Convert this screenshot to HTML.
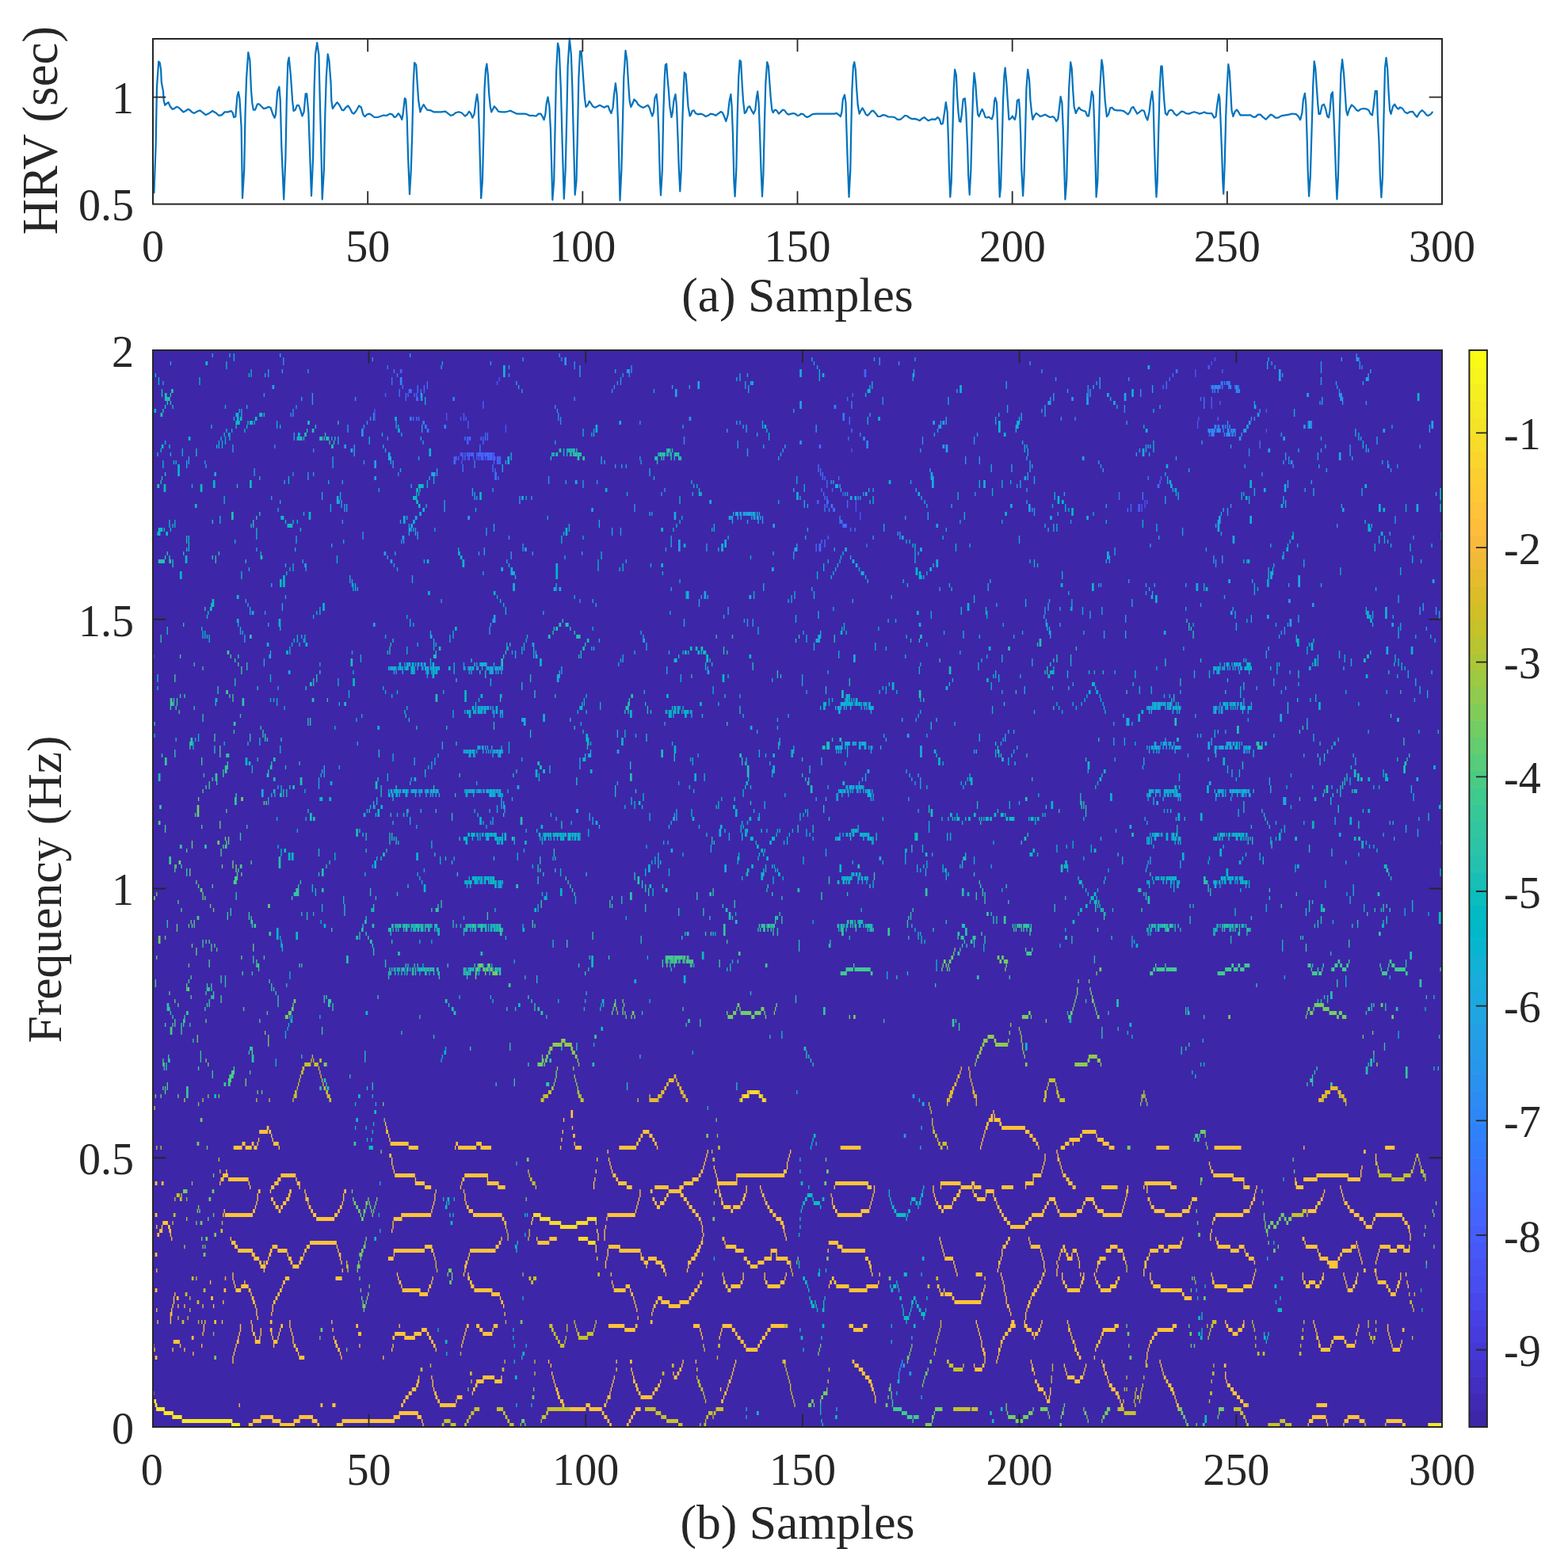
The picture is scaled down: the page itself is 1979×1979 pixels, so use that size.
<!DOCTYPE html>
<html><head><meta charset="utf-8"><title>HRV spectrogram</title>
<style>html,body{margin:0;padding:0;background:#fff;width:1979px;height:1979px;overflow:hidden}</style>
</head><body>
<svg width="1979" height="1979" viewBox="0 0 1979 1979" style="position:absolute;left:0;top:0"><rect width="1979" height="1979" fill="#ffffff"/><rect x="193" y="442" width="1627" height="1359" fill="#3e26a8"/><path fill="#4758f8" d="M472.3 521h1.36v5h-1.36zM563.1 521h1.36v5h-1.36zM472.3 516h1.36v5h-1.36zM588.9 551h2.71v5h-2.71zM637.7 541h1.36v5h-1.36zM1597.6 541h1.36v5h-1.36zM1510.9 531h1.36v5h-1.36zM637.7 536h1.36v5h-1.36zM1510.9 536h1.36v5h-1.36zM588.9 556h2.71v5h-2.71zM472.3 526h1.36v5h-1.36zM563.1 526h1.36v5h-1.36zM580.8 526h1.36v5h-1.36zM1512.2 526h1.36v5h-1.36zM580.8 571h2.71v5h-2.71zM591.6 571h2.71v5h-2.71zM597.0 571h1.36v5h-1.36zM610.6 571h1.36v5h-1.36zM621.4 571h1.36v5h-1.36zM1074.3 566h1.36v5h-1.36zM1085.1 651h1.36v5h-1.36zM1030.9 631h2.71v5h-2.71zM1079.7 631h1.36v5h-1.36zM1444.4 631h1.36v5h-1.36zM1447.1 631h1.36v5h-1.36zM1079.7 636h1.36v5h-1.36zM1436.3 636h2.71v5h-2.71zM1440.4 636h1.36v5h-1.36zM1444.4 636h1.36v5h-1.36zM1085.1 646h1.36v5h-1.36zM1079.7 641h1.36v5h-1.36zM1436.3 641h2.71v5h-2.71zM1440.4 641h1.36v5h-1.36zM574.0 576h1.36v5h-1.36zM591.6 576h1.36v5h-1.36zM597.0 576h1.36v5h-1.36zM621.4 576h1.36v5h-1.36zM630.9 576h1.36v5h-1.36zM574.0 581h1.36v5h-1.36zM582.1 581h1.36v5h-1.36zM630.9 581h1.36v5h-1.36zM626.9 481h1.36v5h-1.36zM629.6 476h1.36v5h-1.36zM1528.5 456h1.36v5h-1.36zM1524.4 461h2.71v5h-2.71zM1532.6 451h1.36v5h-1.36zM1508.2 471h1.36v5h-1.36zM1508.2 466h1.36v5h-1.36z"/><path fill="#4563fd" d="M584.8 521h1.36v5h-1.36zM1597.6 516h1.36v5h-1.36zM609.2 511h1.36v5h-1.36zM1528.5 511h1.36v5h-1.36zM609.2 506h1.36v5h-1.36zM1528.5 506h1.36v5h-1.36zM1539.3 506h1.36v5h-1.36zM1528.5 501h1.36v5h-1.36zM485.9 496h1.36v5h-1.36zM591.6 551h2.71v5h-2.71zM590.3 531h1.36v5h-1.36zM590.3 536h1.36v5h-1.36zM584.8 526h1.36v5h-1.36zM587.5 526h1.36v5h-1.36zM583.5 571h1.36v5h-1.36zM588.9 571h2.71v5h-2.71zM594.3 571h2.71v5h-2.71zM601.1 571h1.36v5h-1.36zM603.8 571h4.07v5h-4.07zM609.2 571h1.36v5h-1.36zM612.0 571h4.07v5h-4.07zM617.4 571h4.07v5h-4.07zM622.8 571h1.36v5h-1.36zM1464.8 601h1.36v5h-1.36zM1049.9 616h1.36v5h-1.36zM572.6 576h1.36v5h-1.36zM578.1 576h1.36v5h-1.36zM583.5 576h1.36v5h-1.36zM590.3 576h1.36v5h-1.36zM601.1 576h1.36v5h-1.36zM603.8 576h1.36v5h-1.36zM606.5 576h1.36v5h-1.36zM609.2 576h1.36v5h-1.36zM612.0 576h1.36v5h-1.36zM614.7 576h1.36v5h-1.36zM617.4 576h4.07v5h-4.07zM622.8 576h2.71v5h-2.71zM626.9 576h2.71v5h-2.71zM622.8 581h1.36v5h-1.36zM626.9 581h2.71v5h-2.71zM1090.6 471h2.71v5h-2.71zM504.8 466h2.71v5h-2.71zM1090.6 466h2.71v5h-2.71zM1542.1 466h1.36v5h-1.36z"/><path fill="#3e6fff" d="M511.6 501h1.36v5h-1.36zM525.2 501h2.71v5h-2.71zM530.6 501h1.36v5h-1.36zM1068.9 501h1.36v5h-1.36zM1514.9 501h1.36v5h-1.36zM511.6 496h1.36v5h-1.36zM514.3 496h1.36v5h-1.36zM522.5 496h1.36v5h-1.36zM525.2 496h1.36v5h-1.36zM1075.6 496h1.36v5h-1.36zM515.7 491h4.07v5h-4.07zM530.6 491h1.36v5h-1.36zM534.7 491h1.36v5h-1.36zM606.5 551h1.36v5h-1.36zM609.2 551h1.36v5h-1.36zM612.0 551h1.36v5h-1.36zM614.7 551h1.36v5h-1.36zM612.0 546h1.36v5h-1.36zM614.7 546h1.36v5h-1.36zM1071.6 531h1.36v5h-1.36zM609.2 556h1.36v5h-1.36zM1033.6 561h2.71v5h-2.71zM1071.6 526h1.36v5h-1.36zM1536.6 526h1.36v5h-1.36zM507.6 486h1.36v5h-1.36zM534.7 486h1.36v5h-1.36zM538.7 486h1.36v5h-1.36zM1467.5 486h1.36v5h-1.36zM1471.6 486h1.36v5h-1.36zM586.2 571h1.36v5h-1.36zM602.5 571h1.36v5h-1.36zM607.9 571h1.36v5h-1.36zM616.0 571h1.36v5h-1.36zM1043.1 611h1.36v5h-1.36zM1460.7 611h2.71v5h-2.71zM1043.1 606h1.36v5h-1.36zM1463.4 606h1.36v5h-1.36zM624.2 601h2.71v5h-2.71zM628.2 601h1.36v5h-1.36zM1037.7 601h1.36v5h-1.36zM1040.4 601h1.36v5h-1.36zM1058.0 601h1.36v5h-1.36zM624.2 596h2.71v5h-2.71zM1035.0 596h1.36v5h-1.36zM1037.7 596h1.36v5h-1.36zM1072.9 666h1.36v5h-1.36zM1063.4 661h5.42v5h-5.42zM1060.7 656h2.71v5h-2.71zM1036.3 616h1.36v5h-1.36zM1040.4 626h1.36v5h-1.36zM1043.1 626h1.36v5h-1.36zM1039.0 621h1.36v5h-1.36zM1063.4 621h1.36v5h-1.36zM1043.1 631h2.71v5h-2.71zM1068.9 631h1.36v5h-1.36zM1043.1 636h1.36v5h-1.36zM1048.5 636h2.71v5h-2.71zM1068.9 636h1.36v5h-1.36zM1426.8 636h1.36v5h-1.36zM1051.2 641h2.71v5h-2.71zM1422.7 641h1.36v5h-1.36zM1426.8 641h1.36v5h-1.36zM1029.5 691h1.36v5h-1.36zM1033.6 691h2.71v5h-2.71zM575.3 576h1.36v5h-1.36zM586.2 576h1.36v5h-1.36zM607.9 576h1.36v5h-1.36zM616.0 576h1.36v5h-1.36zM629.6 576h1.36v5h-1.36zM629.6 581h1.36v5h-1.36zM538.7 481h1.36v5h-1.36zM1471.6 481h1.36v5h-1.36zM1475.6 476h1.36v5h-1.36zM1479.7 471h1.36v5h-1.36zM1483.8 466h2.71v5h-2.71zM621.4 586h1.36v5h-1.36zM1032.3 586h1.36v5h-1.36zM621.4 591h1.36v5h-1.36zM624.2 591h1.36v5h-1.36zM1032.3 591h1.36v5h-1.36zM1035.0 591h1.36v5h-1.36zM1044.5 676h1.36v5h-1.36zM1036.3 681h1.36v5h-1.36zM1040.4 681h1.36v5h-1.36zM1029.5 686h1.36v5h-1.36zM1033.6 686h2.71v5h-2.71zM1040.4 686h1.36v5h-1.36z"/><path fill="#327cfc" d="M1063.4 521h2.71v5h-2.71zM1519.0 511h1.36v5h-1.36zM1519.0 506h1.36v5h-1.36zM571.3 501h2.71v5h-2.71zM1519.0 501h1.36v5h-1.36zM503.5 496h1.36v5h-1.36zM503.5 491h1.36v5h-1.36zM526.5 491h1.36v5h-1.36zM586.2 551h1.36v5h-1.36zM1070.2 551h1.36v5h-1.36zM1525.8 546h1.36v5h-1.36zM538.7 541h2.71v5h-2.71zM1552.9 541h2.71v5h-2.71zM533.3 531h2.71v5h-2.71zM536.0 536h2.71v5h-2.71zM1538.0 536h1.36v5h-1.36zM1542.1 536h1.36v5h-1.36zM1589.5 556h1.36v5h-1.36zM605.2 561h1.36v5h-1.36zM1589.5 561h1.36v5h-1.36zM517.0 526h2.71v5h-2.71zM521.1 526h1.36v5h-1.36zM525.2 526h1.36v5h-1.36zM527.9 526h1.36v5h-1.36zM1063.4 526h2.71v5h-2.71zM526.5 486h1.36v5h-1.36zM605.2 566h1.36v5h-1.36zM1078.4 666h1.36v5h-1.36zM1411.9 626h1.36v5h-1.36zM1441.7 626h1.36v5h-1.36zM1411.9 621h1.36v5h-1.36zM1441.7 621h1.36v5h-1.36zM1040.4 636h1.36v5h-1.36zM1040.4 641h1.36v5h-1.36zM598.4 581h1.36v5h-1.36zM494.0 481h1.36v5h-1.36zM1548.8 481h1.36v5h-1.36zM494.0 476h1.36v5h-1.36zM583.5 586h1.36v5h-1.36zM598.4 586h1.36v5h-1.36zM583.5 591h1.36v5h-1.36zM1093.3 686h1.36v5h-1.36z"/><path fill="#2e87f7" d="M1052.6 511h2.71v5h-2.71zM1074.3 511h1.36v5h-1.36zM1074.3 506h1.36v5h-1.36zM1529.9 491h1.36v5h-1.36zM1532.6 491h1.36v5h-1.36zM1559.7 491h1.36v5h-1.36zM1562.4 491h2.71v5h-2.71zM1089.2 551h2.71v5h-2.71zM1085.1 546h1.36v5h-1.36zM1529.9 546h2.71v5h-2.71zM1555.6 546h1.36v5h-1.36zM1074.3 541h1.36v5h-1.36zM1527.1 541h1.36v5h-1.36zM1531.2 541h2.71v5h-2.71zM1543.4 541h1.36v5h-1.36zM1555.6 541h2.71v5h-2.71zM560.4 536h2.71v5h-2.71zM1532.6 536h2.71v5h-2.71zM1536.6 536h1.36v5h-1.36zM1543.4 536h1.36v5h-1.36zM1093.3 556h2.71v5h-2.71zM1093.3 561h2.71v5h-2.71zM1529.9 486h1.36v5h-1.36zM1532.6 486h4.07v5h-4.07zM1538.0 486h2.71v5h-2.71zM1542.1 486h1.36v5h-1.36zM1551.5 486h2.71v5h-2.71zM1559.7 486h1.36v5h-1.36zM1562.4 486h1.36v5h-1.36zM1575.9 571h1.36v5h-1.36zM1575.9 566h1.36v5h-1.36zM1448.5 601h1.36v5h-1.36zM1059.4 651h1.36v5h-1.36zM1059.4 656h1.36v5h-1.36zM1045.8 641h1.36v5h-1.36zM572.6 581h1.36v5h-1.36zM504.8 481h2.71v5h-2.71zM1540.7 481h2.71v5h-2.71zM1544.8 481h1.36v5h-1.36zM1547.5 481h1.36v5h-1.36zM1551.5 481h1.36v5h-1.36zM504.8 476h2.71v5h-2.71zM488.6 461h1.36v5h-1.36zM500.8 471h1.36v5h-1.36zM496.7 466h1.36v5h-1.36z"/><path fill="#2b91ef" d="M1536.6 491h1.36v5h-1.36zM1561.0 491h1.36v5h-1.36zM1528.5 546h1.36v5h-1.36zM1544.8 546h1.36v5h-1.36zM1547.5 546h5.42v5h-5.42zM1554.3 546h1.36v5h-1.36zM1558.3 546h1.36v5h-1.36zM1524.4 541h2.71v5h-2.71zM1528.5 541h2.71v5h-2.71zM1535.3 541h5.42v5h-5.42zM1548.8 541h2.71v5h-2.71zM1558.3 541h1.36v5h-1.36zM1546.1 536h1.36v5h-1.36zM1548.8 536h1.36v5h-1.36zM1551.5 536h1.36v5h-1.36zM1528.5 486h1.36v5h-1.36zM1531.2 486h1.36v5h-1.36zM1536.6 486h1.36v5h-1.36zM1550.2 486h1.36v5h-1.36zM1558.3 486h1.36v5h-1.36zM1561.0 486h1.36v5h-1.36zM1550.2 481h1.36v5h-1.36z"/><path fill="#2797eb" d="M366.5 521h1.36v5h-1.36zM369.3 521h1.36v5h-1.36zM470.9 521h1.36v5h-1.36zM704.1 521h1.36v5h-1.36zM369.3 516h1.36v5h-1.36zM702.8 516h1.36v5h-1.36zM1418.7 516h1.36v5h-1.36zM373.3 511h1.36v5h-1.36zM700.1 511h1.36v5h-1.36zM1418.7 511h1.36v5h-1.36zM1113.6 506h1.36v5h-1.36zM1693.9 506h1.36v5h-1.36zM1113.6 501h1.36v5h-1.36zM1352.2 501h2.71v5h-2.71zM1691.2 501h4.07v5h-4.07zM1372.6 496h1.36v5h-1.36zM1439.0 496h1.36v5h-1.36zM1689.8 496h4.07v5h-4.07zM771.9 491h1.36v5h-1.36zM1372.6 491h1.36v5h-1.36zM1439.0 491h1.36v5h-1.36zM1689.8 491h1.36v5h-1.36zM488.6 551h1.36v5h-1.36zM1163.8 551h1.36v5h-1.36zM456.0 546h2.71v5h-2.71zM456.0 541h2.71v5h-2.71zM462.8 531h1.36v5h-1.36zM706.9 531h1.36v5h-1.36zM807.2 531h1.36v5h-1.36zM1650.5 531h1.36v5h-1.36zM1654.6 531h1.36v5h-1.36zM458.7 536h1.36v5h-1.36zM1184.1 536h2.71v5h-2.71zM1645.1 536h2.71v5h-2.71zM1650.5 536h1.36v5h-1.36zM1654.6 536h1.36v5h-1.36zM1009.2 556h2.71v5h-2.71zM1163.8 556h1.36v5h-1.36zM346.2 561h1.36v5h-1.36zM434.3 561h2.71v5h-2.71zM466.9 526h1.36v5h-1.36zM470.9 526h1.36v5h-1.36zM704.1 526h1.36v5h-1.36zM706.9 526h1.36v5h-1.36zM869.6 526h2.71v5h-2.71zM1338.7 526h1.36v5h-1.36zM1356.3 526h1.36v5h-1.36zM774.7 486h1.36v5h-1.36zM1372.6 486h1.36v5h-1.36zM1687.1 486h1.36v5h-1.36zM1622.0 571h1.36v5h-1.36zM395.0 566h1.36v5h-1.36zM369.3 596h1.36v5h-1.36zM502.1 596h1.36v5h-1.36zM1622.0 576h1.36v5h-1.36zM1626.1 576h1.36v5h-1.36zM1626.1 581h1.36v5h-1.36zM1628.8 581h2.71v5h-2.71zM778.7 481h1.36v5h-1.36zM782.8 481h1.36v5h-1.36zM1685.8 481h1.36v5h-1.36zM782.8 476h1.36v5h-1.36zM357.1 456h1.36v5h-1.36zM712.3 456h2.71v5h-2.71zM724.5 456h1.36v5h-1.36zM1715.6 456h1.36v5h-1.36zM724.5 461h1.36v5h-1.36zM796.3 461h1.36v5h-1.36zM1715.6 461h1.36v5h-1.36zM1718.3 461h1.36v5h-1.36zM705.5 446h1.36v5h-1.36zM1711.5 446h1.36v5h-1.36zM357.1 451h1.36v5h-1.36zM469.6 451h1.36v5h-1.36zM708.2 451h1.36v5h-1.36zM712.3 451h2.71v5h-2.71zM1711.5 451h4.07v5h-4.07zM641.8 471h1.36v5h-1.36zM785.5 471h1.36v5h-1.36zM793.6 471h1.36v5h-1.36zM790.9 466h4.07v5h-4.07zM796.3 466h1.36v5h-1.36zM1631.5 586h1.36v5h-1.36zM1752.2 586h1.36v5h-1.36zM1763.1 586h1.36v5h-1.36zM1754.9 591h1.36v5h-1.36z"/><path fill="#259be8" d="M1140.7 1431h2.71v5h-2.71zM1151.6 1381h2.71v5h-2.71zM1138.0 1716h1.36v5h-1.36zM1133.9 1736h1.36v5h-1.36zM1133.9 1731h1.36v5h-1.36zM1147.5 1731h2.71v5h-2.71zM1136.7 1721h1.36v5h-1.36zM1139.4 1721h2.71v5h-2.71zM1135.3 1726h1.36v5h-1.36zM1586.8 521h2.71v5h-2.71zM1589.5 516h1.36v5h-1.36zM1563.7 551h2.71v5h-2.71zM1566.5 546h1.36v5h-1.36zM1569.2 541h4.07v5h-4.07zM1575.9 531h2.71v5h-2.71zM1573.2 536h2.71v5h-2.71zM1578.7 526h1.36v5h-1.36zM1582.7 526h1.36v5h-1.36z"/><path fill="#23a0e5" d="M1270.9 516h1.36v5h-1.36zM1009.2 511h2.71v5h-2.71zM1270.9 511h1.36v5h-1.36zM1009.2 506h2.71v5h-2.71zM1668.1 506h1.36v5h-1.36zM1723.7 506h1.36v5h-1.36zM724.5 501h1.36v5h-1.36zM332.7 496h1.36v5h-1.36zM851.9 496h2.71v5h-2.71zM851.9 491h2.71v5h-2.71zM418.1 551h1.36v5h-1.36zM862.8 551h1.36v5h-1.36zM1228.9 551h1.36v5h-1.36zM1619.3 551h2.71v5h-2.71zM1232.9 546h1.36v5h-1.36zM1745.4 541h2.71v5h-2.71zM1186.8 531h1.36v5h-1.36zM1548.8 531h1.36v5h-1.36zM862.8 556h1.36v5h-1.36zM930.6 556h1.36v5h-1.36zM1228.9 556h1.36v5h-1.36zM930.6 561h1.36v5h-1.36zM1189.5 561h2.71v5h-2.71zM1552.9 561h1.36v5h-1.36zM1672.2 561h1.36v5h-1.36zM1703.4 561h1.36v5h-1.36zM1791.5 561h1.36v5h-1.36zM847.9 486h1.36v5h-1.36zM869.6 486h1.36v5h-1.36zM940.1 486h1.36v5h-1.36zM1662.7 571h1.36v5h-1.36zM1703.4 571h1.36v5h-1.36zM1666.8 566h1.36v5h-1.36zM1703.4 566h1.36v5h-1.36zM735.3 611h1.36v5h-1.36zM431.6 606h1.36v5h-1.36zM691.9 606h1.36v5h-1.36zM735.3 606h1.36v5h-1.36zM753.0 606h1.36v5h-1.36zM472.3 601h2.71v5h-2.71zM691.9 601h1.36v5h-1.36zM1592.2 596h1.36v5h-1.36zM457.4 671h1.36v5h-1.36zM613.3 671h1.36v5h-1.36zM782.8 671h1.36v5h-1.36zM1132.6 671h1.36v5h-1.36zM1135.3 671h1.36v5h-1.36zM613.3 666h1.36v5h-1.36zM782.8 666h1.36v5h-1.36zM1491.9 666h1.36v5h-1.36zM975.3 661h2.71v5h-2.71zM1181.4 661h2.71v5h-2.71zM1687.1 661h1.36v5h-1.36zM381.5 706h1.36v5h-1.36zM492.6 706h2.71v5h-2.71zM1531.2 706h1.36v5h-1.36zM1533.9 706h1.36v5h-1.36zM488.6 701h1.36v5h-1.36zM644.5 701h1.36v5h-1.36zM1531.2 701h1.36v5h-1.36zM484.5 696h2.71v5h-2.71zM603.8 696h1.36v5h-1.36zM644.5 696h1.36v5h-1.36zM671.6 696h1.36v5h-1.36zM384.2 711h2.71v5h-2.71zM496.7 711h1.36v5h-1.36zM1533.9 711h1.36v5h-1.36zM590.3 651h2.71v5h-2.71zM934.6 651h1.36v5h-1.36zM948.2 651h1.36v5h-1.36zM959.0 651h1.36v5h-1.36zM961.8 651h1.36v5h-1.36zM1760.3 651h1.36v5h-1.36zM961.8 656h1.36v5h-1.36zM1350.9 656h1.36v5h-1.36zM1760.3 656h1.36v5h-1.36zM621.4 616h1.36v5h-1.36zM838.4 616h1.36v5h-1.36zM405.9 626h1.36v5h-1.36zM655.3 626h1.36v5h-1.36zM1575.9 626h1.36v5h-1.36zM405.9 621h1.36v5h-1.36zM834.3 621h1.36v5h-1.36zM1230.2 621h1.36v5h-1.36zM655.3 631h1.36v5h-1.36zM1295.3 631h1.36v5h-1.36zM800.4 636h1.36v5h-1.36zM1298.0 636h2.71v5h-2.71zM1552.9 636h1.36v5h-1.36zM933.3 646h2.71v5h-2.71zM938.7 646h1.36v5h-1.36zM941.4 646h2.71v5h-2.71zM948.2 646h1.36v5h-1.36zM957.7 646h1.36v5h-1.36zM1304.8 646h1.36v5h-1.36zM1334.6 646h1.36v5h-1.36zM1548.8 646h1.36v5h-1.36zM746.2 641h2.71v5h-2.71zM800.4 641h1.36v5h-1.36zM1298.0 641h2.71v5h-2.71zM1302.1 641h1.36v5h-1.36zM1304.8 641h1.36v5h-1.36zM1548.8 641h1.36v5h-1.36zM385.5 716h1.36v5h-1.36zM500.8 716h1.36v5h-1.36zM659.4 691h1.36v5h-1.36zM662.1 691h2.71v5h-2.71zM839.7 691h1.36v5h-1.36zM856.0 691h2.71v5h-2.71zM891.3 691h1.36v5h-1.36zM1424.1 731h1.36v5h-1.36zM1613.9 801h1.36v5h-1.36zM617.4 796h1.36v5h-1.36zM1013.3 796h1.36v5h-1.36zM1289.9 796h1.36v5h-1.36zM1616.6 796h1.36v5h-1.36zM1620.7 796h1.36v5h-1.36zM617.4 791h1.36v5h-1.36zM1620.7 791h1.36v5h-1.36zM1799.7 791h1.36v5h-1.36zM470.9 786h2.71v5h-2.71zM618.7 786h1.36v5h-1.36zM942.8 786h1.36v5h-1.36zM949.6 786h1.36v5h-1.36zM1624.8 786h1.36v5h-1.36zM1627.5 786h2.71v5h-2.71zM621.4 781h4.07v5h-4.07zM938.7 781h1.36v5h-1.36zM942.8 781h1.36v5h-1.36zM949.6 781h1.36v5h-1.36zM1420.0 781h1.36v5h-1.36zM1627.5 781h2.71v5h-2.71zM1218.0 576h1.36v5h-1.36zM1235.6 576h1.36v5h-1.36zM1662.7 576h1.36v5h-1.36zM458.7 581h1.36v5h-1.36zM472.3 581h2.71v5h-2.71zM1218.0 581h1.36v5h-1.36zM1235.6 581h1.36v5h-1.36zM1750.9 581h1.36v5h-1.36zM940.1 481h1.36v5h-1.36zM1424.1 476h1.36v5h-1.36zM1613.9 476h2.71v5h-2.71zM1109.5 456h1.36v5h-1.36zM1604.4 456h1.36v5h-1.36zM1666.8 456h1.36v5h-1.36zM641.8 461h1.36v5h-1.36zM1608.5 461h1.36v5h-1.36zM1666.8 461h1.36v5h-1.36zM1102.8 451h1.36v5h-1.36zM1109.5 451h1.36v5h-1.36zM1600.4 451h1.36v5h-1.36zM1613.9 471h2.71v5h-2.71zM1618.0 471h1.36v5h-1.36zM1314.3 466h1.36v5h-1.36zM1613.9 466h2.71v5h-2.71zM1666.8 466h1.36v5h-1.36zM472.3 586h2.71v5h-2.71zM776.0 586h1.36v5h-1.36zM1750.9 586h1.36v5h-1.36zM457.4 676h1.36v5h-1.36zM507.6 676h2.71v5h-2.71zM641.8 676h1.36v5h-1.36zM1135.3 676h1.36v5h-1.36zM1138.0 676h2.71v5h-2.71zM1783.4 676h1.36v5h-1.36zM506.2 681h1.36v5h-1.36zM508.9 681h1.36v5h-1.36zM856.0 681h2.71v5h-2.71zM659.4 686h1.36v5h-1.36zM856.0 686h2.71v5h-2.71zM891.3 686h1.36v5h-1.36zM359.8 751h1.36v5h-1.36zM884.5 751h1.36v5h-1.36zM888.5 751h2.71v5h-2.71zM334.0 771h1.36v5h-1.36zM1318.3 771h1.36v5h-1.36zM1811.9 771h1.36v5h-1.36zM1815.9 771h1.36v5h-1.36zM1318.3 766h1.36v5h-1.36zM1322.4 766h1.36v5h-1.36zM1811.9 766h1.36v5h-1.36zM881.8 761h1.36v5h-1.36zM1322.4 761h1.36v5h-1.36zM1514.9 761h1.36v5h-1.36zM1655.9 761h2.71v5h-2.71zM731.3 756h1.36v5h-1.36zM881.8 756h1.36v5h-1.36zM1626.1 756h2.71v5h-2.71zM622.8 776h2.71v5h-2.71zM1420.0 776h1.36v5h-1.36zM1815.9 776h1.36v5h-1.36zM1386.1 736h1.36v5h-1.36zM1388.8 736h1.36v5h-1.36zM1456.6 736h1.36v5h-1.36zM1496.0 736h1.36v5h-1.36zM1626.1 736h1.36v5h-1.36zM846.5 741h1.36v5h-1.36zM888.5 746h2.71v5h-2.71z"/><path fill="#1ca9df" d="M1260.0 521h1.36v5h-1.36zM1318.3 521h1.36v5h-1.36zM1314.3 516h1.36v5h-1.36zM1318.3 516h1.36v5h-1.36zM1318.3 511h1.36v5h-1.36zM1582.7 511h2.71v5h-2.71zM393.7 506h1.36v5h-1.36zM1322.4 506h4.07v5h-4.07zM1371.2 506h2.71v5h-2.71zM1582.7 506h1.36v5h-1.36zM393.7 501h1.36v5h-1.36zM447.9 501h1.36v5h-1.36zM532.0 501h1.36v5h-1.36zM1325.1 501h1.36v5h-1.36zM1329.2 501h1.36v5h-1.36zM1371.2 501h2.71v5h-2.71zM1418.7 501h2.71v5h-2.71zM393.7 496h1.36v5h-1.36zM530.6 496h2.71v5h-2.71zM1329.2 496h1.36v5h-1.36zM1371.2 496h1.36v5h-1.36zM1375.3 496h1.36v5h-1.36zM1418.7 496h2.71v5h-2.71zM1649.2 496h2.71v5h-2.71zM658.1 491h1.36v5h-1.36zM944.1 491h1.36v5h-1.36zM1346.8 491h1.36v5h-1.36zM1375.3 491h1.36v5h-1.36zM1453.9 491h1.36v5h-1.36zM370.6 551h1.36v5h-1.36zM1737.3 551h1.36v5h-1.36zM370.6 546h1.36v5h-1.36zM481.8 546h1.36v5h-1.36zM955.0 546h1.36v5h-1.36zM1178.7 546h1.36v5h-1.36zM1616.6 546h1.36v5h-1.36zM438.4 541h1.36v5h-1.36zM532.0 541h1.36v5h-1.36zM917.0 541h1.36v5h-1.36zM941.4 541h1.36v5h-1.36zM1029.5 541h1.36v5h-1.36zM1182.8 541h1.36v5h-1.36zM1803.7 541h1.36v5h-1.36zM781.4 531h2.71v5h-2.71zM929.2 531h1.36v5h-1.36zM933.3 531h1.36v5h-1.36zM1177.3 531h2.71v5h-2.71zM1189.5 531h2.71v5h-2.71zM1193.6 531h1.36v5h-1.36zM1651.9 531h2.71v5h-2.71zM1806.4 531h2.71v5h-2.71zM438.4 536h1.36v5h-1.36zM532.0 536h1.36v5h-1.36zM937.4 536h1.36v5h-1.36zM941.4 536h1.36v5h-1.36zM1029.5 536h1.36v5h-1.36zM1186.8 536h1.36v5h-1.36zM1651.9 536h2.71v5h-2.71zM1803.7 536h1.36v5h-1.36zM1806.4 536h2.71v5h-2.71zM1737.3 556h1.36v5h-1.36zM293.3 561h1.36v5h-1.36zM446.5 561h1.36v5h-1.36zM483.1 561h1.36v5h-1.36zM963.1 561h1.36v5h-1.36zM990.2 561h1.36v5h-1.36zM1193.6 561h2.71v5h-2.71zM1445.8 561h1.36v5h-1.36zM1448.5 561h1.36v5h-1.36zM1451.2 561h1.36v5h-1.36zM1193.6 526h1.36v5h-1.36zM343.5 486h2.71v5h-2.71zM654.0 486h1.36v5h-1.36zM880.4 486h2.71v5h-2.71zM944.1 486h1.36v5h-1.36zM1269.5 486h1.36v5h-1.36zM1379.4 486h1.36v5h-1.36zM1387.5 486h1.36v5h-1.36zM1453.9 486h1.36v5h-1.36zM446.5 571h1.36v5h-1.36zM489.9 571h2.71v5h-2.71zM942.8 571h1.36v5h-1.36zM984.8 571h1.36v5h-1.36zM1433.6 571h1.36v5h-1.36zM1441.7 571h2.71v5h-2.71zM1449.9 571h1.36v5h-1.36zM1689.8 571h2.71v5h-2.71zM293.3 566h1.36v5h-1.36zM442.5 566h2.71v5h-2.71zM446.5 566h1.36v5h-1.36zM485.9 566h1.36v5h-1.36zM942.8 566h1.36v5h-1.36zM987.5 566h1.36v5h-1.36zM1193.6 566h2.71v5h-2.71zM1437.7 566h1.36v5h-1.36zM1441.7 566h2.71v5h-2.71zM1445.8 566h1.36v5h-1.36zM1600.4 566h2.71v5h-2.71zM1638.3 566h1.36v5h-1.36zM1726.4 566h1.36v5h-1.36zM1054.0 611h4.07v5h-4.07zM1059.4 611h1.36v5h-1.36zM1176.0 611h2.71v5h-2.71zM1283.1 611h1.36v5h-1.36zM1287.2 611h1.36v5h-1.36zM1620.7 611h2.71v5h-2.71zM1624.8 611h1.36v5h-1.36zM1048.5 606h1.36v5h-1.36zM1051.2 606h1.36v5h-1.36zM1176.0 606h2.71v5h-2.71zM1287.2 606h1.36v5h-1.36zM1624.8 606h1.36v5h-1.36zM1654.6 606h1.36v5h-1.36zM388.2 601h1.36v5h-1.36zM541.4 601h1.36v5h-1.36zM1174.6 601h4.07v5h-4.07zM1292.6 601h2.71v5h-2.71zM1296.6 601h1.36v5h-1.36zM270.3 596h2.71v5h-2.71zM320.4 596h1.36v5h-1.36zM388.2 596h1.36v5h-1.36zM395.0 596h1.36v5h-1.36zM544.2 596h5.42v5h-5.42zM550.9 596h1.36v5h-1.36zM1174.6 596h2.71v5h-2.71zM1296.6 596h1.36v5h-1.36zM523.8 671h1.36v5h-1.36zM526.5 671h1.36v5h-1.36zM1753.6 671h1.36v5h-1.36zM515.7 666h1.36v5h-1.36zM518.4 666h1.36v5h-1.36zM521.1 666h1.36v5h-1.36zM523.8 666h1.36v5h-1.36zM1536.6 666h2.71v5h-2.71zM515.7 661h1.36v5h-1.36zM1533.9 661h1.36v5h-1.36zM1536.6 661h2.71v5h-2.71zM1154.3 706h1.36v5h-1.36zM1395.6 706h1.36v5h-1.36zM1399.7 706h1.36v5h-1.36zM1542.1 706h1.36v5h-1.36zM1792.9 706h1.36v5h-1.36zM712.3 701h1.36v5h-1.36zM1001.1 701h1.36v5h-1.36zM1154.3 701h1.36v5h-1.36zM1399.7 701h1.36v5h-1.36zM1542.1 701h1.36v5h-1.36zM1619.3 701h1.36v5h-1.36zM734.0 696h1.36v5h-1.36zM1001.1 696h1.36v5h-1.36zM1154.3 696h1.36v5h-1.36zM1158.4 696h1.36v5h-1.36zM1619.3 696h1.36v5h-1.36zM850.6 651h2.71v5h-2.71zM921.1 651h1.36v5h-1.36zM923.8 651h1.36v5h-1.36zM930.6 651h1.36v5h-1.36zM952.3 651h1.36v5h-1.36zM1170.6 651h1.36v5h-1.36zM1325.1 651h2.71v5h-2.71zM1538.0 651h2.71v5h-2.71zM431.6 656h1.36v5h-1.36zM923.8 656h1.36v5h-1.36zM1536.6 656h4.07v5h-4.07zM1060.7 616h1.36v5h-1.36zM1096.0 616h1.36v5h-1.36zM1101.4 616h1.36v5h-1.36zM1620.7 616h2.71v5h-2.71zM1718.3 616h1.36v5h-1.36zM342.1 626h1.36v5h-1.36zM424.8 626h2.71v5h-2.71zM670.3 626h1.36v5h-1.36zM1072.9 626h2.71v5h-2.71zM1078.4 626h2.71v5h-2.71zM1082.4 626h1.36v5h-1.36zM1085.1 626h1.36v5h-1.36zM1470.2 626h1.36v5h-1.36zM873.6 621h1.36v5h-1.36zM1066.2 621h1.36v5h-1.36zM1068.9 621h1.36v5h-1.36zM1089.2 621h1.36v5h-1.36zM1091.9 621h2.71v5h-2.71zM1342.7 621h1.36v5h-1.36zM1718.3 621h1.36v5h-1.36zM424.8 631h4.07v5h-4.07zM430.3 631h1.36v5h-1.36zM560.4 631h1.36v5h-1.36zM1470.2 631h1.36v5h-1.36zM430.3 636h1.36v5h-1.36zM434.3 636h1.36v5h-1.36zM437.0 636h1.36v5h-1.36zM560.4 636h1.36v5h-1.36zM1200.4 636h1.36v5h-1.36zM1692.6 636h1.36v5h-1.36zM1787.5 636h2.71v5h-2.71zM1817.3 636h2.71v5h-2.71zM850.6 646h2.71v5h-2.71zM925.1 646h1.36v5h-1.36zM927.9 646h4.07v5h-4.07zM937.4 646h1.36v5h-1.36zM940.1 646h1.36v5h-1.36zM946.8 646h1.36v5h-1.36zM952.3 646h1.36v5h-1.36zM1170.6 646h1.36v5h-1.36zM1540.7 646h1.36v5h-1.36zM434.3 641h1.36v5h-1.36zM437.0 641h1.36v5h-1.36zM560.4 641h1.36v5h-1.36zM1543.4 641h1.36v5h-1.36zM1693.9 641h2.71v5h-2.71zM1787.5 641h2.71v5h-2.71zM1817.3 641h2.71v5h-2.71zM1638.3 726h2.71v5h-2.71zM1002.4 691h4.07v5h-4.07zM1161.1 691h2.71v5h-2.71zM1249.2 731h1.36v5h-1.36zM1638.3 731h2.71v5h-2.71zM1807.8 731h2.71v5h-2.71zM1082.4 886h1.36v5h-1.36zM1093.3 886h1.36v5h-1.36zM1453.9 886h1.36v5h-1.36zM1459.3 886h1.36v5h-1.36zM1464.8 886h1.36v5h-1.36zM1474.3 886h1.36v5h-1.36zM1539.3 886h1.36v5h-1.36zM1554.3 886h1.36v5h-1.36zM1561.0 886h1.36v5h-1.36zM609.2 891h1.36v5h-1.36zM612.0 891h1.36v5h-1.36zM618.7 891h1.36v5h-1.36zM621.4 891h1.36v5h-1.36zM1058.0 891h2.71v5h-2.71zM1093.3 891h1.36v5h-1.36zM1448.5 891h2.71v5h-2.71zM1452.6 891h2.71v5h-2.71zM1459.3 891h1.36v5h-1.36zM1479.7 891h1.36v5h-1.36zM1486.5 891h1.36v5h-1.36zM1532.6 891h2.71v5h-2.71zM1540.7 891h1.36v5h-1.36zM1561.0 891h1.36v5h-1.36zM612.0 896h1.36v5h-1.36zM621.4 896h1.36v5h-1.36zM632.3 896h1.36v5h-1.36zM1058.0 896h2.71v5h-2.71zM1449.9 896h1.36v5h-1.36zM1452.6 896h1.36v5h-1.36zM1479.7 896h1.36v5h-1.36zM1532.6 896h2.71v5h-2.71zM1540.7 896h1.36v5h-1.36zM811.3 801h1.36v5h-1.36zM1325.1 801h1.36v5h-1.36zM1392.9 801h1.36v5h-1.36zM808.5 796h1.36v5h-1.36zM1323.8 796h2.71v5h-2.71zM1392.9 796h1.36v5h-1.36zM1321.1 791h1.36v5h-1.36zM1323.8 791h1.36v5h-1.36zM1159.7 786h2.71v5h-2.71zM1319.7 786h2.71v5h-2.71zM1319.7 781h1.36v5h-1.36zM1638.3 781h1.36v5h-1.36zM815.3 816h1.36v5h-1.36zM510.3 836h1.36v5h-1.36zM517.0 836h1.36v5h-1.36zM526.5 836h1.36v5h-1.36zM532.0 836h1.36v5h-1.36zM534.7 836h2.71v5h-2.71zM601.1 836h1.36v5h-1.36zM612.0 836h2.71v5h-2.71zM1547.5 836h2.71v5h-2.71zM1557.0 836h2.71v5h-2.71zM1562.4 836h1.36v5h-1.36zM491.3 841h1.36v5h-1.36zM494.0 841h2.71v5h-2.71zM499.4 841h1.36v5h-1.36zM506.2 841h1.36v5h-1.36zM510.3 841h1.36v5h-1.36zM526.5 841h1.36v5h-1.36zM532.0 841h1.36v5h-1.36zM536.0 841h2.71v5h-2.71zM548.2 841h1.36v5h-1.36zM590.3 841h1.36v5h-1.36zM601.1 841h1.36v5h-1.36zM613.3 841h1.36v5h-1.36zM616.0 841h1.36v5h-1.36zM620.1 841h2.71v5h-2.71zM626.9 841h1.36v5h-1.36zM630.9 841h1.36v5h-1.36zM633.6 841h1.36v5h-1.36zM1535.3 841h1.36v5h-1.36zM1542.1 841h1.36v5h-1.36zM1548.8 841h1.36v5h-1.36zM1558.3 841h1.36v5h-1.36zM1562.4 841h1.36v5h-1.36zM499.4 846h1.36v5h-1.36zM537.4 846h1.36v5h-1.36zM548.2 846h1.36v5h-1.36zM620.1 846h2.71v5h-2.71zM1535.3 846h1.36v5h-1.36zM492.6 996h1.36v5h-1.36zM496.7 996h1.36v5h-1.36zM503.5 996h1.36v5h-1.36zM507.6 996h4.07v5h-4.07zM518.4 996h1.36v5h-1.36zM521.1 996h2.71v5h-2.71zM525.2 996h1.36v5h-1.36zM529.2 996h1.36v5h-1.36zM536.0 996h1.36v5h-1.36zM545.5 996h1.36v5h-1.36zM549.6 996h1.36v5h-1.36zM586.2 996h1.36v5h-1.36zM593.0 996h1.36v5h-1.36zM598.4 996h1.36v5h-1.36zM603.8 996h1.36v5h-1.36zM606.5 996h1.36v5h-1.36zM610.6 996h1.36v5h-1.36zM621.4 996h2.71v5h-2.71zM626.9 996h1.36v5h-1.36zM1068.9 996h1.36v5h-1.36zM1082.4 996h1.36v5h-1.36zM1458.0 996h2.71v5h-2.71zM1463.4 996h1.36v5h-1.36zM1468.8 996h1.36v5h-1.36zM1485.1 996h1.36v5h-1.36zM1543.4 996h1.36v5h-1.36zM1551.5 996h2.71v5h-2.71zM1563.7 996h1.36v5h-1.36zM1566.5 996h1.36v5h-1.36zM1573.2 996h1.36v5h-1.36zM1575.9 996h1.36v5h-1.36zM503.5 1001h1.36v5h-1.36zM529.2 1001h1.36v5h-1.36zM545.5 1001h1.36v5h-1.36zM549.6 1001h1.36v5h-1.36zM553.7 1001h1.36v5h-1.36zM621.4 1001h2.71v5h-2.71zM1055.3 1001h1.36v5h-1.36zM1447.1 1001h1.36v5h-1.36zM1458.0 1001h1.36v5h-1.36zM1463.4 1001h1.36v5h-1.36zM1468.8 1001h1.36v5h-1.36zM1485.1 1001h2.71v5h-2.71zM1543.4 1001h1.36v5h-1.36zM1566.5 1001h1.36v5h-1.36zM1575.9 1001h2.71v5h-2.71zM1055.3 1006h1.36v5h-1.36zM1486.5 1006h1.36v5h-1.36zM588.9 946h1.36v5h-1.36zM591.6 946h1.36v5h-1.36zM609.2 946h1.36v5h-1.36zM613.3 946h1.36v5h-1.36zM618.7 946h1.36v5h-1.36zM622.8 946h1.36v5h-1.36zM625.5 946h1.36v5h-1.36zM628.2 946h1.36v5h-1.36zM633.6 946h1.36v5h-1.36zM1449.9 946h1.36v5h-1.36zM1462.1 946h1.36v5h-1.36zM1533.9 946h1.36v5h-1.36zM1569.2 946h1.36v5h-1.36zM1573.2 946h1.36v5h-1.36zM591.6 951h1.36v5h-1.36zM628.2 951h1.36v5h-1.36zM603.8 941h1.36v5h-1.36zM607.9 941h2.71v5h-2.71zM612.0 941h1.36v5h-1.36zM620.1 941h1.36v5h-1.36zM1096.0 941h1.36v5h-1.36zM1449.9 941h1.36v5h-1.36zM1453.9 941h1.36v5h-1.36zM1456.6 941h1.36v5h-1.36zM1460.7 941h2.71v5h-2.71zM1471.6 941h1.36v5h-1.36zM1479.7 941h1.36v5h-1.36zM1485.1 941h2.71v5h-2.71zM1489.2 941h1.36v5h-1.36zM1533.9 941h1.36v5h-1.36zM1538.0 941h1.36v5h-1.36zM1546.1 941h2.71v5h-2.71zM1551.5 941h2.71v5h-2.71zM1563.7 941h1.36v5h-1.36zM1569.2 941h1.36v5h-1.36zM1573.2 941h1.36v5h-1.36zM1077.0 936h1.36v5h-1.36zM1079.7 936h1.36v5h-1.36zM1086.5 936h1.36v5h-1.36zM1456.6 936h1.36v5h-1.36zM1471.6 936h1.36v5h-1.36zM1474.3 936h1.36v5h-1.36zM1477.0 936h1.36v5h-1.36zM1481.0 936h1.36v5h-1.36zM1547.5 936h1.36v5h-1.36zM1551.5 936h2.71v5h-2.71zM1555.6 936h1.36v5h-1.36zM1563.7 936h1.36v5h-1.36zM1068.9 991h1.36v5h-1.36zM1077.0 991h1.36v5h-1.36zM1082.4 991h1.36v5h-1.36zM237.7 576h1.36v5h-1.36zM489.9 576h4.07v5h-4.07zM758.4 576h1.36v5h-1.36zM982.1 576h1.36v5h-1.36zM1295.3 576h1.36v5h-1.36zM1365.8 576h2.71v5h-2.71zM1483.8 576h1.36v5h-1.36zM1689.8 576h2.71v5h-2.71zM237.7 581h1.36v5h-1.36zM258.1 581h1.36v5h-1.36zM492.6 581h1.36v5h-1.36zM495.4 581h1.36v5h-1.36zM758.4 581h1.36v5h-1.36zM762.4 581h1.36v5h-1.36zM808.5 581h1.36v5h-1.36zM1299.4 581h1.36v5h-1.36zM1386.1 581h1.36v5h-1.36zM1744.1 581h1.36v5h-1.36zM651.3 481h1.36v5h-1.36zM880.4 481h2.71v5h-2.71zM946.8 481h1.36v5h-1.36zM1269.5 481h1.36v5h-1.36zM1383.4 481h1.36v5h-1.36zM1387.5 481h1.36v5h-1.36zM1666.8 481h1.36v5h-1.36zM1719.7 481h1.36v5h-1.36zM1151.6 476h1.36v5h-1.36zM1331.9 476h1.36v5h-1.36zM1387.5 476h1.36v5h-1.36zM1666.8 476h1.36v5h-1.36zM1723.7 476h4.07v5h-4.07zM214.7 456h1.36v5h-1.36zM618.7 456h1.36v5h-1.36zM1133.9 456h1.36v5h-1.36zM1299.4 456h1.36v5h-1.36zM1599.0 456h1.36v5h-1.36zM556.4 461h1.36v5h-1.36zM1599.0 461h1.36v5h-1.36zM353.0 446h1.36v5h-1.36zM517.0 446h1.36v5h-1.36zM659.4 451h1.36v5h-1.36zM1692.6 451h1.36v5h-1.36zM334.0 471h1.36v5h-1.36zM338.1 471h1.36v5h-1.36zM1009.2 471h2.71v5h-2.71zM1151.6 471h2.71v5h-2.71zM1726.4 471h1.36v5h-1.36zM338.1 466h1.36v5h-1.36zM355.7 466h1.36v5h-1.36zM1009.2 466h2.71v5h-2.71zM1152.9 466h1.36v5h-1.36zM1729.2 466h1.36v5h-1.36zM259.4 586h1.36v5h-1.36zM495.4 586h1.36v5h-1.36zM1276.3 586h1.36v5h-1.36zM1299.4 586h1.36v5h-1.36zM1302.1 586h1.36v5h-1.36zM1388.8 586h1.36v5h-1.36zM1664.1 586h1.36v5h-1.36zM320.4 591h1.36v5h-1.36zM550.9 591h1.36v5h-1.36zM1173.3 591h1.36v5h-1.36zM1276.3 591h1.36v5h-1.36zM1299.4 591h1.36v5h-1.36zM1391.6 591h1.36v5h-1.36zM526.5 676h1.36v5h-1.36zM846.5 676h1.36v5h-1.36zM1101.4 676h1.36v5h-1.36zM1285.8 676h1.36v5h-1.36zM1462.1 676h1.36v5h-1.36zM1555.6 676h2.71v5h-2.71zM846.5 681h1.36v5h-1.36zM1285.8 681h1.36v5h-1.36zM1555.6 681h2.71v5h-2.71zM846.5 686h1.36v5h-1.36zM1005.1 686h1.36v5h-1.36zM1451.2 686h1.36v5h-1.36zM811.3 806h2.71v5h-2.71zM945.5 751h2.71v5h-2.71zM1452.6 751h1.36v5h-1.36zM1764.4 751h1.36v5h-1.36zM685.2 771h1.36v5h-1.36zM918.4 771h1.36v5h-1.36zM1552.9 771h2.71v5h-2.71zM1791.5 771h1.36v5h-1.36zM918.4 766h1.36v5h-1.36zM1337.3 766h1.36v5h-1.36zM1791.5 766h1.36v5h-1.36zM1795.6 766h1.36v5h-1.36zM1257.3 761h1.36v5h-1.36zM1428.2 761h1.36v5h-1.36zM1795.6 761h1.36v5h-1.36zM1323.8 756h1.36v5h-1.36zM1428.2 756h1.36v5h-1.36zM1764.4 756h1.36v5h-1.36zM1317.0 776h1.36v5h-1.36zM1599.0 776h2.71v5h-2.71zM1638.3 776h1.36v5h-1.36zM1757.6 776h1.36v5h-1.36zM1638.3 736h2.71v5h-2.71zM815.3 811h1.36v5h-1.36zM698.7 741h2.71v5h-2.71zM705.5 741h2.71v5h-2.71zM1185.5 741h1.36v5h-1.36zM1735.9 741h1.36v5h-1.36zM1348.2 746h1.36v5h-1.36z"/><path fill="#18addb" d="M1067.5 881h2.71v5h-2.71zM1569.2 881h1.36v5h-1.36zM1067.5 876h2.71v5h-2.71zM1475.6 876h1.36v5h-1.36zM559.1 871h1.36v5h-1.36zM1264.1 871h1.36v5h-1.36zM1292.6 871h1.36v5h-1.36zM1489.2 871h1.36v5h-1.36zM1616.6 871h1.36v5h-1.36zM1197.7 861h1.36v5h-1.36zM1353.6 861h1.36v5h-1.36zM1607.1 861h1.36v5h-1.36zM1638.3 861h1.36v5h-1.36zM1786.1 861h1.36v5h-1.36zM350.3 866h1.36v5h-1.36zM1193.6 866h2.71v5h-2.71zM1292.6 866h1.36v5h-1.36zM1585.4 866h1.36v5h-1.36zM1622.0 866h1.36v5h-1.36zM1304.8 896h1.36v5h-1.36zM618.7 1036h1.36v5h-1.36zM621.4 1036h1.36v5h-1.36zM747.5 1036h1.36v5h-1.36zM751.6 1036h2.71v5h-2.71zM846.5 1036h1.36v5h-1.36zM1447.1 1036h1.36v5h-1.36zM1684.4 1036h1.36v5h-1.36zM525.2 1041h1.36v5h-1.36zM755.7 1041h1.36v5h-1.36zM843.8 1041h1.36v5h-1.36zM881.8 1041h1.36v5h-1.36zM908.9 1041h2.71v5h-2.71zM1171.9 1041h1.36v5h-1.36zM1773.9 1041h1.36v5h-1.36zM663.5 1046h1.36v5h-1.36zM907.5 1046h2.71v5h-2.71zM1171.9 1046h1.36v5h-1.36zM1773.9 1046h1.36v5h-1.36zM1788.8 1046h1.36v5h-1.36zM648.6 1056h1.36v5h-1.36zM919.7 1056h1.36v5h-1.36zM1759.0 1056h1.36v5h-1.36zM648.6 1061h1.36v5h-1.36zM1818.6 1061h1.36v5h-1.36zM896.7 1066h1.36v5h-1.36zM1543.4 1066h1.36v5h-1.36zM660.8 1071h1.36v5h-1.36zM846.5 1071h2.71v5h-2.71zM896.7 1071h1.36v5h-1.36zM1176.0 1076h1.36v5h-1.36zM1109.5 1081h2.71v5h-2.71zM1367.2 1081h1.36v5h-1.36zM1451.2 1081h1.36v5h-1.36zM914.3 1091h2.71v5h-2.71zM1157.0 1091h1.36v5h-1.36zM1447.1 1091h1.36v5h-1.36zM1489.2 1091h1.36v5h-1.36zM534.7 1096h1.36v5h-1.36zM914.3 1096h2.71v5h-2.71zM1157.0 1096h1.36v5h-1.36zM1161.1 1096h1.36v5h-1.36zM1167.8 1096h1.36v5h-1.36zM1445.8 1096h1.36v5h-1.36zM1167.8 1101h1.36v5h-1.36zM633.6 1051h1.36v5h-1.36zM907.5 1051h2.71v5h-2.71zM919.7 1051h1.36v5h-1.36zM1689.8 1051h2.71v5h-2.71zM1745.4 1051h1.36v5h-1.36zM1788.8 1051h1.36v5h-1.36zM348.9 1031h1.36v5h-1.36zM385.5 1031h1.36v5h-1.36zM621.4 1031h1.36v5h-1.36zM701.4 1031h1.36v5h-1.36zM743.5 1031h1.36v5h-1.36zM747.5 1031h1.36v5h-1.36zM849.2 1031h2.71v5h-2.71zM853.3 1031h1.36v5h-1.36zM956.3 1031h1.36v5h-1.36zM1444.4 1031h1.36v5h-1.36zM1483.8 1031h1.36v5h-1.36zM1684.4 1031h1.36v5h-1.36zM1790.2 1031h1.36v5h-1.36zM458.7 1026h2.71v5h-2.71zM513.0 1026h1.36v5h-1.36zM743.5 1026h1.36v5h-1.36zM850.6 1026h1.36v5h-1.36zM853.3 1026h1.36v5h-1.36zM462.8 1021h1.36v5h-1.36zM513.0 1021h1.36v5h-1.36zM636.4 1021h1.36v5h-1.36zM727.2 1021h2.71v5h-2.71zM853.3 1021h1.36v5h-1.36zM542.8 801h2.71v5h-2.71zM1279.0 801h1.36v5h-1.36zM1635.6 801h1.36v5h-1.36zM1764.4 801h1.36v5h-1.36zM542.8 796h1.36v5h-1.36zM1764.4 796h1.36v5h-1.36zM332.7 831h1.36v5h-1.36zM782.8 831h1.36v5h-1.36zM785.5 831h1.36v5h-1.36zM1077.0 831h2.71v5h-2.71zM1302.1 831h1.36v5h-1.36zM1704.8 831h1.36v5h-1.36zM339.4 826h2.71v5h-2.71zM649.9 826h1.36v5h-1.36zM675.7 826h2.71v5h-2.71zM785.5 826h1.36v5h-1.36zM1077.0 826h2.71v5h-2.71zM1597.6 826h1.36v5h-1.36zM340.8 821h1.36v5h-1.36zM443.8 821h1.36v5h-1.36zM649.9 821h1.36v5h-1.36zM675.7 821h1.36v5h-1.36zM800.4 821h1.36v5h-1.36zM1597.6 821h1.36v5h-1.36zM1749.5 821h2.71v5h-2.71zM673.0 816h1.36v5h-1.36zM748.9 816h1.36v5h-1.36zM1749.5 816h2.71v5h-2.71zM332.7 836h1.36v5h-1.36zM780.1 836h1.36v5h-1.36zM889.9 836h1.36v5h-1.36zM1161.1 836h1.36v5h-1.36zM1302.1 836h1.36v5h-1.36zM1350.9 836h1.36v5h-1.36zM1704.8 836h1.36v5h-1.36zM708.2 841h1.36v5h-1.36zM841.1 841h1.36v5h-1.36zM889.9 841h1.36v5h-1.36zM892.6 841h1.36v5h-1.36zM1651.9 841h1.36v5h-1.36zM1695.3 841h1.36v5h-1.36zM363.8 846h2.71v5h-2.71zM594.3 846h1.36v5h-1.36zM705.5 846h1.36v5h-1.36zM708.2 846h1.36v5h-1.36zM841.1 846h1.36v5h-1.36zM892.6 846h2.71v5h-2.71zM1346.8 846h1.36v5h-1.36zM1506.8 846h1.36v5h-1.36zM1563.7 846h1.36v5h-1.36zM1627.5 846h1.36v5h-1.36zM329.9 996h2.71v5h-2.71zM346.2 996h1.36v5h-1.36zM354.3 996h1.36v5h-1.36zM1780.7 996h1.36v5h-1.36zM329.9 1001h2.71v5h-2.71zM342.1 1001h1.36v5h-1.36zM346.2 1001h1.36v5h-1.36zM630.9 1001h1.36v5h-1.36zM338.1 1006h1.36v5h-1.36zM475.0 1006h1.36v5h-1.36zM1029.5 1006h1.36v5h-1.36zM1146.2 1006h1.36v5h-1.36zM1455.3 1006h1.36v5h-1.36zM1467.5 1006h1.36v5h-1.36zM1552.9 1006h1.36v5h-1.36zM1619.3 1006h4.07v5h-4.07zM1417.3 901h1.36v5h-1.36zM1615.3 901h2.71v5h-2.71zM744.8 946h1.36v5h-1.36zM778.7 946h2.71v5h-2.71zM1161.1 946h2.71v5h-2.71zM1228.9 946h1.36v5h-1.36zM738.0 951h1.36v5h-1.36zM742.1 951h4.07v5h-4.07zM880.4 951h1.36v5h-1.36zM1161.1 951h2.71v5h-2.71zM1645.1 951h1.36v5h-1.36zM1707.5 951h1.36v5h-1.36zM557.7 941h1.36v5h-1.36zM1161.1 941h2.71v5h-2.71zM1524.4 941h2.71v5h-2.71zM450.6 936h1.36v5h-1.36zM557.7 936h1.36v5h-1.36zM983.5 936h1.36v5h-1.36zM1262.8 936h1.36v5h-1.36zM1524.4 936h2.71v5h-2.71zM1528.5 936h1.36v5h-1.36zM1596.3 936h2.71v5h-2.71zM350.3 991h1.36v5h-1.36zM354.3 991h1.36v5h-1.36zM401.8 991h1.36v5h-1.36zM652.6 991h2.71v5h-2.71zM1161.1 991h1.36v5h-1.36zM1680.3 991h1.36v5h-1.36zM1733.2 991h1.36v5h-1.36zM1780.7 991h1.36v5h-1.36zM546.9 806h1.36v5h-1.36zM1635.6 806h1.36v5h-1.36zM549.6 811h1.36v5h-1.36zM671.6 811h2.71v5h-2.71zM702.8 856h2.71v5h-2.71zM974.0 856h1.36v5h-1.36zM1201.7 856h1.36v5h-1.36zM1607.1 856h1.36v5h-1.36zM1786.1 856h1.36v5h-1.36zM658.1 906h5.42v5h-5.42zM1421.4 906h4.07v5h-4.07zM1615.3 906h2.71v5h-2.71zM1649.2 906h1.36v5h-1.36zM702.8 851h4.07v5h-4.07zM1346.8 851h1.36v5h-1.36zM1506.8 851h1.36v5h-1.36zM660.8 911h2.71v5h-2.71zM1204.5 911h1.36v5h-1.36zM1405.1 911h1.36v5h-1.36zM1421.4 911h4.07v5h-4.07zM1428.2 911h1.36v5h-1.36zM401.8 981h1.36v5h-1.36zM518.4 981h1.36v5h-1.36zM522.5 981h2.71v5h-2.71zM1087.8 981h1.36v5h-1.36zM1091.9 981h1.36v5h-1.36zM1150.2 981h1.36v5h-1.36zM1161.1 981h1.36v5h-1.36zM1601.7 981h1.36v5h-1.36zM1787.5 981h2.71v5h-2.71zM401.8 986h1.36v5h-1.36zM778.7 986h1.36v5h-1.36zM1083.8 986h1.36v5h-1.36zM1154.3 986h1.36v5h-1.36zM1161.1 986h1.36v5h-1.36zM1212.6 986h1.36v5h-1.36zM1525.8 986h2.71v5h-2.71zM1601.7 986h1.36v5h-1.36zM778.7 926h1.36v5h-1.36zM1144.8 926h2.71v5h-2.71zM1268.2 926h1.36v5h-1.36zM1532.6 926h1.36v5h-1.36zM1657.3 926h1.36v5h-1.36zM983.5 931h1.36v5h-1.36zM1117.7 931h1.36v5h-1.36zM1265.5 931h1.36v5h-1.36zM1268.2 931h1.36v5h-1.36zM1470.2 931h1.36v5h-1.36zM1528.5 931h1.36v5h-1.36zM1657.3 931h1.36v5h-1.36zM338.1 1011h1.36v5h-1.36zM470.9 1011h1.36v5h-1.36zM475.0 1011h1.36v5h-1.36zM632.3 1011h1.36v5h-1.36zM635.0 1011h1.36v5h-1.36zM964.5 1011h1.36v5h-1.36zM1285.8 1011h1.36v5h-1.36zM1455.3 1011h1.36v5h-1.36zM1459.3 1011h2.71v5h-2.71zM1619.3 1011h4.07v5h-4.07zM404.5 976h1.36v5h-1.36zM408.6 976h1.36v5h-1.36zM1091.9 976h1.36v5h-1.36zM1147.5 976h1.36v5h-1.36zM1158.4 976h1.36v5h-1.36zM1554.3 976h1.36v5h-1.36zM522.5 956h1.36v5h-1.36zM731.3 956h1.36v5h-1.36zM735.3 956h2.71v5h-2.71zM1036.3 956h1.36v5h-1.36zM1406.5 956h1.36v5h-1.36zM1443.1 956h1.36v5h-1.36zM1710.2 956h1.36v5h-1.36zM522.5 961h1.36v5h-1.36zM731.3 961h1.36v5h-1.36zM1036.3 961h1.36v5h-1.36zM1443.1 961h1.36v5h-1.36zM1710.2 961h1.36v5h-1.36zM408.6 966h1.36v5h-1.36zM731.3 966h1.36v5h-1.36zM975.3 966h2.71v5h-2.71zM1372.6 966h1.36v5h-1.36zM405.9 971h1.36v5h-1.36zM408.6 971h1.36v5h-1.36zM975.3 971h2.71v5h-2.71zM1094.6 971h2.71v5h-2.71zM1143.4 971h1.36v5h-1.36zM1372.6 971h1.36v5h-1.36zM1554.3 971h1.36v5h-1.36zM778.7 921h1.36v5h-1.36zM955.0 921h1.36v5h-1.36zM1272.2 921h1.36v5h-1.36zM1279.0 921h1.36v5h-1.36zM1536.6 921h1.36v5h-1.36zM1546.1 921h1.36v5h-1.36zM946.8 916h2.71v5h-2.71zM466.9 1016h1.36v5h-1.36zM472.3 1016h1.36v5h-1.36zM632.3 1016h1.36v5h-1.36zM635.0 1016h2.71v5h-2.71zM788.2 1016h1.36v5h-1.36zM964.5 1016h1.36v5h-1.36zM1448.5 1086h1.36v5h-1.36zM1451.2 1086h1.36v5h-1.36zM1489.2 1086h1.36v5h-1.36zM1698.0 1086h1.36v5h-1.36z"/><path fill="#12b1d6" d="M297.4 521h4.07v5h-4.07zM304.2 521h1.36v5h-1.36zM1097.3 521h1.36v5h-1.36zM1288.5 521h1.36v5h-1.36zM1632.9 521h1.36v5h-1.36zM301.5 516h1.36v5h-1.36zM304.2 516h1.36v5h-1.36zM1455.3 516h1.36v5h-1.36zM1632.9 516h1.36v5h-1.36zM311.0 511h1.36v5h-1.36zM1409.2 511h1.36v5h-1.36zM1463.4 511h1.36v5h-1.36zM1405.1 506h2.71v5h-2.71zM1665.4 506h1.36v5h-1.36zM380.1 501h1.36v5h-1.36zM1401.0 501h1.36v5h-1.36zM1668.1 501h1.36v5h-1.36zM1091.9 496h1.36v5h-1.36zM1397.0 496h2.71v5h-2.71zM1094.6 491h4.07v5h-4.07zM1207.2 491h1.36v5h-1.36zM1211.2 491h2.71v5h-2.71zM278.4 551h1.36v5h-1.36zM426.2 551h1.36v5h-1.36zM530.6 551h1.36v5h-1.36zM1714.2 551h1.36v5h-1.36zM1717.0 551h1.36v5h-1.36zM282.5 546h1.36v5h-1.36zM735.3 546h1.36v5h-1.36zM1710.2 546h1.36v5h-1.36zM1714.2 546h1.36v5h-1.36zM735.3 541h1.36v5h-1.36zM1281.7 541h1.36v5h-1.36zM1710.2 541h1.36v5h-1.36zM1094.6 531h1.36v5h-1.36zM1283.1 531h4.07v5h-4.07zM1421.4 531h1.36v5h-1.36zM1281.7 536h4.07v5h-4.07zM275.7 556h1.36v5h-1.36zM426.2 556h1.36v5h-1.36zM533.3 556h1.36v5h-1.36zM1289.9 556h1.36v5h-1.36zM1516.3 556h1.36v5h-1.36zM1719.7 556h1.36v5h-1.36zM273.0 561h1.36v5h-1.36zM1292.6 561h1.36v5h-1.36zM1295.3 561h1.36v5h-1.36zM1719.7 561h1.36v5h-1.36zM1723.7 561h1.36v5h-1.36zM294.7 526h1.36v5h-1.36zM298.8 526h2.71v5h-2.71zM1094.6 526h1.36v5h-1.36zM1285.8 526h1.36v5h-1.36zM1288.5 526h1.36v5h-1.36zM1097.3 486h1.36v5h-1.36zM1100.1 486h1.36v5h-1.36zM1211.2 486h2.71v5h-2.71zM644.5 571h1.36v5h-1.36zM1296.6 571h1.36v5h-1.36zM1161.1 566h1.36v5h-1.36zM1292.6 566h1.36v5h-1.36zM1296.6 566h1.36v5h-1.36zM1723.7 566h1.36v5h-1.36zM1241.1 611h2.71v5h-2.71zM1477.0 611h2.71v5h-2.71zM713.6 606h1.36v5h-1.36zM725.8 606h2.71v5h-2.71zM1148.9 606h1.36v5h-1.36zM1241.1 606h2.71v5h-2.71zM1275.0 606h1.36v5h-1.36zM1304.8 606h1.36v5h-1.36zM1472.9 606h1.36v5h-1.36zM1475.6 606h2.71v5h-2.71zM1304.8 601h1.36v5h-1.36zM1472.9 601h1.36v5h-1.36zM819.4 596h1.36v5h-1.36zM1470.2 596h1.36v5h-1.36zM515.7 671h1.36v5h-1.36zM771.9 671h1.36v5h-1.36zM517.0 666h1.36v5h-1.36zM622.8 666h1.36v5h-1.36zM771.9 666h1.36v5h-1.36zM1018.7 666h1.36v5h-1.36zM1322.4 666h1.36v5h-1.36zM1333.3 666h1.36v5h-1.36zM518.4 661h2.71v5h-2.71zM622.8 661h1.36v5h-1.36zM755.7 661h1.36v5h-1.36zM1318.3 661h1.36v5h-1.36zM1333.3 661h1.36v5h-1.36zM1730.5 661h1.36v5h-1.36zM233.7 706h2.71v5h-2.71zM534.7 706h1.36v5h-1.36zM639.1 706h1.36v5h-1.36zM1044.5 706h1.36v5h-1.36zM1059.4 706h1.36v5h-1.36zM1075.6 706h2.71v5h-2.71zM1181.4 706h2.71v5h-2.71zM1645.1 706h1.36v5h-1.36zM233.7 701h2.71v5h-2.71zM1060.7 701h1.36v5h-1.36zM1072.9 701h1.36v5h-1.36zM1397.0 701h2.71v5h-2.71zM1618.0 701h1.36v5h-1.36zM328.6 696h1.36v5h-1.36zM498.1 696h1.36v5h-1.36zM610.6 696h1.36v5h-1.36zM975.3 696h1.36v5h-1.36zM1063.4 696h1.36v5h-1.36zM1397.0 696h2.71v5h-2.71zM1406.5 696h1.36v5h-1.36zM359.8 711h1.36v5h-1.36zM641.8 711h1.36v5h-1.36zM701.4 711h2.71v5h-2.71zM1039.0 711h1.36v5h-1.36zM1056.7 711h1.36v5h-1.36zM1079.7 711h2.71v5h-2.71zM1177.3 711h1.36v5h-1.36zM1181.4 711h2.71v5h-2.71zM1607.1 711h1.36v5h-1.36zM1645.1 711h1.36v5h-1.36zM508.9 651h2.71v5h-2.71zM513.0 651h1.36v5h-1.36zM523.8 651h2.71v5h-2.71zM919.7 651h1.36v5h-1.36zM922.4 651h1.36v5h-1.36zM950.9 651h1.36v5h-1.36zM955.0 651h2.71v5h-2.71zM1142.1 651h1.36v5h-1.36zM1371.2 651h2.71v5h-2.71zM1577.3 651h2.71v5h-2.71zM504.8 656h1.36v5h-1.36zM508.9 656h2.71v5h-2.71zM521.1 656h2.71v5h-2.71zM755.7 656h1.36v5h-1.36zM942.8 656h1.36v5h-1.36zM956.3 656h1.36v5h-1.36zM1577.3 656h2.71v5h-2.71zM595.7 616h1.36v5h-1.36zM1001.1 616h1.36v5h-1.36zM1155.6 616h1.36v5h-1.36zM1295.3 616h1.36v5h-1.36zM1482.4 616h1.36v5h-1.36zM1582.7 616h1.36v5h-1.36zM1594.9 616h2.71v5h-2.71zM1646.5 616h1.36v5h-1.36zM1657.3 616h1.36v5h-1.36zM1817.3 616h2.71v5h-2.71zM598.4 626h1.36v5h-1.36zM601.1 626h1.36v5h-1.36zM658.1 626h2.71v5h-2.71zM1005.1 626h2.71v5h-2.71zM1009.2 626h1.36v5h-1.36zM1162.4 626h1.36v5h-1.36zM1619.3 626h1.36v5h-1.36zM1817.3 626h2.71v5h-2.71zM595.7 621h1.36v5h-1.36zM598.4 621h1.36v5h-1.36zM883.1 621h2.71v5h-2.71zM1005.1 621h2.71v5h-2.71zM1158.4 621h2.71v5h-2.71zM1582.7 621h1.36v5h-1.36zM1657.3 621h1.36v5h-1.36zM1811.9 621h1.36v5h-1.36zM1817.3 621h2.71v5h-2.71zM353.0 631h1.36v5h-1.36zM895.3 631h2.71v5h-2.71zM1014.6 631h1.36v5h-1.36zM1166.5 631h1.36v5h-1.36zM1619.3 631h1.36v5h-1.36zM1622.0 631h1.36v5h-1.36zM416.7 636h1.36v5h-1.36zM537.4 636h1.36v5h-1.36zM1014.6 636h1.36v5h-1.36zM1018.7 636h1.36v5h-1.36zM1169.2 636h1.36v5h-1.36zM1275.0 636h2.71v5h-2.71zM1395.6 636h1.36v5h-1.36zM1616.6 636h2.71v5h-2.71zM1622.0 636h1.36v5h-1.36zM1740.0 636h2.71v5h-2.71zM382.8 646h1.36v5h-1.36zM529.2 646h2.71v5h-2.71zM819.4 646h1.36v5h-1.36zM944.1 646h2.71v5h-2.71zM949.6 646h2.71v5h-2.71zM955.0 646h1.36v5h-1.36zM416.7 641h1.36v5h-1.36zM533.3 641h2.71v5h-2.71zM1740.0 641h2.71v5h-2.71zM441.1 726h1.36v5h-1.36zM519.8 726h1.36v5h-1.36zM649.9 726h1.36v5h-1.36zM1048.5 726h1.36v5h-1.36zM1091.9 726h1.36v5h-1.36zM1165.1 726h1.36v5h-1.36zM1600.4 726h1.36v5h-1.36zM1603.1 726h2.71v5h-2.71zM609.2 721h1.36v5h-1.36zM644.5 721h5.42v5h-5.42zM1051.2 721h1.36v5h-1.36zM1086.5 721h4.07v5h-4.07zM1169.2 721h1.36v5h-1.36zM1603.1 721h4.07v5h-4.07zM632.3 716h2.71v5h-2.71zM644.5 716h2.71v5h-2.71zM974.0 716h2.71v5h-2.71zM1039.0 716h1.36v5h-1.36zM1054.0 716h1.36v5h-1.36zM1083.8 716h1.36v5h-1.36zM1173.3 716h2.71v5h-2.71zM1605.8 716h1.36v5h-1.36zM323.2 691h1.36v5h-1.36zM372.0 691h1.36v5h-1.36zM610.6 691h1.36v5h-1.36zM906.2 691h1.36v5h-1.36zM910.2 691h2.71v5h-2.71zM1052.6 691h1.36v5h-1.36zM1066.2 691h2.71v5h-2.71zM1406.5 691h1.36v5h-1.36zM1521.7 691h1.36v5h-1.36zM441.1 731h1.36v5h-1.36zM443.8 731h1.36v5h-1.36zM519.8 731h1.36v5h-1.36zM1094.6 731h1.36v5h-1.36zM1139.4 731h1.36v5h-1.36zM1550.2 731h2.71v5h-2.71zM1600.4 731h1.36v5h-1.36zM1060.7 886h8.13v5h-8.13zM1072.9 886h2.71v5h-2.71zM1078.4 886h1.36v5h-1.36zM1085.1 886h1.36v5h-1.36zM1089.2 886h1.36v5h-1.36zM1091.9 886h1.36v5h-1.36zM1096.0 886h2.71v5h-2.71zM1455.3 886h4.07v5h-4.07zM1460.7 886h4.07v5h-4.07zM1466.1 886h1.36v5h-1.36zM1470.2 886h1.36v5h-1.36zM1472.9 886h1.36v5h-1.36zM1475.6 886h2.71v5h-2.71zM1543.4 886h4.07v5h-4.07zM1552.9 886h1.36v5h-1.36zM1557.0 886h2.71v5h-2.71zM1565.1 886h2.71v5h-2.71zM1569.2 886h1.36v5h-1.36zM1074.3 881h1.36v5h-1.36zM599.8 891h1.36v5h-1.36zM603.8 891h1.36v5h-1.36zM606.5 891h1.36v5h-1.36zM610.6 891h1.36v5h-1.36zM613.3 891h1.36v5h-1.36zM847.9 891h1.36v5h-1.36zM1054.0 891h1.36v5h-1.36zM1056.7 891h1.36v5h-1.36zM1060.7 891h1.36v5h-1.36zM1064.8 891h1.36v5h-1.36zM1067.5 891h1.36v5h-1.36zM1072.9 891h1.36v5h-1.36zM1096.0 891h6.78v5h-6.78zM1447.1 891h1.36v5h-1.36zM1451.2 891h1.36v5h-1.36zM1455.3 891h4.07v5h-4.07zM1460.7 891h4.07v5h-4.07zM1470.2 891h1.36v5h-1.36zM1472.9 891h1.36v5h-1.36zM1475.6 891h2.71v5h-2.71zM1481.0 891h1.36v5h-1.36zM1487.8 891h2.71v5h-2.71zM1531.2 891h1.36v5h-1.36zM1535.3 891h1.36v5h-1.36zM1538.0 891h1.36v5h-1.36zM1542.1 891h1.36v5h-1.36zM1546.1 891h1.36v5h-1.36zM1552.9 891h1.36v5h-1.36zM1558.3 891h1.36v5h-1.36zM1565.1 891h6.78v5h-6.78zM1577.3 891h1.36v5h-1.36zM586.2 896h1.36v5h-1.36zM588.9 896h2.71v5h-2.71zM593.0 896h1.36v5h-1.36zM599.8 896h1.36v5h-1.36zM603.8 896h1.36v5h-1.36zM610.6 896h1.36v5h-1.36zM622.8 896h1.36v5h-1.36zM630.9 896h1.36v5h-1.36zM633.6 896h1.36v5h-1.36zM839.7 896h1.36v5h-1.36zM849.2 896h1.36v5h-1.36zM860.1 896h1.36v5h-1.36zM868.2 896h1.36v5h-1.36zM872.3 896h1.36v5h-1.36zM1098.7 896h1.36v5h-1.36zM1487.8 896h1.36v5h-1.36zM1531.2 896h1.36v5h-1.36zM1538.0 896h1.36v5h-1.36zM1542.1 896h1.36v5h-1.36zM1567.8 896h1.36v5h-1.36zM1075.6 1046h1.36v5h-1.36zM1081.1 1046h1.36v5h-1.36zM616.0 1056h1.36v5h-1.36zM628.2 1056h1.36v5h-1.36zM630.9 1056h1.36v5h-1.36zM686.5 1056h2.71v5h-2.71zM691.9 1056h1.36v5h-1.36zM702.8 1056h1.36v5h-1.36zM709.6 1056h1.36v5h-1.36zM721.8 1056h1.36v5h-1.36zM724.5 1056h2.71v5h-2.71zM1056.7 1056h4.07v5h-4.07zM1089.2 1056h1.36v5h-1.36zM1094.6 1056h2.71v5h-2.71zM1447.1 1056h1.36v5h-1.36zM1452.6 1056h1.36v5h-1.36zM1458.0 1056h1.36v5h-1.36zM1478.3 1056h1.36v5h-1.36zM1489.2 1056h1.36v5h-1.36zM1559.7 1056h2.71v5h-2.71zM628.2 1061h1.36v5h-1.36zM1447.1 1061h1.36v5h-1.36zM1452.6 1061h1.36v5h-1.36zM1489.2 1061h1.36v5h-1.36zM1075.6 1101h1.36v5h-1.36zM1079.7 1101h2.71v5h-2.71zM605.2 1106h1.36v5h-1.36zM610.6 1106h1.36v5h-1.36zM614.7 1106h2.71v5h-2.71zM618.7 1106h1.36v5h-1.36zM1068.9 1106h2.71v5h-2.71zM1082.4 1106h1.36v5h-1.36zM1086.5 1106h2.71v5h-2.71zM1090.6 1106h1.36v5h-1.36zM1094.6 1106h1.36v5h-1.36zM1453.9 1106h1.36v5h-1.36zM1459.3 1106h1.36v5h-1.36zM1478.3 1106h2.71v5h-2.71zM1552.9 1106h1.36v5h-1.36zM1559.7 1106h1.36v5h-1.36zM1563.7 1106h1.36v5h-1.36zM1567.8 1106h1.36v5h-1.36zM607.9 1051h1.36v5h-1.36zM612.0 1051h1.36v5h-1.36zM616.0 1051h1.36v5h-1.36zM621.4 1051h1.36v5h-1.36zM686.5 1051h2.71v5h-2.71zM691.9 1051h1.36v5h-1.36zM702.8 1051h2.71v5h-2.71zM709.6 1051h1.36v5h-1.36zM712.3 1051h2.71v5h-2.71zM721.8 1051h1.36v5h-1.36zM724.5 1051h2.71v5h-2.71zM1059.4 1051h1.36v5h-1.36zM1063.4 1051h1.36v5h-1.36zM1072.9 1051h1.36v5h-1.36zM1075.6 1051h1.36v5h-1.36zM1089.2 1051h2.71v5h-2.71zM1094.6 1051h2.71v5h-2.71zM1458.0 1051h4.07v5h-4.07zM1464.8 1051h1.36v5h-1.36zM1478.3 1051h1.36v5h-1.36zM1543.4 1051h2.71v5h-2.71zM1558.3 1051h4.07v5h-4.07zM1573.2 1051h1.36v5h-1.36zM588.9 1111h1.36v5h-1.36zM605.2 1111h1.36v5h-1.36zM610.6 1111h1.36v5h-1.36zM616.0 1111h1.36v5h-1.36zM618.7 1111h1.36v5h-1.36zM628.2 1111h1.36v5h-1.36zM630.9 1111h1.36v5h-1.36zM633.6 1111h1.36v5h-1.36zM1070.2 1111h1.36v5h-1.36zM1082.4 1111h1.36v5h-1.36zM1087.8 1111h1.36v5h-1.36zM1478.3 1111h1.36v5h-1.36zM1486.5 1111h1.36v5h-1.36zM1531.2 1111h4.07v5h-4.07zM1552.9 1111h1.36v5h-1.36zM1567.8 1111h1.36v5h-1.36zM588.9 1116h1.36v5h-1.36zM628.2 1116h1.36v5h-1.36zM630.9 1116h1.36v5h-1.36zM1486.5 1116h1.36v5h-1.36zM1532.6 1116h2.71v5h-2.71zM308.2 801h1.36v5h-1.36zM1032.3 801h4.07v5h-4.07zM1215.3 801h1.36v5h-1.36zM1420.0 801h1.36v5h-1.36zM302.8 796h1.36v5h-1.36zM305.5 796h1.36v5h-1.36zM1035.0 796h1.36v5h-1.36zM1215.3 796h1.36v5h-1.36zM1420.0 796h1.36v5h-1.36zM1468.8 796h2.71v5h-2.71zM302.8 791h1.36v5h-1.36zM353.0 791h1.36v5h-1.36zM300.1 786h1.36v5h-1.36zM338.1 786h1.36v5h-1.36zM862.8 786h1.36v5h-1.36zM1337.3 786h1.36v5h-1.36zM1559.7 786h1.36v5h-1.36zM1756.3 786h2.71v5h-2.71zM298.8 781h2.71v5h-2.71zM862.8 781h1.36v5h-1.36zM1120.4 781h1.36v5h-1.36zM1578.7 781h1.36v5h-1.36zM1026.8 816h1.36v5h-1.36zM515.7 836h1.36v5h-1.36zM527.9 836h1.36v5h-1.36zM605.2 836h6.78v5h-6.78zM1559.7 836h1.36v5h-1.36zM1563.7 836h2.71v5h-2.71zM489.9 841h1.36v5h-1.36zM496.7 841h2.71v5h-2.71zM502.1 841h1.36v5h-1.36zM507.6 841h1.36v5h-1.36zM511.6 841h1.36v5h-1.36zM522.5 841h1.36v5h-1.36zM538.7 841h2.71v5h-2.71zM542.8 841h1.36v5h-1.36zM545.5 841h2.71v5h-2.71zM550.9 841h1.36v5h-1.36zM584.8 841h1.36v5h-1.36zM591.6 841h1.36v5h-1.36zM594.3 841h1.36v5h-1.36zM597.0 841h1.36v5h-1.36zM607.9 841h1.36v5h-1.36zM618.7 841h1.36v5h-1.36zM624.2 841h2.71v5h-2.71zM628.2 841h1.36v5h-1.36zM632.3 841h1.36v5h-1.36zM1531.2 841h2.71v5h-2.71zM1538.0 841h1.36v5h-1.36zM1543.4 841h1.36v5h-1.36zM1555.6 841h1.36v5h-1.36zM1565.1 841h2.71v5h-2.71zM1570.5 841h2.71v5h-2.71zM1575.9 841h1.36v5h-1.36zM496.7 846h1.36v5h-1.36zM507.6 846h1.36v5h-1.36zM522.5 846h1.36v5h-1.36zM540.1 846h1.36v5h-1.36zM545.5 846h1.36v5h-1.36zM550.9 846h1.36v5h-1.36zM591.6 846h1.36v5h-1.36zM618.7 846h1.36v5h-1.36zM625.5 846h1.36v5h-1.36zM628.2 846h1.36v5h-1.36zM632.3 846h1.36v5h-1.36zM1531.2 846h1.36v5h-1.36zM1538.0 846h1.36v5h-1.36zM1575.9 846h1.36v5h-1.36zM489.9 996h1.36v5h-1.36zM494.0 996h1.36v5h-1.36zM502.1 996h1.36v5h-1.36zM504.8 996h1.36v5h-1.36zM514.3 996h1.36v5h-1.36zM523.8 996h1.36v5h-1.36zM527.9 996h1.36v5h-1.36zM532.0 996h1.36v5h-1.36zM537.4 996h2.71v5h-2.71zM542.8 996h2.71v5h-2.71zM550.9 996h2.71v5h-2.71zM588.9 996h1.36v5h-1.36zM591.6 996h1.36v5h-1.36zM597.0 996h1.36v5h-1.36zM602.5 996h1.36v5h-1.36zM605.2 996h1.36v5h-1.36zM609.2 996h1.36v5h-1.36zM613.3 996h2.71v5h-2.71zM617.4 996h4.07v5h-4.07zM625.5 996h1.36v5h-1.36zM628.2 996h1.36v5h-1.36zM630.9 996h1.36v5h-1.36zM1058.0 996h1.36v5h-1.36zM1062.1 996h1.36v5h-1.36zM1064.8 996h2.71v5h-2.71zM1072.9 996h1.36v5h-1.36zM1081.1 996h1.36v5h-1.36zM1085.1 996h1.36v5h-1.36zM1089.2 996h1.36v5h-1.36zM1091.9 996h1.36v5h-1.36zM1094.6 996h4.07v5h-4.07zM1451.2 996h2.71v5h-2.71zM1455.3 996h1.36v5h-1.36zM1460.7 996h1.36v5h-1.36zM1470.2 996h2.71v5h-2.71zM1475.6 996h1.36v5h-1.36zM1478.3 996h4.07v5h-4.07zM1483.8 996h1.36v5h-1.36zM1532.6 996h1.36v5h-1.36zM1538.0 996h2.71v5h-2.71zM1542.1 996h1.36v5h-1.36zM1554.3 996h4.07v5h-4.07zM1561.0 996h2.71v5h-2.71zM1565.1 996h1.36v5h-1.36zM1567.8 996h5.42v5h-5.42zM1574.6 996h1.36v5h-1.36zM489.9 1001h2.71v5h-2.71zM494.0 1001h2.71v5h-2.71zM523.8 1001h1.36v5h-1.36zM537.4 1001h1.36v5h-1.36zM542.8 1001h1.36v5h-1.36zM588.9 1001h1.36v5h-1.36zM597.0 1001h1.36v5h-1.36zM617.4 1001h4.07v5h-4.07zM628.2 1001h1.36v5h-1.36zM632.3 1001h1.36v5h-1.36zM1062.1 1001h1.36v5h-1.36zM1094.6 1001h5.42v5h-5.42zM1101.4 1001h1.36v5h-1.36zM1449.9 1001h2.71v5h-2.71zM1470.2 1001h1.36v5h-1.36zM1481.0 1001h1.36v5h-1.36zM1483.8 1001h1.36v5h-1.36zM1489.2 1001h1.36v5h-1.36zM1533.9 1001h2.71v5h-2.71zM1538.0 1001h1.36v5h-1.36zM1542.1 1001h1.36v5h-1.36zM1554.3 1001h1.36v5h-1.36zM1561.0 1001h1.36v5h-1.36zM1569.2 1001h1.36v5h-1.36zM1571.9 1001h1.36v5h-1.36zM495.4 1006h1.36v5h-1.36zM632.3 1006h1.36v5h-1.36zM1098.7 1006h1.36v5h-1.36zM1101.4 1006h1.36v5h-1.36zM1489.2 1006h1.36v5h-1.36zM1533.9 1006h1.36v5h-1.36zM622.8 901h1.36v5h-1.36zM630.9 901h1.36v5h-1.36zM633.6 901h1.36v5h-1.36zM849.2 901h1.36v5h-1.36zM872.3 901h1.36v5h-1.36zM584.8 946h1.36v5h-1.36zM587.5 946h1.36v5h-1.36zM594.3 946h1.36v5h-1.36zM597.0 946h1.36v5h-1.36zM601.1 946h1.36v5h-1.36zM621.4 946h1.36v5h-1.36zM626.9 946h1.36v5h-1.36zM629.6 946h4.07v5h-4.07zM1055.3 946h1.36v5h-1.36zM1060.7 946h1.36v5h-1.36zM1098.7 946h1.36v5h-1.36zM1459.3 946h1.36v5h-1.36zM1482.4 946h1.36v5h-1.36zM1532.6 946h1.36v5h-1.36zM1570.5 946h1.36v5h-1.36zM1575.9 946h1.36v5h-1.36zM597.0 951h1.36v5h-1.36zM621.4 951h1.36v5h-1.36zM629.6 951h1.36v5h-1.36zM602.5 941h1.36v5h-1.36zM614.7 941h1.36v5h-1.36zM1055.3 941h2.71v5h-2.71zM1059.4 941h4.07v5h-4.07zM1066.2 941h1.36v5h-1.36zM1068.9 941h1.36v5h-1.36zM1090.6 941h2.71v5h-2.71zM1098.7 941h1.36v5h-1.36zM1452.6 941h1.36v5h-1.36zM1458.0 941h2.71v5h-2.71zM1467.5 941h1.36v5h-1.36zM1478.3 941h1.36v5h-1.36zM1482.4 941h2.71v5h-2.71zM1487.8 941h1.36v5h-1.36zM1532.6 941h1.36v5h-1.36zM1535.3 941h1.36v5h-1.36zM1539.3 941h5.42v5h-5.42zM1548.8 941h1.36v5h-1.36zM1570.5 941h1.36v5h-1.36zM1575.9 941h2.71v5h-2.71zM1062.1 936h1.36v5h-1.36zM1066.2 936h6.78v5h-6.78zM1075.6 936h1.36v5h-1.36zM1078.4 936h1.36v5h-1.36zM1087.8 936h5.42v5h-5.42zM1458.0 936h1.36v5h-1.36zM1464.8 936h1.36v5h-1.36zM1467.5 936h4.07v5h-4.07zM1548.8 936h2.71v5h-2.71zM1557.0 936h1.36v5h-1.36zM1566.5 936h1.36v5h-1.36zM1067.5 991h1.36v5h-1.36zM1071.6 991h4.07v5h-4.07zM1079.7 991h2.71v5h-2.71zM1085.1 991h2.71v5h-2.71zM1089.2 991h1.36v5h-1.36zM419.4 576h1.36v5h-1.36zM527.9 576h1.36v5h-1.36zM640.4 576h2.71v5h-2.71zM644.5 576h1.36v5h-1.36zM1706.1 576h1.36v5h-1.36zM235.0 581h1.36v5h-1.36zM419.4 581h1.36v5h-1.36zM637.7 581h1.36v5h-1.36zM640.4 581h2.71v5h-2.71zM1619.3 581h1.36v5h-1.36zM1100.1 481h1.36v5h-1.36zM929.2 476h1.36v5h-1.36zM933.3 476h1.36v5h-1.36zM635.0 461h2.71v5h-2.71zM731.3 461h1.36v5h-1.36zM267.6 446h1.36v5h-1.36zM289.3 446h1.36v5h-1.36zM635.0 471h2.71v5h-2.71zM731.3 471h1.36v5h-1.36zM933.3 471h1.36v5h-1.36zM942.8 471h1.36v5h-1.36zM635.0 466h2.71v5h-2.71zM731.3 466h1.36v5h-1.36zM235.0 586h1.36v5h-1.36zM419.4 586h1.36v5h-1.36zM633.6 586h1.36v5h-1.36zM784.1 586h1.36v5h-1.36zM789.6 586h1.36v5h-1.36zM1250.5 586h1.36v5h-1.36zM1570.5 586h1.36v5h-1.36zM633.6 591h1.36v5h-1.36zM819.4 591h1.36v5h-1.36zM1250.5 591h1.36v5h-1.36zM1500.0 591h1.36v5h-1.36zM1673.6 591h1.36v5h-1.36zM373.3 676h1.36v5h-1.36zM918.4 676h1.36v5h-1.36zM1740.0 676h1.36v5h-1.36zM373.3 681h1.36v5h-1.36zM914.3 681h2.71v5h-2.71zM1740.0 681h1.36v5h-1.36zM418.1 686h1.36v5h-1.36zM862.8 686h1.36v5h-1.36zM910.2 686h2.71v5h-2.71zM914.3 686h2.71v5h-2.71zM1637.0 686h1.36v5h-1.36zM308.2 806h1.36v5h-1.36zM1029.5 806h5.42v5h-5.42zM866.8 751h2.71v5h-2.71zM892.6 751h1.36v5h-1.36zM998.4 751h1.36v5h-1.36zM1002.4 751h1.36v5h-1.36zM1026.8 751h1.36v5h-1.36zM1124.5 751h1.36v5h-1.36zM1228.9 751h1.36v5h-1.36zM1453.9 751h1.36v5h-1.36zM1458.0 751h2.71v5h-2.71zM315.0 771h1.36v5h-1.36zM317.7 771h2.71v5h-2.71zM1032.3 771h1.36v5h-1.36zM1174.6 771h1.36v5h-1.36zM1212.6 771h1.36v5h-1.36zM1375.3 771h1.36v5h-1.36zM1390.2 771h1.36v5h-1.36zM1558.3 771h1.36v5h-1.36zM1725.1 771h2.71v5h-2.71zM1731.9 771h1.36v5h-1.36zM1748.1 771h2.71v5h-2.71zM315.0 766h1.36v5h-1.36zM355.7 766h1.36v5h-1.36zM1051.2 766h1.36v5h-1.36zM1212.6 766h1.36v5h-1.36zM1352.2 766h1.36v5h-1.36zM1390.2 766h1.36v5h-1.36zM1496.0 766h1.36v5h-1.36zM1555.6 766h1.36v5h-1.36zM1748.1 766h2.71v5h-2.71zM312.3 761h1.36v5h-1.36zM355.7 761h1.36v5h-1.36zM1293.9 761h1.36v5h-1.36zM1352.2 761h1.36v5h-1.36zM309.6 756h1.36v5h-1.36zM556.4 756h1.36v5h-1.36zM747.5 756h1.36v5h-1.36zM994.3 756h1.36v5h-1.36zM998.4 756h1.36v5h-1.36zM1075.6 756h1.36v5h-1.36zM1228.9 756h1.36v5h-1.36zM1293.9 756h1.36v5h-1.36zM1458.0 756h2.71v5h-2.71zM912.9 776h1.36v5h-1.36zM1032.3 776h1.36v5h-1.36zM1375.3 776h1.36v5h-1.36zM1558.3 776h1.36v5h-1.36zM1578.7 776h1.36v5h-1.36zM1725.1 776h2.71v5h-2.71zM1729.2 776h1.36v5h-1.36zM1731.9 776h1.36v5h-1.36zM1748.1 776h2.71v5h-2.71zM342.1 736h1.36v5h-1.36zM443.8 736h1.36v5h-1.36zM447.9 736h1.36v5h-1.36zM647.2 736h2.71v5h-2.71zM963.1 736h1.36v5h-1.36zM1144.8 736h1.36v5h-1.36zM1246.5 736h1.36v5h-1.36zM1445.8 736h1.36v5h-1.36zM1509.5 736h2.71v5h-2.71zM1600.4 736h1.36v5h-1.36zM1026.8 811h1.36v5h-1.36zM447.9 741h1.36v5h-1.36zM450.6 741h1.36v5h-1.36zM647.2 741h2.71v5h-2.71zM963.1 741h1.36v5h-1.36zM1024.1 741h1.36v5h-1.36zM1246.5 741h1.36v5h-1.36zM1449.9 741h1.36v5h-1.36zM1509.5 741h2.71v5h-2.71zM866.8 746h2.71v5h-2.71zM1002.4 746h1.36v5h-1.36zM1026.8 746h1.36v5h-1.36zM1445.8 746h1.36v5h-1.36zM1453.9 746h1.36v5h-1.36z"/><path fill="#08b5d0" d="M1001.1 516h1.36v5h-1.36zM536.0 506h1.36v5h-1.36zM1196.3 506h1.36v5h-1.36zM536.0 501h1.36v5h-1.36zM1196.3 501h1.36v5h-1.36zM1788.8 501h2.71v5h-2.71zM1428.2 496h2.71v5h-2.71zM1788.8 496h2.71v5h-2.71zM824.8 491h1.36v5h-1.36zM1428.2 491h2.71v5h-2.71zM376.0 551h2.71v5h-2.71zM465.5 551h1.36v5h-1.36zM969.9 551h1.36v5h-1.36zM1666.8 551h1.36v5h-1.36zM376.0 546h2.71v5h-2.71zM506.2 546h1.36v5h-1.36zM746.2 546h1.36v5h-1.36zM748.9 546h1.36v5h-1.36zM969.9 546h1.36v5h-1.36zM1266.8 546h2.71v5h-2.71zM502.1 541h2.71v5h-2.71zM748.9 541h1.36v5h-1.36zM751.6 541h2.71v5h-2.71zM967.2 541h1.36v5h-1.36zM1260.0 541h2.71v5h-2.71zM1445.8 541h2.71v5h-2.71zM348.9 531h1.36v5h-1.36zM499.4 531h1.36v5h-1.36zM961.8 531h1.36v5h-1.36zM1256.0 531h1.36v5h-1.36zM1260.0 531h2.71v5h-2.71zM348.9 536h1.36v5h-1.36zM353.0 536h1.36v5h-1.36zM499.4 536h1.36v5h-1.36zM502.1 536h1.36v5h-1.36zM751.6 536h2.71v5h-2.71zM861.4 536h1.36v5h-1.36zM961.8 536h1.36v5h-1.36zM964.5 536h2.71v5h-2.71zM1260.0 536h2.71v5h-2.71zM1443.1 536h1.36v5h-1.36zM1756.3 536h1.36v5h-1.36zM465.5 556h1.36v5h-1.36zM700.1 556h1.36v5h-1.36zM1455.3 556h1.36v5h-1.36zM1455.3 561h1.36v5h-1.36zM498.1 526h2.71v5h-2.71zM1108.2 526h2.71v5h-2.71zM1256.0 526h1.36v5h-1.36zM541.4 571h2.71v5h-2.71zM541.4 566h2.71v5h-2.71zM1455.3 566h1.36v5h-1.36zM427.6 886h1.36v5h-1.36zM1353.6 886h1.36v5h-1.36zM1578.7 886h1.36v5h-1.36zM1653.2 881h1.36v5h-1.36zM632.3 876h1.36v5h-1.36zM1468.8 876h1.36v5h-1.36zM1801.0 876h1.36v5h-1.36zM500.8 871h1.36v5h-1.36zM812.6 871h1.36v5h-1.36zM1017.3 871h1.36v5h-1.36zM1109.5 871h1.36v5h-1.36zM1117.7 871h1.36v5h-1.36zM1749.5 871h1.36v5h-1.36zM1801.0 871h1.36v5h-1.36zM1011.9 861h1.36v5h-1.36zM1121.7 861h1.36v5h-1.36zM1125.8 861h2.71v5h-2.71zM1113.6 866h1.36v5h-1.36zM1117.7 866h1.36v5h-1.36zM1125.8 866h2.71v5h-2.71zM1357.7 891h1.36v5h-1.36zM1578.7 891h1.36v5h-1.36zM602.5 896h1.36v5h-1.36zM605.2 896h2.71v5h-2.71zM739.4 896h1.36v5h-1.36zM795.0 896h2.71v5h-2.71zM1161.1 896h1.36v5h-1.36zM517.0 1036h1.36v5h-1.36zM605.2 1036h2.71v5h-2.71zM609.2 1036h1.36v5h-1.36zM613.3 1041h1.36v5h-1.36zM934.6 1041h1.36v5h-1.36zM1082.4 1041h1.36v5h-1.36zM914.3 1046h1.36v5h-1.36zM934.6 1046h1.36v5h-1.36zM940.1 1046h1.36v5h-1.36zM967.2 1046h1.36v5h-1.36zM1017.3 1046h1.36v5h-1.36zM1082.4 1046h1.36v5h-1.36zM936.0 1056h1.36v5h-1.36zM1025.5 1056h1.36v5h-1.36zM1603.1 1056h1.36v5h-1.36zM842.4 1061h1.36v5h-1.36zM1253.3 1061h1.36v5h-1.36zM1353.6 1061h1.36v5h-1.36zM1603.1 1061h1.36v5h-1.36zM1353.6 1066h1.36v5h-1.36zM1041.8 1071h1.36v5h-1.36zM525.2 1076h2.71v5h-2.71zM830.2 1076h1.36v5h-1.36zM861.4 1076h1.36v5h-1.36zM1041.8 1076h1.36v5h-1.36zM1142.1 1076h1.36v5h-1.36zM1491.9 1076h2.71v5h-2.71zM1571.9 1076h1.36v5h-1.36zM1589.5 1076h1.36v5h-1.36zM1714.2 1076h1.36v5h-1.36zM475.0 1081h1.36v5h-1.36zM525.2 1081h2.71v5h-2.71zM572.6 1081h1.36v5h-1.36zM697.4 1081h1.36v5h-1.36zM826.2 1081h1.36v5h-1.36zM830.2 1081h1.36v5h-1.36zM1142.1 1081h1.36v5h-1.36zM1228.9 1081h1.36v5h-1.36zM1491.9 1081h2.71v5h-2.71zM1567.8 1081h1.36v5h-1.36zM1589.5 1081h1.36v5h-1.36zM1593.6 1081h1.36v5h-1.36zM469.6 1091h1.36v5h-1.36zM472.3 1091h2.71v5h-2.71zM818.0 1091h2.71v5h-2.71zM1250.5 1091h1.36v5h-1.36zM1634.3 1091h1.36v5h-1.36zM1637.0 1091h2.71v5h-2.71zM814.0 1096h1.36v5h-1.36zM818.0 1096h2.71v5h-2.71zM843.8 1096h1.36v5h-1.36zM1634.3 1096h1.36v5h-1.36zM814.0 1101h1.36v5h-1.36zM843.8 1101h1.36v5h-1.36zM936.0 1051h1.36v5h-1.36zM940.1 1051h2.71v5h-2.71zM1017.3 1051h1.36v5h-1.36zM1021.4 1051h1.36v5h-1.36zM517.0 1031h1.36v5h-1.36zM605.2 1031h2.71v5h-2.71zM819.4 1031h1.36v5h-1.36zM957.7 1031h1.36v5h-1.36zM1367.2 1031h1.36v5h-1.36zM1486.5 1031h2.71v5h-2.71zM1514.9 1031h2.71v5h-2.71zM500.8 1026h1.36v5h-1.36zM602.5 1026h1.36v5h-1.36zM819.4 1026h1.36v5h-1.36zM957.7 1026h1.36v5h-1.36zM1207.2 1026h1.36v5h-1.36zM1486.5 1026h2.71v5h-2.71zM1514.9 1026h2.71v5h-2.71zM1562.4 1026h1.36v5h-1.36zM598.4 1021h1.36v5h-1.36zM626.9 1021h1.36v5h-1.36zM1158.4 1021h1.36v5h-1.36zM1468.8 1021h1.36v5h-1.36zM1472.9 1021h1.36v5h-1.36zM1562.4 1021h1.36v5h-1.36zM380.1 801h1.36v5h-1.36zM485.9 801h1.36v5h-1.36zM1017.3 801h1.36v5h-1.36zM454.7 831h1.36v5h-1.36zM1238.3 831h1.36v5h-1.36zM454.7 826h1.36v5h-1.36zM1142.1 826h1.36v5h-1.36zM843.8 821h1.36v5h-1.36zM1780.7 821h2.71v5h-2.71zM746.2 816h1.36v5h-1.36zM1104.1 816h1.36v5h-1.36zM1247.8 816h2.71v5h-2.71zM1780.7 816h2.71v5h-2.71zM542.8 836h1.36v5h-1.36zM545.5 836h2.71v5h-2.71zM584.8 836h1.36v5h-1.36zM1234.3 836h1.36v5h-1.36zM1613.9 836h1.36v5h-1.36zM1159.7 841h1.36v5h-1.36zM1234.3 841h1.36v5h-1.36zM1044.5 846h1.36v5h-1.36zM1159.7 846h1.36v5h-1.36zM1256.0 846h1.36v5h-1.36zM1373.9 846h1.36v5h-1.36zM1406.5 846h1.36v5h-1.36zM1432.2 846h1.36v5h-1.36zM640.4 996h1.36v5h-1.36zM875.0 996h1.36v5h-1.36zM990.2 1001h1.36v5h-1.36zM1401.0 1001h2.71v5h-2.71zM1783.4 1001h1.36v5h-1.36zM645.8 1006h1.36v5h-1.36zM1401.0 1006h2.71v5h-2.71zM1783.4 1006h1.36v5h-1.36zM685.2 901h2.71v5h-2.71zM795.0 901h2.71v5h-2.71zM1158.4 901h1.36v5h-1.36zM1508.2 901h1.36v5h-1.36zM999.7 946h2.71v5h-2.71zM1256.0 946h1.36v5h-1.36zM1279.0 946h1.36v5h-1.36zM495.4 951h1.36v5h-1.36zM552.3 951h1.36v5h-1.36zM630.9 951h1.36v5h-1.36zM999.7 951h1.36v5h-1.36zM1256.0 951h1.36v5h-1.36zM1276.3 951h1.36v5h-1.36zM1001.1 941h1.36v5h-1.36zM1283.1 941h1.36v5h-1.36zM1418.7 936h1.36v5h-1.36zM1655.9 991h1.36v5h-1.36zM807.2 576h1.36v5h-1.36zM948.2 481h2.71v5h-2.71zM1033.6 476h1.36v5h-1.36zM557.7 456h1.36v5h-1.36zM1026.8 456h1.36v5h-1.36zM1030.9 461h1.36v5h-1.36zM1448.5 461h2.71v5h-2.71zM1024.1 451h1.36v5h-1.36zM1154.3 451h1.36v5h-1.36zM1033.6 471h1.36v5h-1.36zM1037.7 471h2.71v5h-2.71zM388.2 466h1.36v5h-1.36zM776.0 466h1.36v5h-1.36zM1033.6 466h1.36v5h-1.36zM1471.6 586h2.71v5h-2.71zM504.8 591h1.36v5h-1.36zM382.8 806h1.36v5h-1.36zM755.7 806h1.36v5h-1.36zM1017.3 806h1.36v5h-1.36zM377.4 811h1.36v5h-1.36zM385.5 811h2.71v5h-2.71zM526.5 811h1.36v5h-1.36zM1104.1 811h1.36v5h-1.36zM1169.2 811h1.36v5h-1.36zM1011.9 856h1.36v5h-1.36zM1260.0 856h1.36v5h-1.36zM685.2 906h2.71v5h-2.71zM1155.6 906h1.36v5h-1.36zM1574.6 906h1.36v5h-1.36zM918.4 851h1.36v5h-1.36zM1011.9 851h1.36v5h-1.36zM1253.3 851h1.36v5h-1.36zM1256.0 851h1.36v5h-1.36zM1260.0 851h1.36v5h-1.36zM1287.2 851h1.36v5h-1.36zM1432.2 851h1.36v5h-1.36zM1723.7 851h2.71v5h-2.71zM838.4 911h1.36v5h-1.36zM876.3 981h2.71v5h-2.71zM1487.8 981h1.36v5h-1.36zM1703.4 981h1.36v5h-1.36zM416.7 986h2.71v5h-2.71zM1703.4 986h1.36v5h-1.36zM801.8 926h1.36v5h-1.36zM1169.2 926h1.36v5h-1.36zM1514.9 926h1.36v5h-1.36zM1418.7 931h1.36v5h-1.36zM1326.5 1011h2.71v5h-2.71zM1818.6 1011h1.36v5h-1.36zM536.0 976h1.36v5h-1.36zM876.3 976h2.71v5h-2.71zM1487.8 976h1.36v5h-1.36zM495.4 956h1.36v5h-1.36zM548.2 956h1.36v5h-1.36zM1272.2 956h1.36v5h-1.36zM544.2 961h1.36v5h-1.36zM548.2 961h1.36v5h-1.36zM1272.2 961h1.36v5h-1.36zM540.1 966h1.36v5h-1.36zM544.2 966h1.36v5h-1.36zM693.3 966h1.36v5h-1.36zM1441.7 966h1.36v5h-1.36zM693.3 971h1.36v5h-1.36zM1790.2 921h1.36v5h-1.36zM476.4 916h2.71v5h-2.71zM626.9 1016h1.36v5h-1.36zM1326.5 1016h2.71v5h-2.71zM1815.9 1016h2.71v5h-2.71zM472.3 1086h2.71v5h-2.71zM822.1 1086h1.36v5h-1.36zM826.2 1086h1.36v5h-1.36zM830.2 1086h1.36v5h-1.36zM1142.1 1086h1.36v5h-1.36zM1228.9 1086h1.36v5h-1.36zM1563.7 1086h2.71v5h-2.71z"/><path fill="#01b8ca" d="M1005.1 1376h1.36v5h-1.36zM556.4 1336h1.36v5h-1.36zM557.7 1331h1.36v5h-1.36zM367.9 1281h1.36v5h-1.36zM403.2 1281h1.36v5h-1.36zM819.4 1261h1.36v5h-1.36zM560.4 1326h2.71v5h-2.71zM873.6 1326h1.36v5h-1.36zM561.8 1321h1.36v5h-1.36zM816.7 1206h1.36v5h-1.36zM648.6 1211h1.36v5h-1.36zM1181.4 1211h1.36v5h-1.36zM365.2 1226h1.36v5h-1.36zM1119.0 1226h1.36v5h-1.36zM1181.4 1221h1.36v5h-1.36zM365.2 1231h1.36v5h-1.36zM862.8 1231h2.71v5h-2.71zM1119.0 1231h1.36v5h-1.36zM1620.7 1231h1.36v5h-1.36zM1698.0 1231h1.36v5h-1.36zM1753.6 1231h1.36v5h-1.36zM1181.4 1216h1.36v5h-1.36zM359.8 1306h1.36v5h-1.36zM1764.4 1306h1.36v5h-1.36zM362.5 1296h1.36v5h-1.36zM359.8 1301h1.36v5h-1.36zM1764.4 1301h1.36v5h-1.36zM363.8 1291h1.36v5h-1.36zM579.4 1256h1.36v5h-1.36zM618.7 1256h1.36v5h-1.36zM355.7 1196h1.36v5h-1.36zM1241.1 1196h1.36v5h-1.36zM366.5 1286h2.71v5h-2.71zM800.4 1236h2.71v5h-2.71zM862.8 1236h2.71v5h-2.71zM1698.0 1236h1.36v5h-1.36zM194.4 516h2.71v5h-2.71zM283.8 511h1.36v5h-1.36zM237.7 551h2.71v5h-2.71zM283.8 551h1.36v5h-1.36zM287.9 546h1.36v5h-1.36zM292.0 541h1.36v5h-1.36zM279.8 556h1.36v5h-1.36zM283.8 556h1.36v5h-1.36zM275.7 561h1.36v5h-1.36zM279.8 561h1.36v5h-1.36zM229.6 571h1.36v5h-1.36zM229.6 566h1.36v5h-1.36zM241.8 611h1.36v5h-1.36zM268.9 611h2.71v5h-2.71zM538.7 611h1.36v5h-1.36zM1014.6 611h1.36v5h-1.36zM1235.6 611h1.36v5h-1.36zM1264.1 611h1.36v5h-1.36zM1577.3 611h2.71v5h-2.71zM1722.4 611h2.71v5h-2.71zM268.9 606h2.71v5h-2.71zM358.4 606h1.36v5h-1.36zM414.0 606h1.36v5h-1.36zM538.7 606h1.36v5h-1.36zM546.9 606h1.36v5h-1.36zM1005.1 606h1.36v5h-1.36zM1235.6 606h1.36v5h-1.36zM1264.1 606h1.36v5h-1.36zM1577.3 606h2.71v5h-2.71zM546.9 601h1.36v5h-1.36zM824.8 601h1.36v5h-1.36zM1005.1 601h1.36v5h-1.36zM224.2 596h2.71v5h-2.71zM710.9 671h1.36v5h-1.36zM713.6 671h2.71v5h-2.71zM1491.9 671h1.36v5h-1.36zM1540.7 671h1.36v5h-1.36zM1818.6 671h1.36v5h-1.36zM548.2 666h1.36v5h-1.36zM713.6 666h2.71v5h-2.71zM717.7 666h1.36v5h-1.36zM898.0 666h1.36v5h-1.36zM900.7 666h1.36v5h-1.36zM1115.0 666h1.36v5h-1.36zM1329.2 666h1.36v5h-1.36zM1459.3 666h1.36v5h-1.36zM1726.4 666h4.07v5h-4.07zM220.1 661h1.36v5h-1.36zM717.7 661h1.36v5h-1.36zM900.7 661h1.36v5h-1.36zM1115.0 661h1.36v5h-1.36zM1329.2 661h1.36v5h-1.36zM1441.7 661h1.36v5h-1.36zM1459.3 661h1.36v5h-1.36zM1726.4 661h2.71v5h-2.71zM424.8 706h1.36v5h-1.36zM538.7 706h2.71v5h-2.71zM789.6 706h1.36v5h-1.36zM1299.4 706h1.36v5h-1.36zM1569.2 706h1.36v5h-1.36zM1573.2 706h1.36v5h-1.36zM424.8 701h1.36v5h-1.36zM758.4 701h1.36v5h-1.36zM758.4 696h1.36v5h-1.36zM785.5 711h1.36v5h-1.36zM820.8 711h1.36v5h-1.36zM220.1 656h1.36v5h-1.36zM1211.2 656h1.36v5h-1.36zM1264.1 656h1.36v5h-1.36zM1441.7 656h1.36v5h-1.36zM1722.4 656h1.36v5h-1.36zM1014.6 616h1.36v5h-1.36zM1251.9 616h1.36v5h-1.36zM1479.7 616h1.36v5h-1.36zM1483.8 616h1.36v5h-1.36zM282.5 626h1.36v5h-1.36zM605.2 626h2.71v5h-2.71zM663.5 626h1.36v5h-1.36zM1330.5 626h1.36v5h-1.36zM1334.6 626h2.71v5h-2.71zM1486.5 626h1.36v5h-1.36zM605.2 621h2.71v5h-2.71zM1251.9 621h1.36v5h-1.36zM1330.5 621h1.36v5h-1.36zM1483.8 621h1.36v5h-1.36zM1486.5 621h1.36v5h-1.36zM282.5 631h1.36v5h-1.36zM1334.6 631h2.71v5h-2.71zM1340.0 631h2.71v5h-2.71zM1327.8 636h1.36v5h-1.36zM1344.1 636h1.36v5h-1.36zM822.1 646h1.36v5h-1.36zM350.3 641h1.36v5h-1.36zM599.8 641h1.36v5h-1.36zM1344.1 641h1.36v5h-1.36zM1348.2 641h1.36v5h-1.36zM226.9 726h2.71v5h-2.71zM1030.9 726h1.36v5h-1.36zM1159.7 726h4.07v5h-4.07zM1340.0 726h1.36v5h-1.36zM226.9 721h2.71v5h-2.71zM835.7 721h1.36v5h-1.36zM1030.9 721h1.36v5h-1.36zM1155.6 721h2.71v5h-2.71zM1159.7 721h2.71v5h-2.71zM1340.0 721h1.36v5h-1.36zM1600.4 721h1.36v5h-1.36zM1691.2 721h1.36v5h-1.36zM1767.1 721h1.36v5h-1.36zM781.4 716h1.36v5h-1.36zM785.5 716h1.36v5h-1.36zM1155.6 716h2.71v5h-2.71zM1600.4 716h1.36v5h-1.36zM1691.2 716h1.36v5h-1.36zM1767.1 716h1.36v5h-1.36zM1205.8 691h1.36v5h-1.36zM1580.0 731h1.36v5h-1.36zM1068.9 886h4.07v5h-4.07zM1075.6 886h1.36v5h-1.36zM1079.7 886h2.71v5h-2.71zM1083.8 886h1.36v5h-1.36zM1086.5 886h1.36v5h-1.36zM1090.6 886h1.36v5h-1.36zM1364.4 886h1.36v5h-1.36zM1391.6 886h1.36v5h-1.36zM1467.5 886h2.71v5h-2.71zM1478.3 886h1.36v5h-1.36zM1483.8 886h1.36v5h-1.36zM1547.5 886h2.71v5h-2.71zM1551.5 886h1.36v5h-1.36zM1555.6 886h1.36v5h-1.36zM1562.4 886h1.36v5h-1.36zM1070.2 881h1.36v5h-1.36zM1077.0 881h1.36v5h-1.36zM1079.7 881h2.71v5h-2.71zM1368.5 881h1.36v5h-1.36zM1388.8 881h1.36v5h-1.36zM1371.2 876h1.36v5h-1.36zM1387.5 876h1.36v5h-1.36zM1373.9 871h2.71v5h-2.71zM1383.4 871h2.71v5h-2.71zM1378.0 861h4.07v5h-4.07zM1382.1 866h1.36v5h-1.36zM597.0 891h1.36v5h-1.36zM602.5 891h1.36v5h-1.36zM605.2 891h1.36v5h-1.36zM607.9 891h1.36v5h-1.36zM614.7 891h2.71v5h-2.71zM625.5 891h2.71v5h-2.71zM854.6 891h1.36v5h-1.36zM857.4 891h1.36v5h-1.36zM861.4 891h1.36v5h-1.36zM1086.5 891h1.36v5h-1.36zM1090.6 891h1.36v5h-1.36zM1392.9 891h1.36v5h-1.36zM1482.4 891h4.07v5h-4.07zM1547.5 891h2.71v5h-2.71zM1555.6 891h1.36v5h-1.36zM1574.6 891h2.71v5h-2.71zM591.6 896h1.36v5h-1.36zM597.0 896h2.71v5h-2.71zM607.9 896h1.36v5h-1.36zM625.5 896h2.71v5h-2.71zM841.1 896h1.36v5h-1.36zM845.2 896h2.71v5h-2.71zM854.6 896h1.36v5h-1.36zM864.1 896h2.71v5h-2.71zM1394.3 896h1.36v5h-1.36zM1485.1 896h1.36v5h-1.36zM1574.6 896h1.36v5h-1.36zM1078.4 1046h2.71v5h-2.71zM584.8 1056h5.42v5h-5.42zM595.7 1056h1.36v5h-1.36zM602.5 1056h1.36v5h-1.36zM605.2 1056h1.36v5h-1.36zM613.3 1056h2.71v5h-2.71zM624.2 1056h4.07v5h-4.07zM629.6 1056h1.36v5h-1.36zM632.3 1056h2.71v5h-2.71zM681.1 1056h1.36v5h-1.36zM694.7 1056h1.36v5h-1.36zM698.7 1056h1.36v5h-1.36zM706.9 1056h2.71v5h-2.71zM710.9 1056h1.36v5h-1.36zM728.6 1056h2.71v5h-2.71zM1054.0 1056h1.36v5h-1.36zM1097.3 1056h2.71v5h-2.71zM1101.4 1056h1.36v5h-1.36zM1448.5 1056h1.36v5h-1.36zM1456.6 1056h1.36v5h-1.36zM1471.6 1056h2.71v5h-2.71zM1482.4 1056h2.71v5h-2.71zM1532.6 1056h1.36v5h-1.36zM1538.0 1056h1.36v5h-1.36zM1565.1 1056h1.36v5h-1.36zM1569.2 1056h1.36v5h-1.36zM1571.9 1056h1.36v5h-1.36zM587.5 1061h2.71v5h-2.71zM626.9 1061h1.36v5h-1.36zM629.6 1061h1.36v5h-1.36zM632.3 1061h2.71v5h-2.71zM1101.4 1061h1.36v5h-1.36zM1448.5 1061h1.36v5h-1.36zM1482.4 1061h1.36v5h-1.36zM965.8 1091h1.36v5h-1.36zM963.1 1096h1.36v5h-1.36zM965.8 1096h1.36v5h-1.36zM526.5 1101h1.36v5h-1.36zM960.4 1101h2.71v5h-2.71zM1074.3 1101h1.36v5h-1.36zM1085.1 1101h1.36v5h-1.36zM529.2 1106h1.36v5h-1.36zM591.6 1106h1.36v5h-1.36zM595.7 1106h6.78v5h-6.78zM603.8 1106h1.36v5h-1.36zM607.9 1106h1.36v5h-1.36zM612.0 1106h2.71v5h-2.71zM617.4 1106h1.36v5h-1.36zM620.1 1106h1.36v5h-1.36zM960.4 1106h2.71v5h-2.71zM975.3 1106h1.36v5h-1.36zM1063.4 1106h5.42v5h-5.42zM1072.9 1106h2.71v5h-2.71zM1093.3 1106h1.36v5h-1.36zM1462.1 1106h1.36v5h-1.36zM1466.1 1106h1.36v5h-1.36zM1468.8 1106h1.36v5h-1.36zM1474.3 1106h4.07v5h-4.07zM1481.0 1106h4.07v5h-4.07zM1543.4 1106h4.07v5h-4.07zM1548.8 1106h4.07v5h-4.07zM1554.3 1106h2.71v5h-2.71zM1558.3 1106h1.36v5h-1.36zM1561.0 1106h1.36v5h-1.36zM1565.1 1106h2.71v5h-2.71zM590.3 1051h2.71v5h-2.71zM594.3 1051h5.42v5h-5.42zM602.5 1051h1.36v5h-1.36zM605.2 1051h1.36v5h-1.36zM613.3 1051h2.71v5h-2.71zM617.4 1051h1.36v5h-1.36zM622.8 1051h4.07v5h-4.07zM685.2 1051h1.36v5h-1.36zM690.6 1051h1.36v5h-1.36zM693.3 1051h2.71v5h-2.71zM698.7 1051h1.36v5h-1.36zM706.9 1051h2.71v5h-2.71zM710.9 1051h1.36v5h-1.36zM720.4 1051h1.36v5h-1.36zM728.6 1051h2.71v5h-2.71zM1067.5 1051h2.71v5h-2.71zM1085.1 1051h4.07v5h-4.07zM1091.9 1051h2.71v5h-2.71zM1451.2 1051h1.36v5h-1.36zM1453.9 1051h1.36v5h-1.36zM1456.6 1051h1.36v5h-1.36zM1466.1 1051h1.36v5h-1.36zM1471.6 1051h2.71v5h-2.71zM1483.8 1051h2.71v5h-2.71zM1536.6 1051h1.36v5h-1.36zM1554.3 1051h1.36v5h-1.36zM1557.0 1051h1.36v5h-1.36zM1565.1 1051h1.36v5h-1.36zM1567.8 1051h2.71v5h-2.71zM1571.9 1051h1.36v5h-1.36zM532.0 1111h1.36v5h-1.36zM586.2 1111h2.71v5h-2.71zM591.6 1111h1.36v5h-1.36zM598.4 1111h4.07v5h-4.07zM607.9 1111h1.36v5h-1.36zM612.0 1111h1.36v5h-1.36zM617.4 1111h1.36v5h-1.36zM624.2 1111h2.71v5h-2.71zM629.6 1111h1.36v5h-1.36zM632.3 1111h1.36v5h-1.36zM975.3 1111h1.36v5h-1.36zM1063.4 1111h2.71v5h-2.71zM1093.3 1111h1.36v5h-1.36zM1101.4 1111h1.36v5h-1.36zM1447.1 1111h1.36v5h-1.36zM1449.9 1111h1.36v5h-1.36zM1477.0 1111h1.36v5h-1.36zM1481.0 1111h1.36v5h-1.36zM1487.8 1111h1.36v5h-1.36zM1535.3 1111h1.36v5h-1.36zM1539.3 1111h1.36v5h-1.36zM1544.8 1111h2.71v5h-2.71zM1551.5 1111h1.36v5h-1.36zM1558.3 1111h1.36v5h-1.36zM1561.0 1111h1.36v5h-1.36zM1565.1 1111h2.71v5h-2.71zM1570.5 1111h1.36v5h-1.36zM1575.9 1111h1.36v5h-1.36zM1672.2 1111h1.36v5h-1.36zM534.7 1116h2.71v5h-2.71zM624.2 1116h2.71v5h-2.71zM629.6 1116h1.36v5h-1.36zM632.3 1116h1.36v5h-1.36zM1101.4 1116h1.36v5h-1.36zM1449.9 1116h1.36v5h-1.36zM1477.0 1116h1.36v5h-1.36zM1481.0 1116h1.36v5h-1.36zM1539.3 1116h1.36v5h-1.36zM1575.9 1116h1.36v5h-1.36zM1672.2 1116h1.36v5h-1.36zM534.7 1121h2.71v5h-2.71zM706.9 1121h2.71v5h-2.71zM1264.1 1121h1.36v5h-1.36zM1481.0 1121h1.36v5h-1.36zM1565.1 1121h1.36v5h-1.36zM689.2 1126h1.36v5h-1.36zM706.9 1126h2.71v5h-2.71zM1699.3 1126h1.36v5h-1.36zM686.5 1131h4.07v5h-4.07zM725.8 1131h1.36v5h-1.36zM1383.4 1131h1.36v5h-1.36zM725.8 1136h1.36v5h-1.36zM678.4 1141h1.36v5h-1.36zM1597.6 1141h1.36v5h-1.36zM1721.0 1141h1.36v5h-1.36zM468.2 1146h2.71v5h-2.71zM674.3 1146h2.71v5h-2.71zM678.4 1146h1.36v5h-1.36zM1597.6 1146h1.36v5h-1.36zM1721.0 1146h1.36v5h-1.36zM1772.5 1146h1.36v5h-1.36zM927.9 1151h1.36v5h-1.36zM1772.5 1151h1.36v5h-1.36zM1802.4 1151h1.36v5h-1.36zM354.3 1191h2.71v5h-2.71zM1241.1 1191h1.36v5h-1.36zM1337.3 1191h1.36v5h-1.36zM1428.2 1191h1.36v5h-1.36zM1433.6 1191h2.71v5h-2.71zM354.3 1186h1.36v5h-1.36zM544.2 1186h1.36v5h-1.36zM1428.2 1186h1.36v5h-1.36zM1430.9 1186h1.36v5h-1.36zM348.9 1181h2.71v5h-2.71zM353.0 1181h1.36v5h-1.36zM1428.2 1181h1.36v5h-1.36zM956.3 796h1.36v5h-1.36zM747.5 791h1.36v5h-1.36zM956.3 791h1.36v5h-1.36zM1559.7 791h1.36v5h-1.36zM1764.4 791h1.36v5h-1.36zM1767.1 791h1.36v5h-1.36zM351.6 786h2.71v5h-2.71zM517.0 786h1.36v5h-1.36zM521.1 786h1.36v5h-1.36zM1265.5 786h1.36v5h-1.36zM1609.8 786h1.36v5h-1.36zM1767.1 786h1.36v5h-1.36zM351.6 781h2.71v5h-2.71zM517.0 781h1.36v5h-1.36zM1003.8 781h1.36v5h-1.36zM1129.9 781h1.36v5h-1.36zM503.5 836h2.71v5h-2.71zM513.0 836h2.71v5h-2.71zM519.8 836h2.71v5h-2.71zM523.8 836h1.36v5h-1.36zM530.6 836h1.36v5h-1.36zM622.8 836h1.36v5h-1.36zM1539.3 836h1.36v5h-1.36zM1544.8 836h1.36v5h-1.36zM1550.2 836h1.36v5h-1.36zM1554.3 836h1.36v5h-1.36zM1561.0 836h1.36v5h-1.36zM492.6 841h1.36v5h-1.36zM503.5 841h2.71v5h-2.71zM513.0 841h2.71v5h-2.71zM518.4 841h4.07v5h-4.07zM533.3 841h1.36v5h-1.36zM544.2 841h1.36v5h-1.36zM549.6 841h1.36v5h-1.36zM552.3 841h2.71v5h-2.71zM586.2 841h1.36v5h-1.36zM593.0 841h1.36v5h-1.36zM595.7 841h1.36v5h-1.36zM614.7 841h1.36v5h-1.36zM617.4 841h1.36v5h-1.36zM629.6 841h1.36v5h-1.36zM1533.9 841h1.36v5h-1.36zM1536.6 841h1.36v5h-1.36zM1539.3 841h1.36v5h-1.36zM1544.8 841h1.36v5h-1.36zM1551.5 841h1.36v5h-1.36zM1573.2 841h2.71v5h-2.71zM518.4 846h1.36v5h-1.36zM544.2 846h1.36v5h-1.36zM549.6 846h1.36v5h-1.36zM617.4 846h1.36v5h-1.36zM1536.6 846h1.36v5h-1.36zM498.1 996h4.07v5h-4.07zM511.6 996h2.71v5h-2.71zM519.8 996h1.36v5h-1.36zM530.6 996h1.36v5h-1.36zM540.1 996h1.36v5h-1.36zM548.2 996h1.36v5h-1.36zM587.5 996h1.36v5h-1.36zM590.3 996h1.36v5h-1.36zM594.3 996h2.71v5h-2.71zM601.1 996h1.36v5h-1.36zM616.0 996h1.36v5h-1.36zM624.2 996h1.36v5h-1.36zM629.6 996h1.36v5h-1.36zM1059.4 996h2.71v5h-2.71zM1063.4 996h1.36v5h-1.36zM1070.2 996h1.36v5h-1.36zM1075.6 996h1.36v5h-1.36zM1093.3 996h1.36v5h-1.36zM1100.1 996h1.36v5h-1.36zM1453.9 996h1.36v5h-1.36zM1462.1 996h1.36v5h-1.36zM1472.9 996h2.71v5h-2.71zM1477.0 996h1.36v5h-1.36zM1482.4 996h1.36v5h-1.36zM1536.6 996h1.36v5h-1.36zM1540.7 996h1.36v5h-1.36zM1546.1 996h1.36v5h-1.36zM1558.3 996h2.71v5h-2.71zM499.4 1001h2.71v5h-2.71zM511.6 1001h2.71v5h-2.71zM587.5 1001h1.36v5h-1.36zM624.2 1001h1.36v5h-1.36zM629.6 1001h1.36v5h-1.36zM633.6 1001h1.36v5h-1.36zM1056.7 1001h1.36v5h-1.36zM1070.2 1001h1.36v5h-1.36zM1448.5 1001h1.36v5h-1.36zM1472.9 1001h2.71v5h-2.71zM1477.0 1001h1.36v5h-1.36zM1482.4 1001h1.36v5h-1.36zM1487.8 1001h1.36v5h-1.36zM1546.1 1001h1.36v5h-1.36zM1056.7 1006h1.36v5h-1.36zM1448.5 1006h1.36v5h-1.36zM348.9 1171h2.71v5h-2.71zM1344.1 1171h1.36v5h-1.36zM348.9 1176h2.71v5h-2.71zM902.1 1176h1.36v5h-1.36zM1161.1 1176h1.36v5h-1.36zM408.6 1166h2.71v5h-2.71zM845.2 901h2.71v5h-2.71zM864.1 901h2.71v5h-2.71zM586.2 946h1.36v5h-1.36zM590.3 946h1.36v5h-1.36zM593.0 946h1.36v5h-1.36zM595.7 946h1.36v5h-1.36zM598.4 946h1.36v5h-1.36zM616.0 946h1.36v5h-1.36zM624.2 946h1.36v5h-1.36zM1058.0 946h1.36v5h-1.36zM1455.3 946h1.36v5h-1.36zM593.0 951h1.36v5h-1.36zM598.4 951h1.36v5h-1.36zM605.2 941h1.36v5h-1.36zM1054.0 941h1.36v5h-1.36zM1058.0 941h1.36v5h-1.36zM1083.8 941h2.71v5h-2.71zM1100.1 941h1.36v5h-1.36zM1447.1 941h1.36v5h-1.36zM1455.3 941h1.36v5h-1.36zM1463.4 941h1.36v5h-1.36zM1475.6 941h1.36v5h-1.36zM1554.3 941h1.36v5h-1.36zM1558.3 941h4.07v5h-4.07zM1571.9 941h1.36v5h-1.36zM1574.6 941h1.36v5h-1.36zM1083.8 936h2.71v5h-2.71zM1475.6 936h1.36v5h-1.36zM1559.7 936h2.71v5h-2.71zM1075.6 991h1.36v5h-1.36zM1083.8 991h1.36v5h-1.36zM1087.8 991h1.36v5h-1.36zM404.5 1161h1.36v5h-1.36zM1025.5 1161h1.36v5h-1.36zM218.8 581h1.36v5h-1.36zM221.5 581h1.36v5h-1.36zM199.8 481h1.36v5h-1.36zM205.2 481h1.36v5h-1.36zM251.3 481h1.36v5h-1.36zM199.8 476h1.36v5h-1.36zM251.3 476h1.36v5h-1.36zM285.2 456h1.36v5h-1.36zM285.2 461h1.36v5h-1.36zM294.7 446h1.36v5h-1.36zM294.7 451h1.36v5h-1.36zM195.7 471h1.36v5h-1.36zM313.7 471h1.36v5h-1.36zM316.4 471h1.36v5h-1.36zM316.4 466h1.36v5h-1.36zM224.2 586h2.71v5h-2.71zM224.2 591h2.71v5h-2.71zM708.2 676h1.36v5h-1.36zM735.3 676h1.36v5h-1.36zM1189.5 676h1.36v5h-1.36zM1818.6 676h1.36v5h-1.36zM433.0 681h1.36v5h-1.36zM708.2 681h1.36v5h-1.36zM864.1 686h1.36v5h-1.36zM1205.8 686h1.36v5h-1.36zM1223.4 686h1.36v5h-1.36zM1603.1 686h1.36v5h-1.36zM1806.4 686h1.36v5h-1.36zM1544.8 751h1.36v5h-1.36zM399.1 771h1.36v5h-1.36zM403.2 771h1.36v5h-1.36zM845.2 771h1.36v5h-1.36zM1245.1 771h1.36v5h-1.36zM1365.8 771h1.36v5h-1.36zM403.2 766h1.36v5h-1.36zM407.2 766h2.71v5h-2.71zM1220.7 766h2.71v5h-2.71zM1365.8 766h1.36v5h-1.36zM407.2 761h2.71v5h-2.71zM751.6 761h1.36v5h-1.36zM1220.7 761h2.71v5h-2.71zM395.0 776h1.36v5h-1.36zM513.0 776h1.36v5h-1.36zM1003.8 776h1.36v5h-1.36zM1174.6 776h1.36v5h-1.36zM1245.1 776h1.36v5h-1.36zM445.2 736h1.36v5h-1.36zM1582.7 736h1.36v5h-1.36zM445.2 741h1.36v5h-1.36zM1200.4 741h1.36v5h-1.36zM1582.7 741h1.36v5h-1.36zM1586.8 741h1.36v5h-1.36zM540.1 746h2.71v5h-2.71zM1582.7 746h1.36v5h-1.36zM789.6 1156h1.36v5h-1.36zM1698.0 1241h1.36v5h-1.36z"/><path fill="#02bac3" d="M875.0 611h1.36v5h-1.36zM879.1 611h1.36v5h-1.36zM363.8 606h1.36v5h-1.36zM872.3 606h1.36v5h-1.36zM1121.7 606h2.71v5h-2.71zM363.8 601h1.36v5h-1.36zM1631.5 671h1.36v5h-1.36zM1742.7 671h2.71v5h-2.71zM834.3 666h2.71v5h-2.71zM849.2 666h1.36v5h-1.36zM1193.6 666h1.36v5h-1.36zM853.3 661h1.36v5h-1.36zM583.5 706h2.71v5h-2.71zM754.3 706h1.36v5h-1.36zM1304.8 706h1.36v5h-1.36zM1574.6 706h2.71v5h-2.71zM1782.0 706h1.36v5h-1.36zM580.8 701h2.71v5h-2.71zM946.8 701h1.36v5h-1.36zM1782.0 701h1.36v5h-1.36zM578.1 696h2.71v5h-2.71zM369.3 711h1.36v5h-1.36zM583.5 711h2.71v5h-2.71zM754.3 711h1.36v5h-1.36zM834.3 711h2.71v5h-2.71zM1304.8 711h1.36v5h-1.36zM1308.9 711h1.36v5h-1.36zM389.6 651h2.71v5h-2.71zM690.6 651h1.36v5h-1.36zM860.1 651h1.36v5h-1.36zM1216.7 651h1.36v5h-1.36zM857.4 656h1.36v5h-1.36zM1395.6 656h1.36v5h-1.36zM477.7 616h1.36v5h-1.36zM763.8 616h2.71v5h-2.71zM881.8 616h1.36v5h-1.36zM428.9 626h1.36v5h-1.36zM857.4 626h1.36v5h-1.36zM1101.4 626h1.36v5h-1.36zM1208.5 626h1.36v5h-1.36zM1566.5 626h1.36v5h-1.36zM1571.9 626h2.71v5h-2.71zM428.9 621h1.36v5h-1.36zM790.9 621h1.36v5h-1.36zM881.8 621h1.36v5h-1.36zM1208.5 621h1.36v5h-1.36zM1566.5 621h1.36v5h-1.36zM1569.2 621h1.36v5h-1.36zM857.4 631h1.36v5h-1.36zM982.1 631h1.36v5h-1.36zM1097.3 631h1.36v5h-1.36zM1101.4 631h1.36v5h-1.36zM1575.9 631h1.36v5h-1.36zM1818.6 631h1.36v5h-1.36zM1773.9 636h1.36v5h-1.36zM389.6 646h2.71v5h-2.71zM1216.7 646h1.36v5h-1.36zM1268.2 646h2.71v5h-2.71zM1352.2 646h2.71v5h-2.71zM1379.4 646h1.36v5h-1.36zM1352.2 641h2.71v5h-2.71zM1745.4 641h2.71v5h-2.71zM1773.9 641h1.36v5h-1.36zM357.1 726h2.71v5h-2.71zM701.4 726h2.71v5h-2.71zM361.1 721h1.36v5h-1.36zM701.4 721h2.71v5h-2.71zM365.2 716h1.36v5h-1.36zM369.3 716h1.36v5h-1.36zM701.4 716h2.71v5h-2.71zM754.3 716h1.36v5h-1.36zM578.1 691h1.36v5h-1.36zM1154.3 691h1.36v5h-1.36zM1623.4 691h2.71v5h-2.71zM1734.6 691h1.36v5h-1.36zM1779.3 691h1.36v5h-1.36zM353.0 731h2.71v5h-2.71zM357.1 731h2.71v5h-2.71zM857.4 731h1.36v5h-1.36zM1599.0 731h1.36v5h-1.36zM218.8 886h1.36v5h-1.36zM348.9 886h1.36v5h-1.36zM599.8 886h1.36v5h-1.36zM734.0 886h1.36v5h-1.36zM736.7 886h1.36v5h-1.36zM757.0 886h1.36v5h-1.36zM883.1 886h2.71v5h-2.71zM906.2 886h1.36v5h-1.36zM1039.0 886h4.07v5h-4.07zM1045.8 886h1.36v5h-1.36zM1333.3 886h1.36v5h-1.36zM1664.1 886h2.71v5h-2.71zM1714.2 886h1.36v5h-1.36zM273.0 881h1.36v5h-1.36zM340.8 881h1.36v5h-1.36zM344.9 881h1.36v5h-1.36zM348.9 881h1.36v5h-1.36zM586.2 881h2.71v5h-2.71zM603.8 881h1.36v5h-1.36zM736.7 881h1.36v5h-1.36zM1045.8 881h1.36v5h-1.36zM1049.9 881h1.36v5h-1.36zM1066.2 881h1.36v5h-1.36zM1071.6 881h1.36v5h-1.36zM1161.1 881h1.36v5h-1.36zM1660.0 881h1.36v5h-1.36zM1784.7 881h1.36v5h-1.36zM439.8 876h1.36v5h-1.36zM494.0 876h1.36v5h-1.36zM586.2 876h2.71v5h-2.71zM606.5 876h2.71v5h-2.71zM739.4 876h1.36v5h-1.36zM841.1 876h2.71v5h-2.71zM933.3 876h1.36v5h-1.36zM1070.2 876h2.71v5h-2.71zM1565.1 876h1.36v5h-1.36zM1660.0 876h1.36v5h-1.36zM439.8 871h1.36v5h-1.36zM485.9 871h1.36v5h-1.36zM586.2 871h2.71v5h-2.71zM899.4 871h1.36v5h-1.36zM1131.2 871h1.36v5h-1.36zM1437.7 871h1.36v5h-1.36zM1452.6 871h1.36v5h-1.36zM1565.1 871h1.36v5h-1.36zM1698.0 871h1.36v5h-1.36zM1791.5 871h1.36v5h-1.36zM426.2 861h1.36v5h-1.36zM445.2 861h2.71v5h-2.71zM618.7 861h1.36v5h-1.36zM1250.5 861h1.36v5h-1.36zM483.1 866h1.36v5h-1.36zM899.4 866h1.36v5h-1.36zM1250.5 866h1.36v5h-1.36zM1327.8 866h1.36v5h-1.36zM1437.7 866h1.36v5h-1.36zM1452.6 866h1.36v5h-1.36zM1565.1 866h1.36v5h-1.36zM1791.5 866h1.36v5h-1.36zM358.4 891h1.36v5h-1.36zM513.0 891h1.36v5h-1.36zM595.7 891h1.36v5h-1.36zM731.3 891h4.07v5h-4.07zM757.0 891h1.36v5h-1.36zM1035.0 891h1.36v5h-1.36zM1039.0 891h2.71v5h-2.71zM1251.9 891h1.36v5h-1.36zM1336.0 891h1.36v5h-1.36zM1664.1 891h2.71v5h-2.71zM571.3 896h1.36v5h-1.36zM728.6 896h1.36v5h-1.36zM1251.9 896h1.36v5h-1.36zM1340.0 896h1.36v5h-1.36zM1440.4 896h2.71v5h-2.71zM720.4 1036h1.36v5h-1.36zM936.0 1036h1.36v5h-1.36zM942.8 1036h1.36v5h-1.36zM1171.9 1036h1.36v5h-1.36zM1306.1 1036h1.36v5h-1.36zM1609.8 1036h1.36v5h-1.36zM1645.1 1036h1.36v5h-1.36zM1655.9 1036h1.36v5h-1.36zM1703.4 1036h2.71v5h-2.71zM682.5 1041h2.71v5h-2.71zM937.4 1041h1.36v5h-1.36zM1425.5 1041h2.71v5h-2.71zM1620.7 1041h1.36v5h-1.36zM1655.9 1041h2.71v5h-2.71zM374.7 1046h1.36v5h-1.36zM677.0 1046h1.36v5h-1.36zM742.1 1046h1.36v5h-1.36zM941.4 1046h2.71v5h-2.71zM980.7 1046h1.36v5h-1.36zM983.5 1046h1.36v5h-1.36zM999.7 1046h1.36v5h-1.36zM1407.8 1046h1.36v5h-1.36zM1616.6 1046h1.36v5h-1.36zM1620.7 1046h1.36v5h-1.36zM636.4 1056h2.71v5h-2.71zM946.8 1056h4.07v5h-4.07zM974.0 1056h4.07v5h-4.07zM992.9 1056h1.36v5h-1.36zM1154.3 1056h2.71v5h-2.71zM1195.0 1056h1.36v5h-1.36zM1199.0 1056h1.36v5h-1.36zM1609.8 1056h1.36v5h-1.36zM1613.9 1056h2.71v5h-2.71zM1708.8 1056h2.71v5h-2.71zM544.2 1061h1.36v5h-1.36zM662.1 1061h2.71v5h-2.71zM683.8 1061h1.36v5h-1.36zM837.0 1061h1.36v5h-1.36zM953.6 1061h1.36v5h-1.36zM971.2 1061h2.71v5h-2.71zM988.9 1061h1.36v5h-1.36zM992.9 1061h1.36v5h-1.36zM1719.7 1061h1.36v5h-1.36zM1723.7 1061h1.36v5h-1.36zM350.3 1066h1.36v5h-1.36zM544.2 1066h1.36v5h-1.36zM815.3 1066h1.36v5h-1.36zM955.0 1066h2.71v5h-2.71zM1163.8 1066h1.36v5h-1.36zM1333.3 1066h1.36v5h-1.36zM1345.5 1066h1.36v5h-1.36zM1376.6 1066h1.36v5h-1.36zM1455.3 1066h1.36v5h-1.36zM1719.7 1066h1.36v5h-1.36zM1727.8 1066h1.36v5h-1.36zM1733.2 1066h1.36v5h-1.36zM354.3 1071h1.36v5h-1.36zM358.4 1071h2.71v5h-2.71zM960.4 1071h2.71v5h-2.71zM964.5 1071h1.36v5h-1.36zM1142.1 1071h2.71v5h-2.71zM1163.8 1071h1.36v5h-1.36zM1303.4 1071h2.71v5h-2.71zM1333.3 1071h1.36v5h-1.36zM1376.6 1071h1.36v5h-1.36zM1380.7 1071h1.36v5h-1.36zM1539.3 1071h2.71v5h-2.71zM1737.3 1071h1.36v5h-1.36zM354.3 1076h1.36v5h-1.36zM363.8 1076h2.71v5h-2.71zM367.9 1076h2.71v5h-2.71zM422.1 1076h1.36v5h-1.36zM652.6 1076h1.36v5h-1.36zM931.9 1076h1.36v5h-1.36zM957.7 1076h1.36v5h-1.36zM963.1 1076h1.36v5h-1.36zM1299.4 1076h4.07v5h-4.07zM1308.9 1076h1.36v5h-1.36zM1539.3 1076h2.71v5h-2.71zM363.8 1081h2.71v5h-2.71zM367.9 1081h2.71v5h-2.71zM422.1 1081h1.36v5h-1.36zM555.0 1081h1.36v5h-1.36zM652.6 1081h1.36v5h-1.36zM930.6 1081h2.71v5h-2.71zM956.3 1081h1.36v5h-1.36zM967.2 1081h2.71v5h-2.71zM1013.3 1081h1.36v5h-1.36zM1525.8 1081h1.36v5h-1.36zM671.6 1091h1.36v5h-1.36zM948.2 1091h2.71v5h-2.71zM974.0 1091h1.36v5h-1.36zM976.7 1091h1.36v5h-1.36zM1059.4 1091h2.71v5h-2.71zM1165.1 1091h1.36v5h-1.36zM1169.2 1091h1.36v5h-1.36zM1189.5 1091h1.36v5h-1.36zM1344.1 1091h4.07v5h-4.07zM1748.1 1091h2.71v5h-2.71zM706.9 1096h1.36v5h-1.36zM944.1 1096h1.36v5h-1.36zM978.0 1096h1.36v5h-1.36zM980.7 1096h1.36v5h-1.36zM1059.4 1096h2.71v5h-2.71zM1189.5 1096h1.36v5h-1.36zM1192.2 1096h2.71v5h-2.71zM1346.8 1096h1.36v5h-1.36zM1398.3 1096h1.36v5h-1.36zM1547.5 1096h2.71v5h-2.71zM1817.3 1096h1.36v5h-1.36zM706.9 1101h1.36v5h-1.36zM941.4 1101h1.36v5h-1.36zM982.1 1101h2.71v5h-2.71zM1193.6 1101h1.36v5h-1.36zM1196.3 1101h1.36v5h-1.36zM1547.5 1101h2.71v5h-2.71zM1817.3 1101h1.36v5h-1.36zM936.0 1106h1.36v5h-1.36zM987.5 1106h1.36v5h-1.36zM1193.6 1106h1.36v5h-1.36zM636.4 1051h2.71v5h-2.71zM679.7 1051h2.71v5h-2.71zM742.1 1051h1.36v5h-1.36zM979.4 1051h1.36v5h-1.36zM995.7 1051h1.36v5h-1.36zM1154.3 1051h2.71v5h-2.71zM1195.0 1051h1.36v5h-1.36zM1199.0 1051h1.36v5h-1.36zM1613.9 1051h2.71v5h-2.71zM873.6 1031h2.71v5h-2.71zM945.5 1031h2.71v5h-2.71zM1009.2 1031h1.36v5h-1.36zM1113.6 1031h1.36v5h-1.36zM1306.1 1031h1.36v5h-1.36zM1703.4 1031h2.71v5h-2.71zM473.7 1026h1.36v5h-1.36zM476.4 1026h2.71v5h-2.71zM694.7 1026h1.36v5h-1.36zM872.3 1026h1.36v5h-1.36zM927.9 1026h2.71v5h-2.71zM1009.2 1026h1.36v5h-1.36zM1013.3 1026h1.36v5h-1.36zM1018.7 1026h1.36v5h-1.36zM476.4 1021h2.71v5h-2.71zM617.4 1021h1.36v5h-1.36zM872.3 1021h1.36v5h-1.36zM927.9 1021h2.71v5h-2.71zM950.9 1021h1.36v5h-1.36zM1016.0 1021h1.36v5h-1.36zM1018.7 1021h1.36v5h-1.36zM1726.4 1021h2.71v5h-2.71zM255.4 801h1.36v5h-1.36zM258.1 801h1.36v5h-1.36zM260.8 801h1.36v5h-1.36zM263.5 801h1.36v5h-1.36zM374.7 801h1.36v5h-1.36zM384.2 801h1.36v5h-1.36zM567.2 801h1.36v5h-1.36zM571.3 801h1.36v5h-1.36zM664.8 801h1.36v5h-1.36zM1143.4 801h1.36v5h-1.36zM1235.6 801h1.36v5h-1.36zM1786.1 801h1.36v5h-1.36zM1805.1 801h1.36v5h-1.36zM255.4 796h1.36v5h-1.36zM258.1 796h1.36v5h-1.36zM571.3 796h1.36v5h-1.36zM1060.7 796h2.71v5h-2.71zM1067.5 796h1.36v5h-1.36zM1190.9 796h1.36v5h-1.36zM1367.2 796h1.36v5h-1.36zM254.0 791h1.36v5h-1.36zM574.0 791h2.71v5h-2.71zM1062.1 791h1.36v5h-1.36zM1064.8 791h1.36v5h-1.36zM1108.2 791h1.36v5h-1.36zM1064.8 786h1.36v5h-1.36zM1505.4 786h1.36v5h-1.36zM1731.9 786h1.36v5h-1.36zM1573.2 781h1.36v5h-1.36zM1729.2 781h2.71v5h-2.71zM681.1 831h2.71v5h-2.71zM1264.1 831h1.36v5h-1.36zM1569.2 831h1.36v5h-1.36zM1571.9 831h1.36v5h-1.36zM1658.7 831h2.71v5h-2.71zM1662.7 831h1.36v5h-1.36zM1696.6 831h1.36v5h-1.36zM1760.3 831h1.36v5h-1.36zM1764.4 831h1.36v5h-1.36zM673.0 826h1.36v5h-1.36zM945.5 826h2.71v5h-2.71zM1058.0 826h1.36v5h-1.36zM1245.1 826h1.36v5h-1.36zM1264.1 826h1.36v5h-1.36zM1662.7 826h1.36v5h-1.36zM1689.8 826h1.36v5h-1.36zM1696.6 826h1.36v5h-1.36zM1760.3 826h1.36v5h-1.36zM361.1 821h2.71v5h-2.71zM365.2 821h1.36v5h-1.36zM513.0 821h1.36v5h-1.36zM645.8 821h1.36v5h-1.36zM658.1 821h1.36v5h-1.36zM673.0 821h1.36v5h-1.36zM1058.0 821h1.36v5h-1.36zM1211.2 821h1.36v5h-1.36zM1649.2 821h1.36v5h-1.36zM1689.8 821h1.36v5h-1.36zM365.2 816h1.36v5h-1.36zM513.0 816h1.36v5h-1.36zM546.9 816h1.36v5h-1.36zM639.1 816h1.36v5h-1.36zM658.1 816h1.36v5h-1.36zM660.8 816h1.36v5h-1.36zM1117.7 816h1.36v5h-1.36zM1493.2 816h1.36v5h-1.36zM1649.2 816h1.36v5h-1.36zM1654.6 816h2.71v5h-2.71zM403.2 836h1.36v5h-1.36zM572.6 836h1.36v5h-1.36zM681.1 836h2.71v5h-2.71zM1573.2 836h5.42v5h-5.42zM1611.2 836h1.36v5h-1.36zM1655.9 836h1.36v5h-1.36zM1658.7 836h2.71v5h-2.71zM1662.7 836h1.36v5h-1.36zM1759.0 836h1.36v5h-1.36zM1764.4 836h1.36v5h-1.36zM1768.5 836h1.36v5h-1.36zM565.9 841h2.71v5h-2.71zM572.6 841h1.36v5h-1.36zM1329.2 841h1.36v5h-1.36zM1459.3 841h1.36v5h-1.36zM1577.3 841h2.71v5h-2.71zM1611.2 841h1.36v5h-1.36zM1653.2 841h1.36v5h-1.36zM1768.5 841h1.36v5h-1.36zM1772.5 841h1.36v5h-1.36zM445.2 846h1.36v5h-1.36zM519.8 846h2.71v5h-2.71zM538.7 846h1.36v5h-1.36zM546.9 846h1.36v5h-1.36zM572.6 846h1.36v5h-1.36zM1326.5 846h4.07v5h-4.07zM1380.7 846h1.36v5h-1.36zM1525.8 846h1.36v5h-1.36zM1611.2 846h1.36v5h-1.36zM1776.6 846h1.36v5h-1.36zM384.2 996h1.36v5h-1.36zM937.4 996h1.36v5h-1.36zM1523.1 996h2.71v5h-2.71zM1710.2 996h2.71v5h-2.71zM811.3 1001h1.36v5h-1.36zM937.4 1001h1.36v5h-1.36zM1310.2 1001h1.36v5h-1.36zM1567.8 1001h1.36v5h-1.36zM403.2 1006h4.07v5h-4.07zM415.4 1006h2.71v5h-2.71zM796.3 1006h1.36v5h-1.36zM811.3 1006h1.36v5h-1.36zM910.2 1006h1.36v5h-1.36zM456.0 901h1.36v5h-1.36zM571.3 901h1.36v5h-1.36zM591.6 901h2.71v5h-2.71zM937.4 901h1.36v5h-1.36zM994.3 901h1.36v5h-1.36zM1436.3 901h2.71v5h-2.71zM353.0 946h1.36v5h-1.36zM641.8 946h1.36v5h-1.36zM850.6 946h2.71v5h-2.71zM957.7 946h1.36v5h-1.36zM1068.9 946h1.36v5h-1.36zM1178.7 946h2.71v5h-2.71zM1581.4 946h1.36v5h-1.36zM957.7 951h1.36v5h-1.36zM965.8 951h1.36v5h-1.36zM975.3 951h2.71v5h-2.71zM1068.9 951h1.36v5h-1.36zM1181.4 951h1.36v5h-1.36zM1498.7 951h1.36v5h-1.36zM1581.4 951h1.36v5h-1.36zM243.2 941h1.36v5h-1.36zM353.0 941h1.36v5h-1.36zM632.3 941h1.36v5h-1.36zM641.8 941h1.36v5h-1.36zM850.6 941h2.71v5h-2.71zM243.2 936h1.36v5h-1.36zM282.5 936h1.36v5h-1.36zM327.2 936h1.36v5h-1.36zM641.8 936h1.36v5h-1.36zM742.1 936h1.36v5h-1.36zM744.8 936h1.36v5h-1.36zM784.1 936h2.71v5h-2.71zM847.9 936h1.36v5h-1.36zM1405.1 936h1.36v5h-1.36zM1432.2 936h1.36v5h-1.36zM1683.1 936h1.36v5h-1.36zM869.6 991h1.36v5h-1.36zM940.1 991h1.36v5h-1.36zM946.8 991h1.36v5h-1.36zM1044.5 991h1.36v5h-1.36zM1169.2 991h1.36v5h-1.36zM1215.3 991h1.36v5h-1.36zM1382.1 991h1.36v5h-1.36zM1482.4 991h2.71v5h-2.71zM1523.1 991h2.71v5h-2.71zM1623.4 991h1.36v5h-1.36zM1740.0 991h1.36v5h-1.36zM1016.0 676h1.36v5h-1.36zM1630.2 676h2.71v5h-2.71zM1746.8 676h1.36v5h-1.36zM1143.4 681h1.36v5h-1.36zM1147.5 681h1.36v5h-1.36zM1627.5 681h1.36v5h-1.36zM1746.8 681h1.36v5h-1.36zM1750.9 681h1.36v5h-1.36zM1151.6 686h1.36v5h-1.36zM1154.3 686h1.36v5h-1.36zM1624.8 686h1.36v5h-1.36zM1734.6 686h1.36v5h-1.36zM1754.9 686h1.36v5h-1.36zM1779.3 686h1.36v5h-1.36zM263.5 806h1.36v5h-1.36zM370.6 806h1.36v5h-1.36zM374.7 806h1.36v5h-1.36zM384.2 806h1.36v5h-1.36zM567.2 806h1.36v5h-1.36zM663.5 806h1.36v5h-1.36zM1637.0 806h2.71v5h-2.71zM1657.3 806h1.36v5h-1.36zM1810.5 806h1.36v5h-1.36zM626.9 751h1.36v5h-1.36zM724.5 751h1.36v5h-1.36zM865.5 751h1.36v5h-1.36zM950.9 751h1.36v5h-1.36zM637.7 771h1.36v5h-1.36zM1157.0 771h2.71v5h-2.71zM1243.8 771h1.36v5h-1.36zM1723.7 771h1.36v5h-1.36zM637.7 766h1.36v5h-1.36zM1243.8 766h1.36v5h-1.36zM1350.9 766h1.36v5h-1.36zM1723.7 766h1.36v5h-1.36zM635.0 761h1.36v5h-1.36zM630.9 756h1.36v5h-1.36zM1352.2 756h1.36v5h-1.36zM1727.8 776h1.36v5h-1.36zM353.0 736h2.71v5h-2.71zM357.1 736h2.71v5h-2.71zM701.4 736h1.36v5h-1.36zM1197.7 736h1.36v5h-1.36zM1338.7 736h2.71v5h-2.71zM1378.0 736h2.71v5h-2.71zM1519.0 736h1.36v5h-1.36zM1599.0 736h1.36v5h-1.36zM1666.8 736h1.36v5h-1.36zM336.7 811h2.71v5h-2.71zM367.9 811h1.36v5h-1.36zM546.9 811h1.36v5h-1.36zM639.1 811h1.36v5h-1.36zM660.8 811h1.36v5h-1.36zM1637.0 811h2.71v5h-2.71zM1651.9 811h1.36v5h-1.36zM1654.6 811h2.71v5h-2.71zM701.4 741h1.36v5h-1.36zM1378.0 741h2.71v5h-2.71zM1519.0 741h1.36v5h-1.36zM1521.7 741h2.71v5h-2.71zM622.8 746h2.71v5h-2.71zM865.5 746h1.36v5h-1.36zM950.9 746h1.36v5h-1.36zM340.8 856h1.36v5h-1.36zM426.2 856h1.36v5h-1.36zM445.2 856h2.71v5h-2.71zM618.7 856h1.36v5h-1.36zM858.7 856h1.36v5h-1.36zM911.6 856h2.71v5h-2.71zM1246.5 856h1.36v5h-1.36zM449.3 906h1.36v5h-1.36zM980.7 906h1.36v5h-1.36zM1436.3 906h2.71v5h-2.71zM340.8 851h1.36v5h-1.36zM538.7 851h1.36v5h-1.36zM545.5 851h2.71v5h-2.71zM858.7 851h1.36v5h-1.36zM911.6 851h2.71v5h-2.71zM1322.4 851h1.36v5h-1.36zM1525.8 851h1.36v5h-1.36zM1763.1 851h1.36v5h-1.36zM1776.6 851h1.36v5h-1.36zM732.6 911h1.36v5h-1.36zM488.6 981h1.36v5h-1.36zM679.7 981h1.36v5h-1.36zM888.5 981h1.36v5h-1.36zM944.1 981h1.36v5h-1.36zM1220.7 981h1.36v5h-1.36zM1223.4 981h4.07v5h-4.07zM1387.5 981h2.71v5h-2.71zM1559.7 981h1.36v5h-1.36zM1726.4 981h2.71v5h-2.71zM1748.1 981h4.07v5h-4.07zM517.0 986h1.36v5h-1.36zM601.1 986h1.36v5h-1.36zM856.0 986h1.36v5h-1.36zM941.4 986h2.71v5h-2.71zM1218.0 986h1.36v5h-1.36zM1224.8 986h2.71v5h-2.71zM1384.8 986h1.36v5h-1.36zM194.4 926h1.36v5h-1.36zM249.9 926h1.36v5h-1.36zM739.4 926h2.71v5h-2.71zM788.2 926h1.36v5h-1.36zM1115.0 926h1.36v5h-1.36zM1235.6 926h1.36v5h-1.36zM1510.9 926h1.36v5h-1.36zM1607.1 926h1.36v5h-1.36zM245.9 931h1.36v5h-1.36zM249.9 931h1.36v5h-1.36zM327.2 931h1.36v5h-1.36zM739.4 931h4.07v5h-4.07zM784.1 931h2.71v5h-2.71zM1235.6 931h1.36v5h-1.36zM1405.1 931h1.36v5h-1.36zM796.3 1011h1.36v5h-1.36zM800.4 1011h1.36v5h-1.36zM805.8 1011h2.71v5h-2.71zM906.2 1011h1.36v5h-1.36zM1273.6 1011h1.36v5h-1.36zM488.6 976h1.36v5h-1.36zM675.7 976h2.71v5h-2.71zM679.7 976h1.36v5h-1.36zM888.5 976h1.36v5h-1.36zM974.0 976h1.36v5h-1.36zM1223.4 976h1.36v5h-1.36zM1390.2 976h1.36v5h-1.36zM1563.7 976h1.36v5h-1.36zM1628.8 976h1.36v5h-1.36zM1745.4 976h1.36v5h-1.36zM1748.1 976h2.71v5h-2.71zM309.6 956h2.71v5h-2.71zM658.1 956h1.36v5h-1.36zM738.0 956h1.36v5h-1.36zM870.9 956h1.36v5h-1.36zM873.6 956h1.36v5h-1.36zM941.4 956h1.36v5h-1.36zM1184.1 956h2.71v5h-2.71zM1543.4 956h2.71v5h-2.71zM309.6 961h2.71v5h-2.71zM313.7 961h2.71v5h-2.71zM873.6 961h1.36v5h-1.36zM941.4 961h1.36v5h-1.36zM971.2 961h1.36v5h-1.36zM1066.2 961h1.36v5h-1.36zM1184.1 961h2.71v5h-2.71zM1189.5 961h1.36v5h-1.36zM1543.4 961h2.71v5h-2.71zM317.7 966h1.36v5h-1.36zM427.6 966h1.36v5h-1.36zM1548.8 966h1.36v5h-1.36zM1809.2 966h2.71v5h-2.71zM317.7 971h1.36v5h-1.36zM675.7 971h2.71v5h-2.71zM744.8 971h2.71v5h-2.71zM974.0 971h1.36v5h-1.36zM1392.9 971h2.71v5h-2.71zM1548.8 971h1.36v5h-1.36zM1563.7 971h1.36v5h-1.36zM1745.4 971h1.36v5h-1.36zM735.3 921h1.36v5h-1.36zM788.2 921h1.36v5h-1.36zM1532.6 921h1.36v5h-1.36zM1726.4 921h1.36v5h-1.36zM422.1 916h1.36v5h-1.36zM980.7 916h1.36v5h-1.36zM480.4 1016h2.71v5h-2.71zM800.4 1016h1.36v5h-1.36zM809.9 1016h1.36v5h-1.36zM903.5 1016h1.36v5h-1.36zM906.2 1016h1.36v5h-1.36zM925.1 1016h2.71v5h-2.71zM1273.6 1016h1.36v5h-1.36zM1628.8 1016h1.36v5h-1.36zM555.0 1086h1.36v5h-1.36zM930.6 1086h1.36v5h-1.36zM1013.3 1086h1.36v5h-1.36zM1075.6 1086h1.36v5h-1.36zM1113.6 1086h1.36v5h-1.36zM1169.2 1086h1.36v5h-1.36zM1344.1 1086h2.71v5h-2.71zM1524.4 1086h1.36v5h-1.36z"/><path fill="#0bbdbd" d="M465.5 1446h5.42v5h-5.42zM1022.8 1446h1.36v5h-1.36zM1161.1 1446h1.36v5h-1.36zM1024.1 1441h1.36v5h-1.36zM1029.5 1441h1.36v5h-1.36zM462.8 1436h1.36v5h-1.36zM468.2 1436h1.36v5h-1.36zM1025.5 1436h1.36v5h-1.36zM469.6 1426h1.36v5h-1.36zM447.9 1421h1.36v5h-1.36zM461.5 1421h1.36v5h-1.36zM1162.4 1421h1.36v5h-1.36zM1026.8 1431h2.71v5h-2.71zM479.1 1491h1.36v5h-1.36zM1010.6 1491h2.71v5h-2.71zM1619.3 1486h1.36v5h-1.36zM1009.2 1476h1.36v5h-1.36zM1020.1 1496h1.36v5h-1.36zM1165.1 1496h1.36v5h-1.36zM1121.7 1501h1.36v5h-1.36zM1163.8 1501h1.36v5h-1.36zM477.7 1531h1.36v5h-1.36zM567.2 1531h1.36v5h-1.36zM571.3 1531h1.36v5h-1.36zM662.1 1531h1.36v5h-1.36zM664.8 1531h1.36v5h-1.36zM1131.2 1531h12.20v5h-12.20zM1144.8 1531h1.36v5h-1.36zM1010.6 1526h1.36v5h-1.36zM1128.5 1526h2.71v5h-2.71zM1146.2 1526h2.71v5h-2.71zM561.8 1521h2.71v5h-2.71zM1011.9 1521h1.36v5h-1.36zM1035.0 1521h1.36v5h-1.36zM1125.8 1521h2.71v5h-2.71zM1158.4 1521h1.36v5h-1.36zM563.1 1516h1.36v5h-1.36zM565.9 1516h1.36v5h-1.36zM1013.3 1516h2.71v5h-2.71zM1026.8 1516h8.13v5h-8.13zM1124.5 1516h1.36v5h-1.36zM1148.9 1516h1.36v5h-1.36zM1155.6 1516h2.71v5h-2.71zM1159.7 1516h2.71v5h-2.71zM559.1 1511h1.36v5h-1.36zM564.5 1511h2.71v5h-2.71zM572.6 1511h1.36v5h-1.36zM1016.0 1511h2.71v5h-2.71zM1025.5 1511h1.36v5h-1.36zM1037.7 1511h2.71v5h-2.71zM1123.1 1511h1.36v5h-1.36zM1150.2 1511h5.42v5h-5.42zM1161.1 1511h1.36v5h-1.36zM1018.7 1506h6.78v5h-6.78zM1121.7 1506h1.36v5h-1.36zM1162.4 1506h2.71v5h-2.71zM1009.2 1536h1.36v5h-1.36zM1143.4 1536h1.36v5h-1.36zM472.3 1561h2.71v5h-2.71zM652.6 1566h1.36v5h-1.36zM1607.1 1566h1.36v5h-1.36zM649.9 1571h2.71v5h-2.71zM651.3 1576h1.36v5h-1.36zM900.7 1586h1.36v5h-1.36zM1163.8 1586h2.71v5h-2.71zM1599.0 1586h1.36v5h-1.36zM1007.9 1591h1.36v5h-1.36zM1007.9 1596h1.36v5h-1.36zM1799.7 1596h1.36v5h-1.36zM662.1 1556h1.36v5h-1.36zM1007.9 1556h1.36v5h-1.36zM479.1 1551h1.36v5h-1.36zM1009.2 1546h1.36v5h-1.36zM568.6 1541h2.71v5h-2.71zM1159.7 1386h1.36v5h-1.36zM270.3 1381h2.71v5h-2.71zM452.0 1381h2.71v5h-2.71zM469.6 1381h1.36v5h-1.36zM447.9 1391h1.36v5h-1.36zM473.7 1391h1.36v5h-1.36zM1163.8 1391h2.71v5h-2.71zM892.6 1396h1.36v5h-1.36zM449.3 1411h2.71v5h-2.71zM1009.2 1461h1.36v5h-1.36zM470.9 1416h1.36v5h-1.36zM651.3 1466h1.36v5h-1.36zM472.3 1401h2.71v5h-2.71zM1013.3 1611h2.71v5h-2.71zM1616.6 1611h2.71v5h-2.71zM1016.0 1616h2.71v5h-2.71zM1131.2 1616h1.36v5h-1.36zM1032.3 1606h2.71v5h-2.71zM1140.7 1606h4.07v5h-4.07zM1162.4 1606h1.36v5h-1.36zM1018.7 1621h1.36v5h-1.36zM1123.1 1621h1.36v5h-1.36zM1127.2 1621h4.07v5h-4.07zM1132.6 1621h1.36v5h-1.36zM1520.4 1621h1.36v5h-1.36zM1608.5 1621h2.71v5h-2.71zM1020.1 1626h1.36v5h-1.36zM1124.5 1626h2.71v5h-2.71zM1133.9 1626h1.36v5h-1.36zM1509.5 1626h1.36v5h-1.36zM1792.9 1626h1.36v5h-1.36zM659.4 1636h1.36v5h-1.36zM1021.4 1636h1.36v5h-1.36zM1040.4 1636h1.36v5h-1.36zM1135.3 1636h2.71v5h-2.71zM1152.9 1636h2.71v5h-2.71zM1169.2 1636h1.36v5h-1.36zM1510.9 1636h1.36v5h-1.36zM1615.3 1636h1.36v5h-1.36zM1022.8 1641h2.71v5h-2.71zM1028.2 1641h1.36v5h-1.36zM1039.0 1641h1.36v5h-1.36zM1150.2 1641h2.71v5h-2.71zM1155.6 1641h1.36v5h-1.36zM1609.8 1641h1.36v5h-1.36zM1024.1 1646h4.07v5h-4.07zM1029.5 1646h1.36v5h-1.36zM1039.0 1646h1.36v5h-1.36zM1138.0 1646h1.36v5h-1.36zM1150.2 1646h1.36v5h-1.36zM1157.0 1646h2.71v5h-2.71zM1030.9 1651h1.36v5h-1.36zM1037.7 1651h2.71v5h-2.71zM1139.4 1651h1.36v5h-1.36zM1148.9 1651h1.36v5h-1.36zM1159.7 1651h2.71v5h-2.71zM1167.8 1651h1.36v5h-1.36zM1612.6 1651h5.42v5h-5.42zM1794.2 1651h1.36v5h-1.36zM1139.4 1656h1.36v5h-1.36zM1147.5 1656h1.36v5h-1.36zM1162.4 1656h5.42v5h-5.42zM1516.3 1656h1.36v5h-1.36zM1140.7 1661h6.78v5h-6.78zM1165.1 1661h1.36v5h-1.36zM1512.2 1661h2.71v5h-2.71zM1516.3 1661h1.36v5h-1.36zM658.1 1711h1.36v5h-1.36zM648.6 1716h1.36v5h-1.36zM563.1 1706h1.36v5h-1.36zM659.4 1706h2.71v5h-2.71zM1013.3 1701h1.36v5h-1.36zM648.6 1696h1.36v5h-1.36zM663.5 1696h1.36v5h-1.36zM561.8 1691h2.71v5h-2.71zM1124.5 1691h1.36v5h-1.36zM1597.6 1691h1.36v5h-1.36zM647.2 1686h1.36v5h-1.36zM1010.6 1686h2.71v5h-2.71zM1036.3 1686h1.36v5h-1.36zM1150.2 1686h1.36v5h-1.36zM1514.9 1686h2.71v5h-2.71zM1594.9 1686h2.71v5h-2.71zM1599.0 1686h1.36v5h-1.36zM1512.2 1681h2.71v5h-2.71zM1516.3 1681h1.36v5h-1.36zM1594.9 1681h1.36v5h-1.36zM1600.4 1681h1.36v5h-1.36zM552.3 1676h1.36v5h-1.36zM647.2 1676h1.36v5h-1.36zM1009.2 1676h1.36v5h-1.36zM1516.3 1676h1.36v5h-1.36zM1037.7 1671h2.71v5h-2.71zM1124.5 1671h1.36v5h-1.36zM1152.9 1671h2.71v5h-2.71zM1143.4 1666h1.36v5h-1.36zM1131.2 1756h1.36v5h-1.36zM651.3 1771h1.36v5h-1.36zM670.3 1771h1.36v5h-1.36zM1035.0 1771h1.36v5h-1.36zM941.4 1776h1.36v5h-1.36zM1035.0 1776h1.36v5h-1.36zM1055.3 1776h1.36v5h-1.36zM1262.8 1776h2.71v5h-2.71zM955.0 1781h2.71v5h-2.71zM1035.0 1781h1.36v5h-1.36zM1249.2 1781h2.71v5h-2.71zM941.4 1786h1.36v5h-1.36zM1054.0 1786h2.71v5h-2.71zM1520.4 1786h2.71v5h-2.71zM1036.3 1791h1.36v5h-1.36zM1251.9 1791h2.71v5h-2.71zM1520.4 1791h2.71v5h-2.71zM1037.7 1796h1.36v5h-1.36zM1517.6 1796h1.36v5h-1.36zM1033.6 1601h1.36v5h-1.36zM1041.8 1601h1.36v5h-1.36zM1162.4 1761h1.36v5h-1.36zM1132.6 1741h2.71v5h-2.71zM649.9 1736h2.71v5h-2.71zM1508.2 1356h1.36v5h-1.36zM1504.1 1351h1.36v5h-1.36zM1809.2 1346h1.36v5h-1.36zM347.6 1341h1.36v5h-1.36zM1514.9 1341h1.36v5h-1.36zM1519.0 1341h1.36v5h-1.36zM347.6 1336h1.36v5h-1.36zM1350.9 1281h1.36v5h-1.36zM461.5 1276h2.71v5h-2.71zM1346.8 1276h1.36v5h-1.36zM736.7 1271h1.36v5h-1.36zM757.0 1271h1.36v5h-1.36zM1798.3 1271h1.36v5h-1.36zM654.0 1266h2.71v5h-2.71zM758.4 1266h1.36v5h-1.36zM761.1 1266h1.36v5h-1.36zM621.4 1261h1.36v5h-1.36zM704.1 1261h1.36v5h-1.36zM738.0 1261h1.36v5h-1.36zM759.7 1261h2.71v5h-2.71zM1293.9 1321h2.71v5h-2.71zM748.9 1316h1.36v5h-1.36zM1293.9 1316h2.71v5h-2.71zM1517.6 1311h1.36v5h-1.36zM739.4 1251h1.36v5h-1.36zM746.2 1206h2.71v5h-2.71zM885.8 1206h2.71v5h-2.71zM746.2 1211h2.71v5h-2.71zM923.8 1211h1.36v5h-1.36zM502.1 1226h1.36v5h-1.36zM510.3 1226h1.36v5h-1.36zM529.2 1226h1.36v5h-1.36zM541.4 1226h1.36v5h-1.36zM591.6 1226h1.36v5h-1.36zM601.1 1226h1.36v5h-1.36zM603.8 1226h1.36v5h-1.36zM496.7 1221h1.36v5h-1.36zM500.8 1221h2.71v5h-2.71zM510.3 1221h1.36v5h-1.36zM517.0 1221h1.36v5h-1.36zM527.9 1221h4.07v5h-4.07zM533.3 1221h2.71v5h-2.71zM541.4 1221h1.36v5h-1.36zM591.6 1221h1.36v5h-1.36zM595.7 1221h1.36v5h-1.36zM603.8 1221h2.71v5h-2.71zM616.0 1221h1.36v5h-1.36zM626.9 1221h2.71v5h-2.71zM917.0 1221h1.36v5h-1.36zM921.1 1221h1.36v5h-1.36zM533.3 1216h1.36v5h-1.36zM614.7 1216h1.36v5h-1.36zM620.1 1216h1.36v5h-1.36zM746.2 1216h2.71v5h-2.71zM875.0 1216h1.36v5h-1.36zM921.1 1216h1.36v5h-1.36zM986.2 1306h1.36v5h-1.36zM1428.2 1306h1.36v5h-1.36zM758.4 1296h2.71v5h-2.71zM885.8 1201h2.71v5h-2.71zM986.2 1301h1.36v5h-1.36zM1422.7 1301h1.36v5h-1.36zM1425.5 1291h2.71v5h-2.71zM1809.2 1256h1.36v5h-1.36zM1618.0 1196h1.36v5h-1.36zM1349.5 1286h2.71v5h-2.71zM327.2 521h4.07v5h-4.07zM332.7 521h1.36v5h-1.36zM289.3 551h1.36v5h-1.36zM289.3 546h1.36v5h-1.36zM285.2 541h1.36v5h-1.36zM308.2 541h1.36v5h-1.36zM297.4 531h5.42v5h-5.42zM312.3 531h1.36v5h-1.36zM315.0 531h4.07v5h-4.07zM320.4 531h1.36v5h-1.36zM266.2 536h1.36v5h-1.36zM297.4 536h1.36v5h-1.36zM311.0 536h1.36v5h-1.36zM207.9 556h1.36v5h-1.36zM203.8 561h2.71v5h-2.71zM213.3 561h1.36v5h-1.36zM302.8 526h2.71v5h-2.71zM321.8 526h2.71v5h-2.71zM198.4 571h1.36v5h-1.36zM214.7 571h1.36v5h-1.36zM696.0 571h1.36v5h-1.36zM698.7 571h1.36v5h-1.36zM710.9 571h1.36v5h-1.36zM715.0 571h1.36v5h-1.36zM831.6 571h1.36v5h-1.36zM845.2 571h1.36v5h-1.36zM850.6 571h1.36v5h-1.36zM202.5 566h1.36v5h-1.36zM710.9 566h1.36v5h-1.36zM715.0 566h1.36v5h-1.36zM717.7 566h1.36v5h-1.36zM721.8 566h1.36v5h-1.36zM845.2 566h1.36v5h-1.36zM206.6 611h2.71v5h-2.71zM252.7 611h2.71v5h-2.71zM315.0 611h2.71v5h-2.71zM518.4 611h1.36v5h-1.36zM527.9 611h6.78v5h-6.78zM315.0 606h2.71v5h-2.71zM327.2 601h1.36v5h-1.36zM198.4 671h4.07v5h-4.07zM209.3 671h2.71v5h-2.71zM323.2 671h1.36v5h-1.36zM199.8 666h5.42v5h-5.42zM206.6 666h1.36v5h-1.36zM214.7 666h1.36v5h-1.36zM323.2 666h1.36v5h-1.36zM378.7 666h1.36v5h-1.36zM213.3 661h1.36v5h-1.36zM217.4 661h1.36v5h-1.36zM362.5 661h6.78v5h-6.78zM231.0 696h1.36v5h-1.36zM277.1 651h1.36v5h-1.36zM354.3 651h4.07v5h-4.07zM213.3 656h1.36v5h-1.36zM277.1 656h1.36v5h-1.36zM359.8 656h1.36v5h-1.36zM369.3 656h1.36v5h-1.36zM374.7 656h1.36v5h-1.36zM206.6 616h2.71v5h-2.71zM252.7 616h2.71v5h-2.71zM525.2 616h2.71v5h-2.71zM529.2 616h1.36v5h-1.36zM521.1 626h5.42v5h-5.42zM525.2 621h1.36v5h-1.36zM527.9 621h1.36v5h-1.36zM525.2 631h2.71v5h-2.71zM245.9 636h2.71v5h-2.71zM527.9 636h2.71v5h-2.71zM304.2 726h1.36v5h-1.36zM304.2 721h1.36v5h-1.36zM313.7 716h1.36v5h-1.36zM235.0 691h1.36v5h-1.36zM237.7 691h1.36v5h-1.36zM850.6 891h2.71v5h-2.71zM856.0 891h1.36v5h-1.36zM843.8 896h1.36v5h-1.36zM850.6 896h2.71v5h-2.71zM856.0 896h1.36v5h-1.36zM862.8 896h1.36v5h-1.36zM866.8 896h1.36v5h-1.36zM870.9 896h1.36v5h-1.36zM1213.9 1036h1.36v5h-1.36zM1074.3 1046h1.36v5h-1.36zM1077.0 1046h1.36v5h-1.36zM683.8 1056h1.36v5h-1.36zM716.4 1056h4.07v5h-4.07zM731.3 1056h1.36v5h-1.36zM1055.3 1056h1.36v5h-1.36zM1100.1 1056h1.36v5h-1.36zM1449.9 1056h1.36v5h-1.36zM1479.7 1056h2.71v5h-2.71zM1486.5 1056h2.71v5h-2.71zM1531.2 1056h1.36v5h-1.36zM1533.9 1056h2.71v5h-2.71zM1539.3 1056h1.36v5h-1.36zM1542.1 1056h1.36v5h-1.36zM1550.2 1056h1.36v5h-1.36zM1566.5 1056h1.36v5h-1.36zM1577.3 1056h1.36v5h-1.36zM1100.1 1061h1.36v5h-1.36zM1449.9 1061h1.36v5h-1.36zM1486.5 1061h1.36v5h-1.36zM460.1 1101h1.36v5h-1.36zM1077.0 1101h1.36v5h-1.36zM1083.8 1101h1.36v5h-1.36zM602.5 1106h1.36v5h-1.36zM606.5 1106h1.36v5h-1.36zM621.4 1106h2.71v5h-2.71zM1062.1 1106h1.36v5h-1.36zM1071.6 1106h1.36v5h-1.36zM1083.8 1106h1.36v5h-1.36zM1091.9 1106h1.36v5h-1.36zM1360.4 1106h1.36v5h-1.36zM1394.3 1106h1.36v5h-1.36zM1458.0 1106h1.36v5h-1.36zM1460.7 1106h1.36v5h-1.36zM1464.8 1106h1.36v5h-1.36zM1467.5 1106h1.36v5h-1.36zM1471.6 1106h2.71v5h-2.71zM1540.7 1106h2.71v5h-2.71zM601.1 1051h1.36v5h-1.36zM609.2 1051h1.36v5h-1.36zM618.7 1051h2.71v5h-2.71zM689.2 1051h1.36v5h-1.36zM697.4 1051h1.36v5h-1.36zM700.1 1051h2.71v5h-2.71zM705.5 1051h1.36v5h-1.36zM716.4 1051h4.07v5h-4.07zM723.1 1051h1.36v5h-1.36zM727.2 1051h1.36v5h-1.36zM731.3 1051h1.36v5h-1.36zM1071.6 1051h1.36v5h-1.36zM1077.0 1051h1.36v5h-1.36zM1455.3 1051h1.36v5h-1.36zM1462.1 1051h1.36v5h-1.36zM1479.7 1051h2.71v5h-2.71zM1539.3 1051h4.07v5h-4.07zM1547.5 1051h1.36v5h-1.36zM1550.2 1051h2.71v5h-2.71zM1555.6 1051h1.36v5h-1.36zM1562.4 1051h2.71v5h-2.71zM1566.5 1051h1.36v5h-1.36zM1188.2 1031h1.36v5h-1.36zM1196.3 1031h1.36v5h-1.36zM1201.7 1031h1.36v5h-1.36zM1204.5 1031h1.36v5h-1.36zM1207.2 1031h4.07v5h-4.07zM1218.0 1031h1.36v5h-1.36zM1222.1 1031h2.71v5h-2.71zM1235.6 1031h1.36v5h-1.36zM1241.1 1031h1.36v5h-1.36zM1243.8 1031h4.07v5h-4.07zM1249.2 1031h2.71v5h-2.71zM1269.5 1031h2.71v5h-2.71zM1273.6 1031h6.78v5h-6.78zM1298.0 1031h1.36v5h-1.36zM1300.7 1031h4.07v5h-4.07zM1308.9 1031h2.71v5h-2.71zM1199.0 1026h2.71v5h-2.71zM1228.9 1026h2.71v5h-2.71zM1254.6 1026h2.71v5h-2.71zM1262.8 1026h4.07v5h-4.07zM1268.2 1026h1.36v5h-1.36zM1315.6 1026h1.36v5h-1.36zM1318.3 1026h1.36v5h-1.36zM1258.7 1021h1.36v5h-1.36zM590.3 1111h1.36v5h-1.36zM593.0 1111h2.71v5h-2.71zM602.5 1111h1.36v5h-1.36zM606.5 1111h1.36v5h-1.36zM621.4 1111h2.71v5h-2.71zM1056.7 1111h2.71v5h-2.71zM1071.6 1111h1.36v5h-1.36zM1361.7 1111h4.07v5h-4.07zM1392.9 1111h1.36v5h-1.36zM1448.5 1111h1.36v5h-1.36zM1455.3 1111h1.36v5h-1.36zM1467.5 1111h1.36v5h-1.36zM1471.6 1111h1.36v5h-1.36zM1485.1 1111h1.36v5h-1.36zM1538.0 1111h1.36v5h-1.36zM1542.1 1111h1.36v5h-1.36zM1569.2 1111h1.36v5h-1.36zM1571.9 1111h2.71v5h-2.71zM393.7 1116h1.36v5h-1.36zM593.0 1116h1.36v5h-1.36zM819.4 1116h2.71v5h-2.71zM1365.8 1116h1.36v5h-1.36zM1485.1 1116h1.36v5h-1.36zM1571.9 1116h1.36v5h-1.36zM1707.5 1116h1.36v5h-1.36zM393.7 1121h1.36v5h-1.36zM397.7 1121h1.36v5h-1.36zM823.5 1121h1.36v5h-1.36zM967.2 1121h1.36v5h-1.36zM1369.9 1121h1.36v5h-1.36zM1384.8 1121h1.36v5h-1.36zM1707.5 1121h1.36v5h-1.36zM397.7 1126h1.36v5h-1.36zM683.8 1126h1.36v5h-1.36zM823.5 1126h1.36v5h-1.36zM1220.7 1126h2.71v5h-2.71zM1372.6 1126h1.36v5h-1.36zM1380.7 1126h2.71v5h-2.71zM1707.5 1126h1.36v5h-1.36zM433.0 1131h1.36v5h-1.36zM1376.6 1131h4.07v5h-4.07zM1703.4 1131h1.36v5h-1.36zM433.0 1136h1.36v5h-1.36zM1375.3 1136h1.36v5h-1.36zM1380.7 1136h4.07v5h-4.07zM1703.4 1136h1.36v5h-1.36zM1782.0 1136h1.36v5h-1.36zM405.9 1141h1.36v5h-1.36zM1369.9 1141h2.71v5h-2.71zM1384.8 1141h1.36v5h-1.36zM1387.5 1141h1.36v5h-1.36zM1505.4 1141h1.36v5h-1.36zM1666.8 1141h2.71v5h-2.71zM1782.0 1141h1.36v5h-1.36zM405.9 1146h1.36v5h-1.36zM624.2 1146h1.36v5h-1.36zM1086.5 1146h1.36v5h-1.36zM1363.1 1146h2.71v5h-2.71zM1388.8 1146h2.71v5h-2.71zM1403.8 1146h1.36v5h-1.36zM1558.3 1146h1.36v5h-1.36zM1666.8 1146h2.71v5h-2.71zM1782.0 1146h1.36v5h-1.36zM395.0 1151h1.36v5h-1.36zM1360.4 1151h1.36v5h-1.36zM1394.3 1151h1.36v5h-1.36zM1558.3 1151h1.36v5h-1.36zM1815.9 1151h2.71v5h-2.71zM697.4 1191h1.36v5h-1.36zM1618.0 1191h1.36v5h-1.36zM529.2 1186h1.36v5h-1.36zM697.4 1186h1.36v5h-1.36zM1162.4 1186h1.36v5h-1.36zM1166.5 1186h1.36v5h-1.36zM1618.0 1186h1.36v5h-1.36zM373.3 1181h2.71v5h-2.71zM637.7 1181h1.36v5h-1.36zM1071.6 1181h1.36v5h-1.36zM1158.4 1181h1.36v5h-1.36zM1162.4 1181h1.36v5h-1.36zM210.6 796h1.36v5h-1.36zM210.6 791h1.36v5h-1.36zM850.6 831h4.07v5h-4.07zM895.3 831h1.36v5h-1.36zM856.0 826h1.36v5h-1.36zM891.3 826h2.71v5h-2.71zM861.4 821h1.36v5h-1.36zM864.1 821h2.71v5h-2.71zM868.2 821h1.36v5h-1.36zM880.4 821h2.71v5h-2.71zM884.5 821h1.36v5h-1.36zM887.2 821h4.07v5h-4.07zM870.9 816h2.71v5h-2.71zM877.7 816h2.71v5h-2.71zM898.0 836h1.36v5h-1.36zM521.1 1171h2.71v5h-2.71zM530.6 1171h1.36v5h-1.36zM552.3 1171h2.71v5h-2.71zM584.8 1171h1.36v5h-1.36zM593.0 1171h1.36v5h-1.36zM613.3 1171h1.36v5h-1.36zM618.7 1171h1.36v5h-1.36zM622.8 1171h1.36v5h-1.36zM625.5 1171h1.36v5h-1.36zM628.2 1171h1.36v5h-1.36zM659.4 1171h2.71v5h-2.71zM1058.0 1171h1.36v5h-1.36zM1067.5 1171h1.36v5h-1.36zM1094.6 1171h1.36v5h-1.36zM1100.1 1171h1.36v5h-1.36zM1154.3 1171h1.36v5h-1.36zM1448.5 1171h1.36v5h-1.36zM1451.2 1171h1.36v5h-1.36zM1458.0 1171h1.36v5h-1.36zM1532.6 1171h2.71v5h-2.71zM1552.9 1171h1.36v5h-1.36zM1575.9 1171h1.36v5h-1.36zM373.3 1176h2.71v5h-2.71zM552.3 1176h2.71v5h-2.71zM584.8 1176h1.36v5h-1.36zM1158.4 1176h1.36v5h-1.36zM1448.5 1176h1.36v5h-1.36zM1451.2 1176h1.36v5h-1.36zM1532.6 1176h1.36v5h-1.36zM500.8 1166h1.36v5h-1.36zM507.6 1166h1.36v5h-1.36zM514.3 1166h1.36v5h-1.36zM521.1 1166h2.71v5h-2.71zM530.6 1166h1.36v5h-1.36zM538.7 1166h1.36v5h-1.36zM542.8 1166h1.36v5h-1.36zM550.9 1166h1.36v5h-1.36zM593.0 1166h2.71v5h-2.71zM602.5 1166h1.36v5h-1.36zM610.6 1166h1.36v5h-1.36zM613.3 1166h1.36v5h-1.36zM618.7 1166h1.36v5h-1.36zM621.4 1166h2.71v5h-2.71zM625.5 1166h1.36v5h-1.36zM628.2 1166h1.36v5h-1.36zM630.9 1166h1.36v5h-1.36zM659.4 1166h1.36v5h-1.36zM1058.0 1166h1.36v5h-1.36zM1063.4 1166h1.36v5h-1.36zM1067.5 1166h1.36v5h-1.36zM1075.6 1166h1.36v5h-1.36zM1083.8 1166h2.71v5h-2.71zM1089.2 1166h1.36v5h-1.36zM1093.3 1166h2.71v5h-2.71zM1100.1 1166h1.36v5h-1.36zM1150.2 1166h1.36v5h-1.36zM1458.0 1166h1.36v5h-1.36zM1463.4 1166h2.71v5h-2.71zM1479.7 1166h1.36v5h-1.36zM1536.6 1166h1.36v5h-1.36zM1543.4 1166h1.36v5h-1.36zM1552.9 1166h1.36v5h-1.36zM1566.5 1166h1.36v5h-1.36zM1569.2 1166h1.36v5h-1.36zM1712.9 1166h1.36v5h-1.36zM1744.1 1166h2.71v5h-2.71zM843.8 901h1.36v5h-1.36zM1075.6 1161h1.36v5h-1.36zM1083.8 1161h4.07v5h-4.07zM1353.6 1161h2.71v5h-2.71zM1681.7 1161h1.36v5h-1.36zM1745.4 1161h1.36v5h-1.36zM1815.9 1161h2.71v5h-2.71zM850.6 576h1.36v5h-1.36zM205.2 581h1.36v5h-1.36zM259.4 456h2.71v5h-2.71zM205.2 586h1.36v5h-1.36zM235.0 676h1.36v5h-1.36zM237.7 676h1.36v5h-1.36zM323.2 676h1.36v5h-1.36zM235.0 681h1.36v5h-1.36zM237.7 681h1.36v5h-1.36zM296.0 681h1.36v5h-1.36zM237.7 686h1.36v5h-1.36zM298.8 751h2.71v5h-2.71zM262.1 771h1.36v5h-1.36zM264.9 766h2.71v5h-2.71zM266.2 761h4.07v5h-4.07zM267.6 756h2.71v5h-2.71zM260.8 776h1.36v5h-1.36zM584.8 1156h1.36v5h-1.36zM1815.9 1156h2.71v5h-2.71z"/><path fill="#19bfb6" d="M217.4 511h1.36v5h-1.36zM214.7 506h1.36v5h-1.36zM207.9 501h4.07v5h-4.07zM203.8 496h1.36v5h-1.36zM207.9 496h2.71v5h-2.71zM203.8 491h1.36v5h-1.36zM247.2 571h1.36v5h-1.36zM247.2 566h1.36v5h-1.36zM271.6 886h1.36v5h-1.36zM434.3 886h2.71v5h-2.71zM814.0 886h1.36v5h-1.36zM1486.5 886h1.36v5h-1.36zM1624.8 886h1.36v5h-1.36zM271.6 881h1.36v5h-1.36zM1165.1 881h1.36v5h-1.36zM1478.3 881h1.36v5h-1.36zM1481.0 881h1.36v5h-1.36zM1637.0 881h1.36v5h-1.36zM700.1 876h1.36v5h-1.36zM914.3 876h1.36v5h-1.36zM1062.1 876h2.71v5h-2.71zM1481.0 876h1.36v5h-1.36zM1041.8 871h1.36v5h-1.36zM1062.1 871h2.71v5h-2.71zM1767.1 871h1.36v5h-1.36zM296.0 861h1.36v5h-1.36zM658.1 861h1.36v5h-1.36zM1071.6 861h1.36v5h-1.36zM1429.5 861h1.36v5h-1.36zM1489.2 861h1.36v5h-1.36zM1569.2 861h1.36v5h-1.36zM198.4 866h1.36v5h-1.36zM658.1 866h1.36v5h-1.36zM1041.8 866h1.36v5h-1.36zM1569.2 866h1.36v5h-1.36zM816.7 891h1.36v5h-1.36zM933.3 891h1.36v5h-1.36zM1474.3 891h1.36v5h-1.36zM1624.8 891h1.36v5h-1.36zM510.3 896h1.36v5h-1.36zM816.7 896h1.36v5h-1.36zM820.8 896h1.36v5h-1.36zM933.3 896h1.36v5h-1.36zM1624.8 896h1.36v5h-1.36zM495.4 1036h1.36v5h-1.36zM1599.0 1036h1.36v5h-1.36zM1657.3 1036h1.36v5h-1.36zM1753.6 1036h1.36v5h-1.36zM1757.6 1036h1.36v5h-1.36zM1025.5 1041h1.36v5h-1.36zM1485.1 1041h1.36v5h-1.36zM1578.7 1041h1.36v5h-1.36zM1601.7 1041h1.36v5h-1.36zM449.3 1046h2.71v5h-2.71zM453.3 1046h1.36v5h-1.36zM960.4 1046h1.36v5h-1.36zM1025.5 1046h1.36v5h-1.36zM1485.1 1046h1.36v5h-1.36zM461.5 1056h1.36v5h-1.36zM491.3 1056h1.36v5h-1.36zM494.0 1056h1.36v5h-1.36zM496.7 1056h1.36v5h-1.36zM499.4 1056h1.36v5h-1.36zM579.4 1056h1.36v5h-1.36zM898.0 1056h1.36v5h-1.36zM1072.9 1056h1.36v5h-1.36zM1105.5 1056h1.36v5h-1.36zM1388.8 1056h1.36v5h-1.36zM1634.3 1056h2.71v5h-2.71zM491.3 1061h1.36v5h-1.36zM499.4 1061h1.36v5h-1.36zM502.1 1061h1.36v5h-1.36zM898.0 1061h1.36v5h-1.36zM900.7 1061h1.36v5h-1.36zM401.8 1071h1.36v5h-1.36zM487.2 1071h1.36v5h-1.36zM1382.1 1071h1.36v5h-1.36zM1680.3 1071h1.36v5h-1.36zM401.8 1076h1.36v5h-1.36zM483.1 1076h2.71v5h-2.71zM1167.8 1076h2.71v5h-2.71zM1218.0 1076h1.36v5h-1.36zM1410.5 1076h1.36v5h-1.36zM1680.3 1076h1.36v5h-1.36zM480.4 1081h1.36v5h-1.36zM561.8 1081h1.36v5h-1.36zM681.1 1081h1.36v5h-1.36zM700.1 1081h1.36v5h-1.36zM1215.3 1081h4.07v5h-4.07zM1416.0 1081h1.36v5h-1.36zM830.2 1091h1.36v5h-1.36zM1211.2 1091h1.36v5h-1.36zM1213.9 1091h1.36v5h-1.36zM1338.7 1091h2.71v5h-2.71zM1342.7 1091h1.36v5h-1.36zM1338.7 1096h2.71v5h-2.71zM449.3 1051h2.71v5h-2.71zM457.4 1051h1.36v5h-1.36zM461.5 1051h1.36v5h-1.36zM491.3 1051h1.36v5h-1.36zM494.0 1051h1.36v5h-1.36zM891.3 1051h1.36v5h-1.36zM1105.5 1051h1.36v5h-1.36zM391.0 1031h2.71v5h-2.71zM395.0 1031h2.71v5h-2.71zM1045.8 1031h1.36v5h-1.36zM1494.6 1031h1.36v5h-1.36zM1596.3 1031h1.36v5h-1.36zM1802.4 1031h1.36v5h-1.36zM391.0 1026h2.71v5h-2.71zM508.9 1026h1.36v5h-1.36zM1174.6 1026h2.71v5h-2.71zM1594.9 1026h1.36v5h-1.36zM1802.4 1026h1.36v5h-1.36zM388.2 1021h1.36v5h-1.36zM465.5 1021h1.36v5h-1.36zM530.6 1021h1.36v5h-1.36zM1171.9 1021h1.36v5h-1.36zM1174.6 1021h2.71v5h-2.71zM1477.0 1021h1.36v5h-1.36zM1569.2 1021h1.36v5h-1.36zM1592.2 1021h1.36v5h-1.36zM1719.7 1021h1.36v5h-1.36zM1161.1 801h2.71v5h-2.71zM442.5 831h2.71v5h-2.71zM542.8 831h1.36v5h-1.36zM891.3 831h2.71v5h-2.71zM1350.9 831h1.36v5h-1.36zM1514.9 831h1.36v5h-1.36zM1721.0 831h2.71v5h-2.71zM546.9 826h4.07v5h-4.07zM729.9 826h1.36v5h-1.36zM732.6 826h1.36v5h-1.36zM1350.9 826h1.36v5h-1.36zM1725.1 826h2.71v5h-2.71zM488.6 821h1.36v5h-1.36zM491.3 821h1.36v5h-1.36zM549.6 821h1.36v5h-1.36zM732.6 821h1.36v5h-1.36zM1729.2 821h1.36v5h-1.36zM491.3 816h1.36v5h-1.36zM553.7 816h2.71v5h-2.71zM735.3 816h2.71v5h-2.71zM884.5 816h2.71v5h-2.71zM1600.4 816h1.36v5h-1.36zM442.5 836h2.71v5h-2.71zM1197.7 841h2.71v5h-2.71zM1603.1 841h1.36v5h-1.36zM612.0 846h1.36v5h-1.36zM1197.7 846h2.71v5h-2.71zM1391.6 846h1.36v5h-1.36zM1806.4 846h1.36v5h-1.36zM357.1 996h1.36v5h-1.36zM361.1 996h1.36v5h-1.36zM480.4 996h1.36v5h-1.36zM776.0 996h1.36v5h-1.36zM1022.8 996h2.71v5h-2.71zM1449.9 996h1.36v5h-1.36zM1687.1 996h1.36v5h-1.36zM1691.2 996h1.36v5h-1.36zM353.0 1001h2.71v5h-2.71zM357.1 1001h1.36v5h-1.36zM361.1 1001h1.36v5h-1.36zM480.4 1001h1.36v5h-1.36zM574.0 1001h1.36v5h-1.36zM776.0 1001h1.36v5h-1.36zM1363.1 1001h1.36v5h-1.36zM1691.2 1001h1.36v5h-1.36zM926.5 1006h1.36v5h-1.36zM1041.8 1006h1.36v5h-1.36zM1363.1 1006h1.36v5h-1.36zM1658.7 1006h2.71v5h-2.71zM1679.0 1006h1.36v5h-1.36zM511.6 901h1.36v5h-1.36zM885.8 901h1.36v5h-1.36zM270.3 946h1.36v5h-1.36zM834.3 946h2.71v5h-2.71zM998.4 946h1.36v5h-1.36zM1231.6 946h1.36v5h-1.36zM1258.7 946h2.71v5h-2.71zM1674.9 946h1.36v5h-1.36zM834.3 951h2.71v5h-2.71zM998.4 951h1.36v5h-1.36zM1260.0 951h1.36v5h-1.36zM1262.8 951h1.36v5h-1.36zM1670.9 951h1.36v5h-1.36zM270.3 941h1.36v5h-1.36zM740.8 941h1.36v5h-1.36zM982.1 941h1.36v5h-1.36zM1037.7 941h4.07v5h-4.07zM1043.1 941h4.07v5h-4.07zM1110.9 941h1.36v5h-1.36zM1258.7 941h1.36v5h-1.36zM1680.3 941h1.36v5h-1.36zM312.3 936h1.36v5h-1.36zM575.3 936h1.36v5h-1.36zM740.8 936h1.36v5h-1.36zM982.1 936h1.36v5h-1.36zM1043.1 936h4.07v5h-4.07zM1256.0 936h1.36v5h-1.36zM1665.4 936h1.36v5h-1.36zM1684.4 936h1.36v5h-1.36zM365.2 991h1.36v5h-1.36zM369.3 991h2.71v5h-2.71zM473.7 991h2.71v5h-2.71zM480.4 991h1.36v5h-1.36zM776.0 991h1.36v5h-1.36zM1022.8 991h2.71v5h-2.71zM1487.8 991h1.36v5h-1.36zM1691.2 991h1.36v5h-1.36zM1693.9 991h1.36v5h-1.36zM495.4 806h1.36v5h-1.36zM740.8 806h2.71v5h-2.71zM1148.9 806h1.36v5h-1.36zM492.6 811h1.36v5h-1.36zM738.0 811h1.36v5h-1.36zM198.4 856h1.36v5h-1.36zM296.0 856h1.36v5h-1.36zM575.3 856h1.36v5h-1.36zM668.9 856h1.36v5h-1.36zM1071.6 856h1.36v5h-1.36zM1245.1 856h1.36v5h-1.36zM1489.2 856h1.36v5h-1.36zM1548.8 856h1.36v5h-1.36zM515.7 906h1.36v5h-1.36zM1138.0 906h1.36v5h-1.36zM1181.4 906h1.36v5h-1.36zM1763.1 906h2.71v5h-2.71zM198.4 851h1.36v5h-1.36zM612.0 851h1.36v5h-1.36zM668.9 851h1.36v5h-1.36zM872.3 851h1.36v5h-1.36zM622.8 911h1.36v5h-1.36zM1174.6 911h1.36v5h-1.36zM199.8 981h2.71v5h-2.71zM344.9 981h2.71v5h-2.71zM476.4 981h1.36v5h-1.36zM1016.0 981h1.36v5h-1.36zM1302.1 981h1.36v5h-1.36zM1696.6 981h1.36v5h-1.36zM1699.3 981h1.36v5h-1.36zM1712.9 981h2.71v5h-2.71zM1717.0 981h2.71v5h-2.71zM473.7 986h2.71v5h-2.71zM1018.7 986h1.36v5h-1.36zM1063.4 986h2.71v5h-2.71zM1693.9 986h1.36v5h-1.36zM1696.6 986h1.36v5h-1.36zM668.9 926h1.36v5h-1.36zM815.3 926h1.36v5h-1.36zM221.5 931h1.36v5h-1.36zM815.3 931h1.36v5h-1.36zM1049.9 931h1.36v5h-1.36zM1059.4 931h2.71v5h-2.71zM1485.1 931h2.71v5h-2.71zM1688.5 931h1.36v5h-1.36zM1232.9 1011h1.36v5h-1.36zM1363.1 1011h1.36v5h-1.36zM1569.2 1011h1.36v5h-1.36zM1679.0 1011h1.36v5h-1.36zM199.8 976h2.71v5h-2.71zM647.2 976h1.36v5h-1.36zM1011.9 976h1.36v5h-1.36zM1699.3 976h1.36v5h-1.36zM1708.8 976h2.71v5h-2.71zM1712.9 976h2.71v5h-2.71zM324.5 956h1.36v5h-1.36zM1264.1 956h2.71v5h-2.71zM1369.9 956h1.36v5h-1.36zM1524.4 956h1.36v5h-1.36zM1670.9 956h1.36v5h-1.36zM1763.1 956h1.36v5h-1.36zM377.4 961h1.36v5h-1.36zM678.4 961h2.71v5h-2.71zM795.0 961h1.36v5h-1.36zM1280.4 961h1.36v5h-1.36zM1372.6 961h2.71v5h-2.71zM681.1 966h2.71v5h-2.71zM795.0 966h1.36v5h-1.36zM1021.4 966h1.36v5h-1.36zM1373.9 966h1.36v5h-1.36zM1704.8 966h1.36v5h-1.36zM536.0 971h1.36v5h-1.36zM651.3 971h1.36v5h-1.36zM685.2 971h2.71v5h-2.71zM1021.4 971h1.36v5h-1.36zM1708.8 971h2.71v5h-2.71zM668.9 921h1.36v5h-1.36zM1814.6 921h1.36v5h-1.36zM525.2 916h1.36v5h-1.36zM622.8 916h1.36v5h-1.36zM1174.6 916h1.36v5h-1.36zM470.9 1016h1.36v5h-1.36zM1171.9 1016h1.36v5h-1.36zM1232.9 1016h1.36v5h-1.36zM1569.2 1016h1.36v5h-1.36zM681.1 1086h1.36v5h-1.36zM833.0 1086h1.36v5h-1.36zM1213.9 1086h1.36v5h-1.36zM1416.0 1086h1.36v5h-1.36z"/><path fill="#24c1ae" d="M403.2 1371h2.71v5h-2.71zM412.6 1371h2.71v5h-2.71zM462.8 1371h1.36v5h-1.36zM469.6 1371h1.36v5h-1.36zM790.9 1371h1.36v5h-1.36zM929.2 1371h1.36v5h-1.36zM411.3 1366h1.36v5h-1.36zM469.6 1366h1.36v5h-1.36zM625.5 1366h1.36v5h-1.36zM790.9 1366h1.36v5h-1.36zM929.2 1366h1.36v5h-1.36zM408.6 1361h2.71v5h-2.71zM441.1 1356h1.36v5h-1.36zM1723.7 1351h2.71v5h-2.71zM1723.7 1346h2.71v5h-2.71zM1814.6 1346h1.36v5h-1.36zM747.5 1341h2.71v5h-2.71zM1025.5 1341h1.36v5h-1.36zM1726.4 1341h1.36v5h-1.36zM1729.2 1341h2.71v5h-2.71zM460.1 1336h1.36v5h-1.36zM693.3 1336h2.71v5h-2.71zM1022.8 1336h1.36v5h-1.36zM1729.2 1336h2.71v5h-2.71zM1733.2 1336h1.36v5h-1.36zM460.1 1331h1.36v5h-1.36zM807.2 1331h1.36v5h-1.36zM1017.3 1331h1.36v5h-1.36zM1020.1 1331h1.36v5h-1.36zM1733.2 1331h1.36v5h-1.36zM529.2 1281h1.36v5h-1.36zM689.2 1281h1.36v5h-1.36zM572.6 1276h2.71v5h-2.71zM809.9 1276h1.36v5h-1.36zM1398.3 1276h1.36v5h-1.36zM1496.0 1276h1.36v5h-1.36zM1498.7 1276h2.71v5h-2.71zM569.9 1271h2.71v5h-2.71zM649.9 1271h1.36v5h-1.36zM679.7 1271h1.36v5h-1.36zM1496.0 1271h1.36v5h-1.36zM1498.7 1271h1.36v5h-1.36zM1748.1 1271h1.36v5h-1.36zM1761.7 1271h2.71v5h-2.71zM565.9 1266h1.36v5h-1.36zM1409.2 1266h2.71v5h-2.71zM1748.1 1266h1.36v5h-1.36zM561.8 1261h2.71v5h-2.71zM1003.8 1261h1.36v5h-1.36zM1409.2 1261h2.71v5h-2.71zM1662.7 1261h1.36v5h-1.36zM1666.8 1261h1.36v5h-1.36zM1674.9 1261h1.36v5h-1.36zM460.1 1326h1.36v5h-1.36zM1017.3 1326h1.36v5h-1.36zM1490.5 1326h1.36v5h-1.36zM708.2 1321h1.36v5h-1.36zM727.2 1321h1.36v5h-1.36zM1014.6 1321h2.71v5h-2.71zM1490.5 1321h1.36v5h-1.36zM1496.0 1321h1.36v5h-1.36zM727.2 1316h1.36v5h-1.36zM1500.0 1316h1.36v5h-1.36zM946.8 1251h1.36v5h-1.36zM1679.0 1251h2.71v5h-2.71zM437.0 1206h2.71v5h-2.71zM743.5 1206h1.36v5h-1.36zM1380.7 1206h1.36v5h-1.36zM1779.3 1206h2.71v5h-2.71zM437.0 1211h2.71v5h-2.71zM485.9 1211h1.36v5h-1.36zM930.6 1211h1.36v5h-1.36zM1380.7 1211h1.36v5h-1.36zM1773.9 1211h1.36v5h-1.36zM489.9 1226h1.36v5h-1.36zM492.6 1226h1.36v5h-1.36zM498.1 1226h1.36v5h-1.36zM506.2 1226h1.36v5h-1.36zM513.0 1226h1.36v5h-1.36zM519.8 1226h1.36v5h-1.36zM536.0 1226h1.36v5h-1.36zM546.9 1226h1.36v5h-1.36zM552.3 1226h2.71v5h-2.71zM586.2 1226h1.36v5h-1.36zM588.9 1226h2.71v5h-2.71zM593.0 1226h1.36v5h-1.36zM617.4 1226h1.36v5h-1.36zM629.6 1226h1.36v5h-1.36zM1144.8 1226h1.36v5h-1.36zM494.0 1221h1.36v5h-1.36zM498.1 1221h1.36v5h-1.36zM506.2 1221h1.36v5h-1.36zM508.9 1221h1.36v5h-1.36zM513.0 1221h2.71v5h-2.71zM519.8 1221h1.36v5h-1.36zM526.5 1221h1.36v5h-1.36zM536.0 1221h1.36v5h-1.36zM538.7 1221h1.36v5h-1.36zM542.8 1221h1.36v5h-1.36zM545.5 1221h2.71v5h-2.71zM550.9 1221h2.71v5h-2.71zM586.2 1221h1.36v5h-1.36zM590.3 1221h1.36v5h-1.36zM593.0 1221h2.71v5h-2.71zM599.8 1221h1.36v5h-1.36zM612.0 1221h1.36v5h-1.36zM617.4 1221h1.36v5h-1.36zM624.2 1221h2.71v5h-2.71zM629.6 1221h1.36v5h-1.36zM742.1 1221h1.36v5h-1.36zM846.5 1221h1.36v5h-1.36zM489.9 1231h1.36v5h-1.36zM553.7 1231h1.36v5h-1.36zM588.9 1231h1.36v5h-1.36zM662.1 1231h1.36v5h-1.36zM677.0 1231h1.36v5h-1.36zM1131.2 1231h1.36v5h-1.36zM485.9 1216h1.36v5h-1.36zM511.6 1216h1.36v5h-1.36zM514.3 1216h1.36v5h-1.36zM526.5 1216h1.36v5h-1.36zM602.5 1216h1.36v5h-1.36zM609.2 1216h1.36v5h-1.36zM1655.9 1216h1.36v5h-1.36zM1773.9 1216h1.36v5h-1.36zM546.9 1306h1.36v5h-1.36zM971.2 1306h1.36v5h-1.36zM1410.5 1296h1.36v5h-1.36zM502.1 1201h2.71v5h-2.71zM606.5 1201h2.71v5h-2.71zM1679.0 1201h1.36v5h-1.36zM1779.3 1201h2.71v5h-2.71zM506.2 1301h1.36v5h-1.36zM1003.8 1256h1.36v5h-1.36zM1670.9 1256h1.36v5h-1.36zM1674.9 1256h1.36v5h-1.36zM1679.0 1256h2.71v5h-2.71zM1007.9 1196h1.36v5h-1.36zM1115.0 1286h1.36v5h-1.36zM677.0 1236h1.36v5h-1.36zM202.5 521h2.71v5h-2.71zM205.2 516h1.36v5h-1.36zM207.9 511h1.36v5h-1.36zM210.6 506h1.36v5h-1.36zM212.0 501h2.71v5h-2.71zM214.7 496h1.36v5h-1.36zM216.0 491h2.71v5h-2.71zM374.7 551h1.36v5h-1.36zM378.7 551h2.71v5h-2.71zM382.8 551h1.36v5h-1.36zM403.2 551h4.07v5h-4.07zM408.6 551h1.36v5h-1.36zM411.3 551h4.07v5h-4.07zM422.1 551h1.36v5h-1.36zM384.2 546h2.71v5h-2.71zM409.9 546h1.36v5h-1.36zM386.9 541h1.36v5h-1.36zM393.7 541h2.71v5h-2.71zM388.2 531h2.71v5h-2.71zM426.2 531h1.36v5h-1.36zM397.7 536h1.36v5h-1.36zM415.4 556h1.36v5h-1.36zM420.8 556h1.36v5h-1.36zM418.1 561h2.71v5h-2.71zM697.4 571h1.36v5h-1.36zM701.4 571h2.71v5h-2.71zM719.1 571h1.36v5h-1.36zM723.1 571h2.71v5h-2.71zM728.6 571h4.07v5h-4.07zM830.2 571h1.36v5h-1.36zM835.7 571h4.07v5h-4.07zM841.1 571h1.36v5h-1.36zM854.6 571h2.71v5h-2.71zM705.5 566h1.36v5h-1.36zM716.4 566h1.36v5h-1.36zM719.1 566h1.36v5h-1.36zM723.1 566h2.71v5h-2.71zM841.1 566h1.36v5h-1.36zM847.9 566h1.36v5h-1.36zM198.4 611h2.71v5h-2.71zM298.8 611h1.36v5h-1.36zM202.5 606h1.36v5h-1.36zM203.8 601h1.36v5h-1.36zM207.9 596h1.36v5h-1.36zM199.8 706h8.13v5h-8.13zM213.3 706h2.71v5h-2.71zM217.4 706h1.36v5h-1.36zM309.6 706h1.36v5h-1.36zM207.9 701h1.36v5h-1.36zM213.3 701h1.36v5h-1.36zM328.6 701h2.71v5h-2.71zM210.6 696h1.36v5h-1.36zM217.4 711h1.36v5h-1.36zM292.0 651h2.71v5h-2.71zM292.0 646h2.71v5h-2.71zM792.3 886h2.71v5h-2.71zM1266.8 886h1.36v5h-1.36zM393.7 881h2.71v5h-2.71zM412.6 881h1.36v5h-1.36zM549.6 881h2.71v5h-2.71zM630.9 881h1.36v5h-1.36zM793.6 881h1.36v5h-1.36zM549.6 876h2.71v5h-2.71zM630.9 876h1.36v5h-1.36zM674.3 876h1.36v5h-1.36zM796.3 876h2.71v5h-2.71zM1159.7 876h2.71v5h-2.71zM674.3 871h1.36v5h-1.36zM1159.7 871h2.71v5h-2.71zM1281.7 871h1.36v5h-1.36zM1421.4 871h1.36v5h-1.36zM1546.1 871h1.36v5h-1.36zM391.0 861h2.71v5h-2.71zM395.0 861h1.36v5h-1.36zM385.5 866h1.36v5h-1.36zM1348.2 866h1.36v5h-1.36zM789.6 891h4.07v5h-4.07zM1329.2 891h1.36v5h-1.36zM788.2 896h1.36v5h-1.36zM792.3 896h1.36v5h-1.36zM656.7 1036h2.71v5h-2.71zM708.2 1036h1.36v5h-1.36zM1237.0 1036h1.36v5h-1.36zM1714.2 1036h1.36v5h-1.36zM708.2 1041h1.36v5h-1.36zM1006.5 1041h1.36v5h-1.36zM1714.2 1041h1.36v5h-1.36zM1006.5 1046h1.36v5h-1.36zM645.8 1056h2.71v5h-2.71zM1157.0 1056h1.36v5h-1.36zM1292.6 1056h2.71v5h-2.71zM1574.6 1056h1.36v5h-1.36zM1580.0 1056h1.36v5h-1.36zM1714.2 1056h2.71v5h-2.71zM1288.5 1061h1.36v5h-1.36zM1574.6 1061h1.36v5h-1.36zM1580.0 1061h1.36v5h-1.36zM1604.4 1061h1.36v5h-1.36zM1718.3 1061h1.36v5h-1.36zM1150.2 1066h1.36v5h-1.36zM1604.4 1066h1.36v5h-1.36zM1651.9 1066h1.36v5h-1.36zM1718.3 1066h1.36v5h-1.36zM461.5 1071h1.36v5h-1.36zM698.7 1071h1.36v5h-1.36zM1150.2 1071h1.36v5h-1.36zM1651.9 1071h1.36v5h-1.36zM548.2 1076h1.36v5h-1.36zM698.7 1076h1.36v5h-1.36zM351.6 1081h2.71v5h-2.71zM622.8 1081h1.36v5h-1.36zM351.6 1091h2.71v5h-2.71zM411.3 1091h1.36v5h-1.36zM678.4 1091h1.36v5h-1.36zM1082.4 1091h2.71v5h-2.71zM1746.8 1091h1.36v5h-1.36zM405.9 1096h2.71v5h-2.71zM678.4 1096h1.36v5h-1.36zM681.1 1096h1.36v5h-1.36zM700.1 1096h1.36v5h-1.36zM942.8 1096h1.36v5h-1.36zM1749.5 1096h2.71v5h-2.71zM401.8 1101h1.36v5h-1.36zM405.9 1101h2.71v5h-2.71zM685.2 1101h1.36v5h-1.36zM739.4 1101h1.36v5h-1.36zM800.4 1101h1.36v5h-1.36zM942.8 1101h1.36v5h-1.36zM1228.9 1101h1.36v5h-1.36zM1752.2 1101h1.36v5h-1.36zM678.4 1106h1.36v5h-1.36zM800.4 1106h1.36v5h-1.36zM804.5 1106h2.71v5h-2.71zM1519.0 1106h2.71v5h-2.71zM1754.9 1106h1.36v5h-1.36zM1157.0 1051h1.36v5h-1.36zM1296.6 1051h1.36v5h-1.36zM1428.2 1051h2.71v5h-2.71zM569.9 1031h1.36v5h-1.36zM656.7 1031h2.71v5h-2.71zM1238.3 1031h1.36v5h-1.36zM492.6 1026h1.36v5h-1.36zM569.9 1026h1.36v5h-1.36zM635.0 1026h1.36v5h-1.36zM1369.9 1026h1.36v5h-1.36zM514.3 1021h1.36v5h-1.36zM549.6 1021h1.36v5h-1.36zM1039.0 1021h1.36v5h-1.36zM1336.0 1021h1.36v5h-1.36zM1369.9 1021h1.36v5h-1.36zM1688.5 1021h1.36v5h-1.36zM620.1 1111h1.36v5h-1.36zM678.4 1111h1.36v5h-1.36zM804.5 1111h2.71v5h-2.71zM809.9 1111h1.36v5h-1.36zM1067.5 1111h1.36v5h-1.36zM1519.0 1111h5.42v5h-5.42zM514.3 1116h1.36v5h-1.36zM809.9 1116h1.36v5h-1.36zM814.0 1116h1.36v5h-1.36zM835.7 1116h1.36v5h-1.36zM1524.4 1116h1.36v5h-1.36zM405.9 1121h2.71v5h-2.71zM466.9 1121h1.36v5h-1.36zM814.0 1121h1.36v5h-1.36zM818.0 1121h1.36v5h-1.36zM839.7 1121h2.71v5h-2.71zM1006.5 1121h2.71v5h-2.71zM1213.9 1121h2.71v5h-2.71zM1436.3 1121h4.07v5h-4.07zM1524.4 1121h1.36v5h-1.36zM1527.1 1121h1.36v5h-1.36zM466.9 1126h1.36v5h-1.36zM500.8 1126h1.36v5h-1.36zM818.0 1126h1.36v5h-1.36zM895.3 1126h2.71v5h-2.71zM1068.9 1126h1.36v5h-1.36zM1213.9 1126h2.71v5h-2.71zM1443.1 1126h1.36v5h-1.36zM1445.8 1126h1.36v5h-1.36zM1527.1 1126h1.36v5h-1.36zM1635.6 1126h1.36v5h-1.36zM1738.6 1126h2.71v5h-2.71zM473.7 1131h1.36v5h-1.36zM771.9 1131h1.36v5h-1.36zM784.1 1131h1.36v5h-1.36zM986.2 1131h1.36v5h-1.36zM1344.1 1131h1.36v5h-1.36zM1445.8 1131h1.36v5h-1.36zM1448.5 1131h2.71v5h-2.71zM1601.7 1131h1.36v5h-1.36zM784.1 1136h1.36v5h-1.36zM1448.5 1136h2.71v5h-2.71zM1655.9 1136h1.36v5h-1.36zM434.3 1141h1.36v5h-1.36zM814.0 1141h1.36v5h-1.36zM911.6 1141h1.36v5h-1.36zM1330.5 1141h1.36v5h-1.36zM1501.4 1141h1.36v5h-1.36zM1651.9 1141h1.36v5h-1.36zM434.3 1146h1.36v5h-1.36zM814.0 1146h1.36v5h-1.36zM856.0 1146h1.36v5h-1.36zM887.2 1146h1.36v5h-1.36zM915.7 1146h2.71v5h-2.71zM1330.5 1146h1.36v5h-1.36zM1647.8 1146h1.36v5h-1.36zM1651.9 1146h1.36v5h-1.36zM1734.6 1146h1.36v5h-1.36zM1742.7 1146h1.36v5h-1.36zM380.1 1151h1.36v5h-1.36zM386.9 1151h1.36v5h-1.36zM434.3 1151h1.36v5h-1.36zM856.0 1151h1.36v5h-1.36zM887.2 1151h1.36v5h-1.36zM919.7 1151h2.71v5h-2.71zM1250.5 1151h1.36v5h-1.36zM1647.8 1151h1.36v5h-1.36zM1007.9 1191h1.36v5h-1.36zM1045.8 1191h2.71v5h-2.71zM1228.9 1191h1.36v5h-1.36zM494.0 1186h1.36v5h-1.36zM808.5 1186h1.36v5h-1.36zM1007.9 1186h1.36v5h-1.36zM1047.2 1186h1.36v5h-1.36zM1228.9 1186h1.36v5h-1.36zM1352.2 1186h1.36v5h-1.36zM1552.9 1186h1.36v5h-1.36zM449.3 1181h2.71v5h-2.71zM453.3 1181h1.36v5h-1.36zM808.5 1181h1.36v5h-1.36zM860.1 1181h1.36v5h-1.36zM1146.2 1181h1.36v5h-1.36zM1344.1 1181h2.71v5h-2.71zM1352.2 1181h1.36v5h-1.36zM1402.4 1181h1.36v5h-1.36zM1552.9 1181h1.36v5h-1.36zM1641.0 1181h1.36v5h-1.36zM1643.7 1181h1.36v5h-1.36zM691.9 801h2.71v5h-2.71zM727.2 801h5.42v5h-5.42zM903.5 801h1.36v5h-1.36zM923.8 801h1.36v5h-1.36zM1007.9 801h1.36v5h-1.36zM1052.6 801h1.36v5h-1.36zM1505.4 801h1.36v5h-1.36zM697.4 796h1.36v5h-1.36zM724.5 796h1.36v5h-1.36zM1505.4 796h1.36v5h-1.36zM698.7 791h1.36v5h-1.36zM701.4 791h2.71v5h-2.71zM719.1 791h1.36v5h-1.36zM1500.0 791h1.36v5h-1.36zM1502.7 791h1.36v5h-1.36zM231.0 786h1.36v5h-1.36zM705.5 786h2.71v5h-2.71zM713.6 786h4.07v5h-4.07zM1500.0 786h1.36v5h-1.36zM709.6 781h1.36v5h-1.36zM1497.3 781h1.36v5h-1.36zM594.3 831h1.36v5h-1.36zM632.3 831h2.71v5h-2.71zM1185.5 831h1.36v5h-1.36zM1329.2 831h1.36v5h-1.36zM1333.3 831h1.36v5h-1.36zM1470.2 831h1.36v5h-1.36zM635.0 826h1.36v5h-1.36zM1333.3 826h1.36v5h-1.36zM637.7 821h1.36v5h-1.36zM912.9 821h1.36v5h-1.36zM917.0 821h1.36v5h-1.36zM640.4 816h1.36v5h-1.36zM912.9 816h1.36v5h-1.36zM1272.2 816h2.71v5h-2.71zM1357.7 816h1.36v5h-1.36zM598.4 836h1.36v5h-1.36zM632.3 836h2.71v5h-2.71zM949.6 836h1.36v5h-1.36zM1325.1 836h1.36v5h-1.36zM1470.2 836h1.36v5h-1.36zM602.5 841h1.36v5h-1.36zM949.6 841h1.36v5h-1.36zM1321.1 841h1.36v5h-1.36zM403.2 846h1.36v5h-1.36zM605.2 846h1.36v5h-1.36zM980.7 846h1.36v5h-1.36zM1318.3 846h1.36v5h-1.36zM1321.1 846h1.36v5h-1.36zM1325.1 846h1.36v5h-1.36zM1638.3 846h1.36v5h-1.36zM1752.2 846h1.36v5h-1.36zM344.9 996h1.36v5h-1.36zM546.9 996h1.36v5h-1.36zM801.8 996h1.36v5h-1.36zM1581.4 996h1.36v5h-1.36zM1603.1 996h1.36v5h-1.36zM1670.9 996h1.36v5h-1.36zM1673.6 996h2.71v5h-2.71zM1706.1 996h1.36v5h-1.36zM1708.8 996h1.36v5h-1.36zM1669.5 1001h1.36v5h-1.36zM1681.7 1001h1.36v5h-1.36zM1293.9 1006h2.71v5h-2.71zM1639.7 1006h1.36v5h-1.36zM456.0 1171h2.71v5h-2.71zM489.9 1171h4.07v5h-4.07zM495.4 1171h1.36v5h-1.36zM502.1 1171h1.36v5h-1.36zM508.9 1171h1.36v5h-1.36zM513.0 1171h1.36v5h-1.36zM523.8 1171h1.36v5h-1.36zM526.5 1171h2.71v5h-2.71zM533.3 1171h1.36v5h-1.36zM541.4 1171h1.36v5h-1.36zM548.2 1171h1.36v5h-1.36zM550.9 1171h1.36v5h-1.36zM586.2 1171h1.36v5h-1.36zM588.9 1171h1.36v5h-1.36zM595.7 1171h1.36v5h-1.36zM599.8 1171h1.36v5h-1.36zM606.5 1171h2.71v5h-2.71zM612.0 1171h1.36v5h-1.36zM616.0 1171h1.36v5h-1.36zM620.1 1171h1.36v5h-1.36zM624.2 1171h1.36v5h-1.36zM626.9 1171h1.36v5h-1.36zM633.6 1171h1.36v5h-1.36zM1060.7 1171h1.36v5h-1.36zM1097.3 1171h1.36v5h-1.36zM1218.0 1171h2.71v5h-2.71zM1447.1 1171h1.36v5h-1.36zM1452.6 1171h1.36v5h-1.36zM1460.7 1171h2.71v5h-2.71zM1471.6 1171h1.36v5h-1.36zM1482.4 1171h1.36v5h-1.36zM1489.2 1171h1.36v5h-1.36zM1531.2 1171h1.36v5h-1.36zM1535.3 1171h1.36v5h-1.36zM1542.1 1171h1.36v5h-1.36zM1551.5 1171h1.36v5h-1.36zM1555.6 1171h1.36v5h-1.36zM1573.2 1171h2.71v5h-2.71zM453.3 1176h1.36v5h-1.36zM492.6 1176h1.36v5h-1.36zM864.1 1176h1.36v5h-1.36zM866.8 1176h2.71v5h-2.71zM899.4 1176h1.36v5h-1.36zM1218.0 1176h2.71v5h-2.71zM1531.2 1176h1.36v5h-1.36zM1562.4 1176h2.71v5h-2.71zM1573.2 1176h1.36v5h-1.36zM457.4 1166h1.36v5h-1.36zM469.6 1166h2.71v5h-2.71zM494.0 1166h2.71v5h-2.71zM498.1 1166h1.36v5h-1.36zM502.1 1166h1.36v5h-1.36zM508.9 1166h2.71v5h-2.71zM513.0 1166h1.36v5h-1.36zM519.8 1166h1.36v5h-1.36zM523.8 1166h5.42v5h-5.42zM533.3 1166h1.36v5h-1.36zM537.4 1166h1.36v5h-1.36zM541.4 1166h1.36v5h-1.36zM544.2 1166h1.36v5h-1.36zM548.2 1166h2.71v5h-2.71zM571.3 1166h1.36v5h-1.36zM575.3 1166h1.36v5h-1.36zM580.8 1166h1.36v5h-1.36zM588.9 1166h1.36v5h-1.36zM591.6 1166h1.36v5h-1.36zM595.7 1166h1.36v5h-1.36zM599.8 1166h1.36v5h-1.36zM605.2 1166h5.42v5h-5.42zM612.0 1166h1.36v5h-1.36zM616.0 1166h1.36v5h-1.36zM620.1 1166h1.36v5h-1.36zM624.2 1166h1.36v5h-1.36zM626.9 1166h1.36v5h-1.36zM972.6 1166h2.71v5h-2.71zM1060.7 1166h2.71v5h-2.71zM1064.8 1166h1.36v5h-1.36zM1068.9 1166h1.36v5h-1.36zM1096.0 1166h2.71v5h-2.71zM1213.9 1166h4.07v5h-4.07zM1280.4 1166h1.36v5h-1.36zM1298.0 1166h1.36v5h-1.36zM1452.6 1166h2.71v5h-2.71zM1456.6 1166h1.36v5h-1.36zM1460.7 1166h2.71v5h-2.71zM1466.1 1166h2.71v5h-2.71zM1471.6 1166h2.71v5h-2.71zM1475.6 1166h1.36v5h-1.36zM1482.4 1166h1.36v5h-1.36zM1535.3 1166h1.36v5h-1.36zM1539.3 1166h1.36v5h-1.36zM1542.1 1166h1.36v5h-1.36zM1546.1 1166h4.07v5h-4.07zM1551.5 1166h1.36v5h-1.36zM1554.3 1166h2.71v5h-2.71zM1559.7 1166h1.36v5h-1.36zM1567.8 1166h1.36v5h-1.36zM1658.7 1166h1.36v5h-1.36zM1662.7 1166h1.36v5h-1.36zM1706.1 1166h1.36v5h-1.36zM1754.9 901h1.36v5h-1.36zM477.7 946h1.36v5h-1.36zM477.7 951h1.36v5h-1.36zM850.6 951h1.36v5h-1.36zM933.3 951h2.71v5h-2.71zM1295.3 951h1.36v5h-1.36zM1533.9 951h1.36v5h-1.36zM1662.7 951h1.36v5h-1.36zM1778.0 951h1.36v5h-1.36zM1586.8 941h6.78v5h-6.78zM1585.4 936h4.07v5h-4.07zM1592.2 936h1.36v5h-1.36zM1771.2 936h1.36v5h-1.36zM499.4 991h1.36v5h-1.36zM546.9 991h1.36v5h-1.36zM1603.1 991h1.36v5h-1.36zM1673.6 991h2.71v5h-2.71zM460.1 1161h2.71v5h-2.71zM571.3 1161h1.36v5h-1.36zM927.9 1161h2.71v5h-2.71zM1068.9 1161h1.36v5h-1.36zM1082.4 1161h1.36v5h-1.36zM1087.8 1161h1.36v5h-1.36zM1193.6 1161h1.36v5h-1.36zM1253.3 1161h1.36v5h-1.36zM1257.3 1161h1.36v5h-1.36zM1501.4 1161h1.36v5h-1.36zM1662.7 1161h1.36v5h-1.36zM1666.8 1161h1.36v5h-1.36zM1749.5 1161h1.36v5h-1.36zM694.7 576h1.36v5h-1.36zM728.6 576h2.71v5h-2.71zM826.2 576h4.07v5h-4.07zM837.0 576h1.36v5h-1.36zM856.0 576h2.71v5h-2.71zM828.9 581h1.36v5h-1.36zM1003.8 806h1.36v5h-1.36zM1052.6 806h1.36v5h-1.36zM1159.7 806h1.36v5h-1.36zM1311.6 806h2.71v5h-2.71zM643.1 811h1.36v5h-1.36zM1308.9 811h1.36v5h-1.36zM1311.6 811h2.71v5h-2.71zM395.0 856h1.36v5h-1.36zM399.1 856h1.36v5h-1.36zM388.2 906h1.36v5h-1.36zM391.0 906h1.36v5h-1.36zM719.1 906h1.36v5h-1.36zM1482.4 906h2.71v5h-2.71zM399.1 851h1.36v5h-1.36zM980.7 851h1.36v5h-1.36zM984.8 851h1.36v5h-1.36zM1323.8 851h1.36v5h-1.36zM1638.3 851h1.36v5h-1.36zM388.2 911h1.36v5h-1.36zM391.0 911h1.36v5h-1.36zM917.0 911h1.36v5h-1.36zM1482.4 911h2.71v5h-2.71zM1649.2 911h1.36v5h-1.36zM378.7 981h2.71v5h-2.71zM727.2 981h1.36v5h-1.36zM795.0 981h2.71v5h-2.71zM1020.1 981h1.36v5h-1.36zM378.7 986h2.71v5h-2.71zM727.2 986h1.36v5h-1.36zM1020.1 986h1.36v5h-1.36zM354.3 931h1.36v5h-1.36zM1386.1 931h1.36v5h-1.36zM1771.2 931h1.36v5h-1.36zM946.8 1011h1.36v5h-1.36zM1364.4 1011h1.36v5h-1.36zM1367.2 1011h1.36v5h-1.36zM336.7 976h2.71v5h-2.71zM579.4 976h1.36v5h-1.36zM795.0 976h2.71v5h-2.71zM942.8 976h2.71v5h-2.71zM344.9 956h2.71v5h-2.71zM850.6 956h1.36v5h-1.36zM936.0 956h1.36v5h-1.36zM1011.9 956h1.36v5h-1.36zM1665.4 956h1.36v5h-1.36zM1775.3 956h1.36v5h-1.36zM342.1 961h1.36v5h-1.36zM936.0 961h1.36v5h-1.36zM940.1 961h1.36v5h-1.36zM1567.8 961h1.36v5h-1.36zM1665.4 961h1.36v5h-1.36zM1772.5 961h2.71v5h-2.71zM340.8 966h2.71v5h-2.71zM359.8 966h1.36v5h-1.36zM942.8 966h2.71v5h-2.71zM1567.8 966h1.36v5h-1.36zM1771.2 966h2.71v5h-2.71zM338.1 971h1.36v5h-1.36zM942.8 971h2.71v5h-2.71zM1771.2 971h2.71v5h-2.71zM1561.0 921h2.71v5h-2.71zM1639.7 921h1.36v5h-1.36zM563.1 916h1.36v5h-1.36zM724.5 916h1.36v5h-1.36zM1561.0 916h2.71v5h-2.71zM1643.7 916h1.36v5h-1.36zM1649.2 916h1.36v5h-1.36zM1039.0 1016h1.36v5h-1.36zM1319.7 1016h1.36v5h-1.36zM1364.4 1016h1.36v5h-1.36zM1367.2 1016h1.36v5h-1.36zM1369.9 1016h1.36v5h-1.36zM1688.5 1016h1.36v5h-1.36zM351.6 1086h2.71v5h-2.71zM415.4 1086h1.36v5h-1.36zM569.9 1086h1.36v5h-1.36zM1593.6 1086h1.36v5h-1.36zM386.9 1156h1.36v5h-1.36zM461.5 1156h1.36v5h-1.36zM895.3 1156h1.36v5h-1.36zM919.7 1156h2.71v5h-2.71zM923.8 1156h1.36v5h-1.36zM978.0 1156h2.71v5h-2.71zM1253.3 1156h1.36v5h-1.36zM1257.3 1156h1.36v5h-1.36zM1501.4 1156h1.36v5h-1.36zM1578.7 1156h1.36v5h-1.36zM1666.8 1156h1.36v5h-1.36zM1749.5 1156h1.36v5h-1.36zM361.1 1241h1.36v5h-1.36z"/><path fill="#2cc4a7" d="M206.6 1346h1.36v5h-1.36zM209.3 1346h1.36v5h-1.36zM209.3 1341h1.36v5h-1.36zM212.0 1336h2.71v5h-2.71zM317.7 1336h2.71v5h-2.71zM317.7 1331h2.71v5h-2.71zM217.4 1281h1.36v5h-1.36zM214.7 1276h1.36v5h-1.36zM210.6 1271h4.07v5h-4.07zM210.6 1266h2.71v5h-2.71zM313.7 1326h1.36v5h-1.36zM315.0 1321h4.07v5h-4.07zM243.2 1311h1.36v5h-1.36zM319.1 1206h1.36v5h-1.36zM319.1 1211h1.36v5h-1.36zM283.8 1231h1.36v5h-1.36zM239.1 1291h1.36v5h-1.36zM267.6 1256h1.36v5h-1.36zM260.8 1246h1.36v5h-1.36zM283.8 1236h1.36v5h-1.36zM316.4 661h1.36v5h-1.36zM319.1 661h1.36v5h-1.36zM271.6 706h1.36v5h-1.36zM267.6 701h1.36v5h-1.36zM271.6 701h1.36v5h-1.36zM275.7 696h1.36v5h-1.36zM323.2 651h1.36v5h-1.36zM267.6 656h1.36v5h-1.36zM319.1 656h1.36v5h-1.36zM327.2 646h1.36v5h-1.36zM305.5 886h2.71v5h-2.71zM305.5 881h2.71v5h-2.71zM274.4 871h1.36v5h-1.36zM274.4 866h1.36v5h-1.36zM324.5 866h1.36v5h-1.36zM244.5 891h1.36v5h-1.36zM311.0 1041h1.36v5h-1.36zM258.1 1066h2.71v5h-2.71zM297.4 1126h1.36v5h-1.36zM297.4 1131h1.36v5h-1.36zM202.5 801h1.36v5h-1.36zM315.0 801h2.71v5h-2.71zM300.1 826h1.36v5h-1.36zM244.5 836h1.36v5h-1.36zM311.0 836h1.36v5h-1.36zM311.0 841h1.36v5h-1.36zM210.6 1166h1.36v5h-1.36zM255.4 901h1.36v5h-1.36zM302.8 901h1.36v5h-1.36zM220.1 946h1.36v5h-1.36zM220.1 951h1.36v5h-1.36zM285.2 951h2.71v5h-2.71zM239.1 941h1.36v5h-1.36zM239.1 936h4.07v5h-4.07zM210.6 1161h1.36v5h-1.36zM202.5 806h1.36v5h-1.36zM258.1 766h1.36v5h-1.36zM255.4 906h1.36v5h-1.36zM194.4 911h1.36v5h-1.36zM273.0 981h1.36v5h-1.36zM273.0 986h1.36v5h-1.36zM315.0 926h1.36v5h-1.36zM331.3 926h1.36v5h-1.36zM334.0 926h1.36v5h-1.36zM240.5 931h2.71v5h-2.71zM315.0 931h1.36v5h-1.36zM334.0 931h1.36v5h-1.36zM336.7 931h1.36v5h-1.36zM256.7 976h1.36v5h-1.36zM331.3 921h1.36v5h-1.36zM328.6 916h1.36v5h-1.36zM260.8 1241h1.36v5h-1.36zM283.8 1241h1.36v5h-1.36z"/><path fill="#31c69f" d="M648.6 1366h1.36v5h-1.36zM689.2 1366h4.07v5h-4.07zM1649.2 1366h1.36v5h-1.36zM1655.9 1366h1.36v5h-1.36zM648.6 1361h1.36v5h-1.36zM1653.2 1361h4.07v5h-4.07zM1655.9 1356h1.36v5h-1.36zM1773.9 1356h2.71v5h-2.71zM1658.7 1351h1.36v5h-1.36zM1773.9 1351h2.71v5h-2.71zM1661.4 1346h1.36v5h-1.36zM1773.9 1346h2.71v5h-2.71zM380.1 1331h1.36v5h-1.36zM1519.0 1281h1.36v5h-1.36zM682.5 1276h2.71v5h-2.71zM1039.0 1276h2.71v5h-2.71zM1723.7 1276h1.36v5h-1.36zM419.4 1271h1.36v5h-1.36zM639.1 1271h1.36v5h-1.36zM674.3 1271h1.36v5h-1.36zM678.4 1271h1.36v5h-1.36zM1039.0 1271h2.71v5h-2.71zM1726.4 1271h2.71v5h-2.71zM1730.5 1271h1.36v5h-1.36zM350.3 1266h1.36v5h-1.36zM414.0 1266h2.71v5h-2.71zM419.4 1266h1.36v5h-1.36zM674.3 1266h1.36v5h-1.36zM1730.5 1266h1.36v5h-1.36zM1733.2 1266h1.36v5h-1.36zM350.3 1261h1.36v5h-1.36zM408.6 1261h1.36v5h-1.36zM414.0 1261h4.07v5h-4.07zM670.3 1261h1.36v5h-1.36zM1369.9 1261h1.36v5h-1.36zM1746.8 1321h1.36v5h-1.36zM1746.8 1316h1.36v5h-1.36zM347.6 1251h1.36v5h-1.36zM767.9 1206h1.36v5h-1.36zM839.7 1211h1.36v5h-1.36zM846.5 1211h2.71v5h-2.71zM857.4 1211h1.36v5h-1.36zM491.3 1226h1.36v5h-1.36zM521.1 1226h1.36v5h-1.36zM523.8 1226h1.36v5h-1.36zM537.4 1226h1.36v5h-1.36zM584.8 1226h1.36v5h-1.36zM587.5 1226h1.36v5h-1.36zM630.9 1226h1.36v5h-1.36zM491.3 1221h1.36v5h-1.36zM503.5 1221h1.36v5h-1.36zM507.6 1221h1.36v5h-1.36zM521.1 1221h1.36v5h-1.36zM523.8 1221h1.36v5h-1.36zM532.0 1221h1.36v5h-1.36zM537.4 1221h1.36v5h-1.36zM540.1 1221h1.36v5h-1.36zM544.2 1221h1.36v5h-1.36zM584.8 1221h1.36v5h-1.36zM587.5 1221h1.36v5h-1.36zM597.0 1221h1.36v5h-1.36zM621.4 1221h1.36v5h-1.36zM630.9 1221h1.36v5h-1.36zM1197.7 1221h1.36v5h-1.36zM1232.9 1231h2.71v5h-2.71zM377.4 1216h1.36v5h-1.36zM380.1 1216h1.36v5h-1.36zM522.5 1216h1.36v5h-1.36zM598.4 1216h1.36v5h-1.36zM870.9 1216h1.36v5h-1.36zM1390.2 1306h1.36v5h-1.36zM1815.9 1306h1.36v5h-1.36zM1390.2 1296h1.36v5h-1.36zM470.9 1201h1.36v5h-1.36zM1208.5 1201h2.71v5h-2.71zM1390.2 1301h1.36v5h-1.36zM865.5 1291h1.36v5h-1.36zM883.1 1291h1.36v5h-1.36zM350.3 1256h1.36v5h-1.36zM408.6 1256h1.36v5h-1.36zM411.3 1256h1.36v5h-1.36zM666.2 1256h1.36v5h-1.36zM1799.7 1256h1.36v5h-1.36zM342.1 1246h1.36v5h-1.36zM344.9 1246h1.36v5h-1.36zM470.9 1196h1.36v5h-1.36zM1211.2 1196h1.36v5h-1.36zM868.2 1286h2.71v5h-2.71zM883.1 1286h1.36v5h-1.36zM339.4 1236h1.36v5h-1.36zM1687.1 1236h1.36v5h-1.36zM1791.5 1236h2.71v5h-2.71zM720.4 571h1.36v5h-1.36zM725.8 571h2.71v5h-2.71zM732.6 571h1.36v5h-1.36zM833.0 571h2.71v5h-2.71zM842.4 571h1.36v5h-1.36zM846.5 571h1.36v5h-1.36zM851.9 571h2.71v5h-2.71zM706.9 566h1.36v5h-1.36zM720.4 566h1.36v5h-1.36zM727.2 566h1.36v5h-1.36zM842.4 566h2.71v5h-2.71zM576.7 1101h1.36v5h-1.36zM963.1 1101h1.36v5h-1.36zM1451.2 1101h1.36v5h-1.36zM713.6 1106h1.36v5h-1.36zM1045.8 1106h1.36v5h-1.36zM378.7 1111h1.36v5h-1.36zM716.4 1111h1.36v5h-1.36zM1045.8 1111h1.36v5h-1.36zM376.0 1116h1.36v5h-1.36zM651.3 1116h2.71v5h-2.71zM719.1 1116h1.36v5h-1.36zM373.3 1121h4.07v5h-4.07zM721.8 1121h1.36v5h-1.36zM1167.8 1121h2.71v5h-2.71zM370.6 1126h6.78v5h-6.78zM724.5 1126h1.36v5h-1.36zM795.0 1126h2.71v5h-2.71zM879.1 1126h1.36v5h-1.36zM1167.8 1126h2.71v5h-2.71zM367.9 1131h1.36v5h-1.36zM795.0 1131h2.71v5h-2.71zM879.1 1131h1.36v5h-1.36zM556.4 1136h1.36v5h-1.36zM682.5 1136h1.36v5h-1.36zM926.5 1136h1.36v5h-1.36zM1651.9 1136h1.36v5h-1.36zM470.9 1141h1.36v5h-1.36zM552.3 1141h1.36v5h-1.36zM556.4 1141h1.36v5h-1.36zM682.5 1141h1.36v5h-1.36zM926.5 1141h1.36v5h-1.36zM1382.1 1141h1.36v5h-1.36zM1745.4 1141h1.36v5h-1.36zM1749.5 1141h1.36v5h-1.36zM470.9 1146h1.36v5h-1.36zM544.2 1146h1.36v5h-1.36zM549.6 1146h4.07v5h-4.07zM1151.6 1146h1.36v5h-1.36zM1382.1 1146h1.36v5h-1.36zM1669.5 1146h2.71v5h-2.71zM1745.4 1146h1.36v5h-1.36zM1753.6 1146h1.36v5h-1.36zM983.5 1151h1.36v5h-1.36zM1148.9 1151h1.36v5h-1.36zM469.6 1191h1.36v5h-1.36zM1213.9 1191h1.36v5h-1.36zM1219.4 1191h1.36v5h-1.36zM466.9 1186h2.71v5h-2.71zM1216.7 1186h1.36v5h-1.36zM1224.8 1186h2.71v5h-2.71zM1242.4 1186h1.36v5h-1.36zM464.2 1181h1.36v5h-1.36zM747.5 1181h1.36v5h-1.36zM1208.5 1181h1.36v5h-1.36zM1212.6 1181h4.07v5h-4.07zM1227.5 1181h4.07v5h-4.07zM1242.4 1181h1.36v5h-1.36zM499.4 1171h1.36v5h-1.36zM511.6 1171h1.36v5h-1.36zM518.4 1171h1.36v5h-1.36zM532.0 1171h1.36v5h-1.36zM536.0 1171h1.36v5h-1.36zM540.1 1171h1.36v5h-1.36zM587.5 1171h1.36v5h-1.36zM598.4 1171h1.36v5h-1.36zM629.6 1171h4.07v5h-4.07zM912.9 1171h2.71v5h-2.71zM956.3 1171h1.36v5h-1.36zM959.0 1171h1.36v5h-1.36zM963.1 1171h2.71v5h-2.71zM972.6 1171h1.36v5h-1.36zM975.3 1171h1.36v5h-1.36zM980.7 1171h1.36v5h-1.36zM1098.7 1171h1.36v5h-1.36zM1101.4 1171h1.36v5h-1.36zM1177.3 1171h1.36v5h-1.36zM1279.0 1171h1.36v5h-1.36zM1288.5 1171h1.36v5h-1.36zM1291.2 1171h1.36v5h-1.36zM1295.3 1171h1.36v5h-1.36zM1300.7 1171h1.36v5h-1.36zM1470.2 1171h1.36v5h-1.36zM1544.8 1171h1.36v5h-1.36zM1558.3 1171h1.36v5h-1.36zM1563.7 1171h1.36v5h-1.36zM1577.3 1171h1.36v5h-1.36zM461.5 1176h1.36v5h-1.36zM630.9 1176h2.71v5h-2.71zM747.5 1176h1.36v5h-1.36zM912.9 1176h2.71v5h-2.71zM975.3 1176h1.36v5h-1.36zM980.7 1176h1.36v5h-1.36zM1208.5 1176h2.71v5h-2.71zM1740.0 1176h2.71v5h-2.71zM499.4 1166h1.36v5h-1.36zM503.5 1166h2.71v5h-2.71zM511.6 1166h1.36v5h-1.36zM515.7 1166h1.36v5h-1.36zM518.4 1166h1.36v5h-1.36zM529.2 1166h1.36v5h-1.36zM532.0 1166h1.36v5h-1.36zM536.0 1166h1.36v5h-1.36zM540.1 1166h1.36v5h-1.36zM587.5 1166h1.36v5h-1.36zM590.3 1166h1.36v5h-1.36zM597.0 1166h2.71v5h-2.71zM603.8 1166h1.36v5h-1.36zM629.6 1166h1.36v5h-1.36zM912.9 1166h2.71v5h-2.71zM957.7 1166h1.36v5h-1.36zM960.4 1166h1.36v5h-1.36zM963.1 1166h2.71v5h-2.71zM967.2 1166h1.36v5h-1.36zM971.2 1166h1.36v5h-1.36zM975.3 1166h2.71v5h-2.71zM1056.7 1166h1.36v5h-1.36zM1072.9 1166h1.36v5h-1.36zM1078.4 1166h1.36v5h-1.36zM1091.9 1166h1.36v5h-1.36zM1098.7 1166h1.36v5h-1.36zM1144.8 1166h1.36v5h-1.36zM1277.7 1166h1.36v5h-1.36zM1283.1 1166h1.36v5h-1.36zM1285.8 1166h1.36v5h-1.36zM1288.5 1166h1.36v5h-1.36zM1291.2 1166h6.78v5h-6.78zM1300.7 1166h1.36v5h-1.36zM1449.9 1166h1.36v5h-1.36zM1455.3 1166h1.36v5h-1.36zM1468.8 1166h2.71v5h-2.71zM1477.0 1166h2.71v5h-2.71zM1486.5 1166h1.36v5h-1.36zM1544.8 1166h1.36v5h-1.36zM1550.2 1166h1.36v5h-1.36zM1558.3 1166h1.36v5h-1.36zM1561.0 1166h1.36v5h-1.36zM1563.7 1166h1.36v5h-1.36zM1571.9 1166h1.36v5h-1.36zM978.0 1161h1.36v5h-1.36zM986.2 1161h1.36v5h-1.36zM1070.2 1161h1.36v5h-1.36zM1072.9 1161h2.71v5h-2.71zM1078.4 1161h1.36v5h-1.36zM1144.8 1161h1.36v5h-1.36zM1712.9 1161h1.36v5h-1.36zM735.3 576h2.71v5h-2.71zM834.3 576h1.36v5h-1.36zM846.5 576h1.36v5h-1.36zM858.7 576h1.36v5h-1.36zM980.7 1156h1.36v5h-1.36zM986.2 1156h1.36v5h-1.36zM1146.2 1156h1.36v5h-1.36zM1148.9 1156h1.36v5h-1.36zM342.1 1241h1.36v5h-1.36zM1180.0 1241h1.36v5h-1.36zM1687.1 1241h1.36v5h-1.36zM1791.5 1241h2.71v5h-2.71z"/><path fill="#37c897" d="M235.0 1381h2.71v5h-2.71zM235.0 1376h2.71v5h-2.71zM235.0 1371h2.71v5h-2.71zM282.5 1366h2.71v5h-2.71zM1679.0 1366h2.71v5h-2.71zM267.6 1356h1.36v5h-1.36zM267.6 1351h1.36v5h-1.36zM666.2 1341h1.36v5h-1.36zM252.7 1336h1.36v5h-1.36zM212.0 1331h1.36v5h-1.36zM252.7 1331h1.36v5h-1.36zM232.3 1281h1.36v5h-1.36zM365.2 1281h1.36v5h-1.36zM235.0 1276h2.71v5h-2.71zM258.1 1271h1.36v5h-1.36zM861.4 1271h1.36v5h-1.36zM260.8 1266h1.36v5h-1.36zM263.5 1266h1.36v5h-1.36zM263.5 1261h1.36v5h-1.36zM252.7 1326h1.36v5h-1.36zM593.0 1321h1.36v5h-1.36zM643.1 1321h1.36v5h-1.36zM643.1 1316h1.36v5h-1.36zM259.4 1251h1.36v5h-1.36zM268.9 1251h1.36v5h-1.36zM323.2 1211h1.36v5h-1.36zM907.5 1211h1.36v5h-1.36zM317.7 1226h1.36v5h-1.36zM738.0 1226h1.36v5h-1.36zM325.9 1221h1.36v5h-1.36zM1817.3 1221h1.36v5h-1.36zM278.4 1231h1.36v5h-1.36zM1273.6 1231h1.36v5h-1.36zM323.2 1216h1.36v5h-1.36zM564.5 1216h1.36v5h-1.36zM729.9 1216h1.36v5h-1.36zM907.5 1216h1.36v5h-1.36zM228.3 1296h1.36v5h-1.36zM405.9 1296h1.36v5h-1.36zM1209.9 1296h1.36v5h-1.36zM228.3 1301h1.36v5h-1.36zM405.9 1301h1.36v5h-1.36zM228.3 1291h1.36v5h-1.36zM231.0 1291h1.36v5h-1.36zM1201.7 1291h2.71v5h-2.71zM1209.9 1291h1.36v5h-1.36zM266.2 1256h1.36v5h-1.36zM268.9 1256h1.36v5h-1.36zM476.4 1256h1.36v5h-1.36zM262.1 1246h2.71v5h-2.71zM266.2 1246h1.36v5h-1.36zM1647.8 1196h1.36v5h-1.36zM231.0 1286h2.71v5h-2.71zM1201.7 1286h2.71v5h-2.71zM1205.8 1286h1.36v5h-1.36zM278.4 1236h1.36v5h-1.36zM214.7 886h1.36v5h-1.36zM222.8 886h1.36v5h-1.36zM218.8 881h1.36v5h-1.36zM222.8 881h1.36v5h-1.36zM226.9 876h1.36v5h-1.36zM232.3 876h1.36v5h-1.36zM214.7 891h1.36v5h-1.36zM302.8 1056h1.36v5h-1.36zM226.9 1066h2.71v5h-2.71zM213.3 1081h2.71v5h-2.71zM228.3 1091h1.36v5h-1.36zM235.0 1096h1.36v5h-1.36zM235.0 1101h1.36v5h-1.36zM1102.8 1101h1.36v5h-1.36zM1102.8 1106h1.36v5h-1.36zM302.8 1051h1.36v5h-1.36zM1235.6 1111h1.36v5h-1.36zM968.5 1116h1.36v5h-1.36zM1097.3 1116h1.36v5h-1.36zM1237.0 1116h1.36v5h-1.36zM1269.5 1116h1.36v5h-1.36zM899.4 1121h1.36v5h-1.36zM1239.7 1121h1.36v5h-1.36zM1601.7 1121h1.36v5h-1.36zM899.4 1126h1.36v5h-1.36zM974.0 1126h1.36v5h-1.36zM1036.3 1126h1.36v5h-1.36zM1231.6 1126h1.36v5h-1.36zM1239.7 1126h1.36v5h-1.36zM1242.4 1126h1.36v5h-1.36zM1036.3 1131h1.36v5h-1.36zM1231.6 1131h1.36v5h-1.36zM1242.4 1131h1.36v5h-1.36zM769.2 1136h1.36v5h-1.36zM1242.4 1136h1.36v5h-1.36zM1272.2 1136h1.36v5h-1.36zM1386.1 1136h1.36v5h-1.36zM769.2 1141h1.36v5h-1.36zM771.9 1141h1.36v5h-1.36zM1616.6 1141h1.36v5h-1.36zM290.6 1146h1.36v5h-1.36zM1391.6 1146h1.36v5h-1.36zM1440.4 1146h1.36v5h-1.36zM286.6 1151h1.36v5h-1.36zM290.6 1151h1.36v5h-1.36zM313.7 1151h1.36v5h-1.36zM614.7 1151h1.36v5h-1.36zM1245.1 1151h2.71v5h-2.71zM1392.9 1151h1.36v5h-1.36zM1725.1 1151h1.36v5h-1.36zM255.4 1191h1.36v5h-1.36zM715.0 1191h1.36v5h-1.36zM1647.8 1191h1.36v5h-1.36zM1702.0 1191h1.36v5h-1.36zM255.4 1186h1.36v5h-1.36zM715.0 1186h1.36v5h-1.36zM917.0 1186h1.36v5h-1.36zM1702.0 1186h1.36v5h-1.36zM193.0 826h1.36v5h-1.36zM255.4 841h1.36v5h-1.36zM255.4 996h1.36v5h-1.36zM297.4 1001h1.36v5h-1.36zM296.0 1006h2.71v5h-2.71zM418.1 1171h1.36v5h-1.36zM1062.1 1171h2.71v5h-2.71zM1079.7 1171h1.36v5h-1.36zM1120.4 1171h2.71v5h-2.71zM1384.8 1171h1.36v5h-1.36zM1472.9 1171h2.71v5h-2.71zM339.4 1176h2.71v5h-2.71zM889.9 1176h1.36v5h-1.36zM896.7 1176h1.36v5h-1.36zM1062.1 1176h2.71v5h-2.71zM1120.4 1176h2.71v5h-2.71zM1238.3 1176h1.36v5h-1.36zM317.7 1166h1.36v5h-1.36zM320.4 1166h2.71v5h-2.71zM671.6 1166h1.36v5h-1.36zM674.3 1166h1.36v5h-1.36zM1079.7 1166h1.36v5h-1.36zM203.8 951h1.36v5h-1.36zM287.9 951h1.36v5h-1.36zM259.4 991h1.36v5h-1.36zM263.5 991h1.36v5h-1.36zM316.4 1161h2.71v5h-2.71zM671.6 1161h1.36v5h-1.36zM1266.8 1161h2.71v5h-2.71zM294.7 911h2.71v5h-2.71zM267.6 981h1.36v5h-1.36zM271.6 981h1.36v5h-1.36zM263.5 986h1.36v5h-1.36zM270.3 926h1.36v5h-1.36zM270.3 931h1.36v5h-1.36zM296.0 1011h2.71v5h-2.71zM271.6 976h2.71v5h-2.71zM281.1 976h1.36v5h-1.36zM207.9 956h2.71v5h-2.71zM207.9 961h2.71v5h-2.71zM286.6 961h1.36v5h-1.36zM283.8 966h4.07v5h-4.07zM281.1 971h1.36v5h-1.36zM283.8 971h2.71v5h-2.71zM294.7 921h1.36v5h-1.36zM201.1 1016h2.71v5h-2.71zM213.3 1086h2.71v5h-2.71zM286.6 1156h1.36v5h-1.36zM313.7 1156h1.36v5h-1.36zM316.4 1156h1.36v5h-1.36zM614.7 1156h1.36v5h-1.36zM1266.8 1156h2.71v5h-2.71zM1392.9 1156h1.36v5h-1.36zM266.2 1241h1.36v5h-1.36zM641.8 1241h2.71v5h-2.71zM1585.4 1241h1.36v5h-1.36z"/><path fill="#3fca8e" d="M446.5 1441h2.71v5h-2.71zM1506.8 1436h1.36v5h-1.36zM1510.9 1436h2.71v5h-2.71zM1508.2 1431h4.07v5h-4.07zM1513.6 1431h1.36v5h-1.36zM1125.8 1766h1.36v5h-1.36zM1125.8 1771h1.36v5h-1.36zM1127.2 1776h10.85v5h-10.85zM1138.0 1781h6.78v5h-6.78zM1144.8 1786h6.78v5h-6.78zM1152.9 1786h6.78v5h-6.78zM1151.6 1791h1.36v5h-1.36zM1124.5 1761h1.36v5h-1.36zM839.7 1206h9.49v5h-9.49zM850.6 1206h9.49v5h-9.49zM861.4 1206h1.36v5h-1.36zM864.1 1206h1.36v5h-1.36zM868.2 1206h1.36v5h-1.36zM835.7 1211h1.36v5h-1.36zM842.4 1211h1.36v5h-1.36zM845.2 1211h1.36v5h-1.36zM850.6 1211h4.07v5h-4.07zM856.0 1211h1.36v5h-1.36zM861.4 1211h1.36v5h-1.36zM865.5 1211h1.36v5h-1.36zM868.2 1211h4.07v5h-4.07zM1688.5 1211h2.71v5h-2.71zM1702.0 1211h1.36v5h-1.36zM1753.6 1211h2.71v5h-2.71zM1060.7 1226h8.13v5h-8.13zM1098.7 1226h2.71v5h-2.71zM1451.2 1226h4.07v5h-4.07zM1536.6 1226h9.49v5h-9.49zM1655.9 1226h6.78v5h-6.78zM1664.1 1226h4.07v5h-4.07zM1744.1 1226h6.78v5h-6.78zM1773.9 1226h2.71v5h-2.71zM1067.5 1221h9.49v5h-9.49zM1078.4 1221h20.34v5h-20.34zM1455.3 1221h2.71v5h-2.71zM1459.3 1221h10.85v5h-10.85zM1471.6 1221h13.56v5h-13.56zM1546.1 1221h8.13v5h-8.13zM1557.0 1221h5.42v5h-5.42zM1565.1 1221h5.42v5h-5.42zM1654.6 1221h1.36v5h-1.36zM1662.7 1221h1.36v5h-1.36zM1668.1 1221h1.36v5h-1.36zM1680.3 1221h4.07v5h-4.07zM1693.9 1221h5.42v5h-5.42zM1742.7 1221h1.36v5h-1.36zM1750.9 1221h1.36v5h-1.36zM1760.3 1221h13.56v5h-13.56zM835.7 1216h1.36v5h-1.36zM845.2 1216h1.36v5h-1.36zM850.6 1216h1.36v5h-1.36zM965.8 1216h2.71v5h-2.71zM1077.0 1216h1.36v5h-1.36zM1458.0 1216h1.36v5h-1.36zM1470.2 1216h1.36v5h-1.36zM1554.3 1216h2.71v5h-2.71zM1562.4 1216h2.71v5h-2.71zM1570.5 1216h6.78v5h-6.78zM1650.5 1216h4.07v5h-4.07zM1669.5 1216h1.36v5h-1.36zM1684.4 1216h4.07v5h-4.07zM1691.2 1216h2.71v5h-2.71zM1699.3 1216h2.71v5h-2.71zM1741.4 1216h1.36v5h-1.36zM1752.2 1216h1.36v5h-1.36zM1756.3 1216h4.07v5h-4.07zM750.2 1306h2.71v5h-2.71zM931.9 1201h2.71v5h-2.71zM1295.3 1201h6.78v5h-6.78zM1293.9 1196h1.36v5h-1.36zM1302.1 1196h1.36v5h-1.36zM216.0 886h2.71v5h-2.71zM214.7 881h2.71v5h-2.71zM293.3 881h1.36v5h-1.36zM289.3 876h1.36v5h-1.36zM293.3 876h1.36v5h-1.36zM285.2 871h2.71v5h-2.71zM221.5 891h1.36v5h-1.36zM225.5 896h1.36v5h-1.36zM296.0 831h1.36v5h-1.36zM226.9 826h1.36v5h-1.36zM290.6 826h1.36v5h-1.36zM286.6 821h2.71v5h-2.71zM300.1 836h1.36v5h-1.36zM304.2 841h1.36v5h-1.36zM304.2 846h1.36v5h-1.36zM968.5 1171h1.36v5h-1.36zM1281.7 1171h1.36v5h-1.36zM1299.4 1171h1.36v5h-1.36zM1299.4 1176h1.36v5h-1.36zM961.8 1166h1.36v5h-1.36zM968.5 1166h2.71v5h-2.71zM1284.4 1166h1.36v5h-1.36zM1287.2 1166h1.36v5h-1.36zM277.1 946h1.36v5h-1.36zM277.1 951h1.36v5h-1.36zM277.1 941h1.36v5h-1.36zM220.1 856h1.36v5h-1.36zM220.1 851h1.36v5h-1.36zM254.0 956h1.36v5h-1.36zM254.0 961h1.36v5h-1.36z"/><path fill="#4acb84" d="M207.9 1376h1.36v5h-1.36zM205.2 1371h1.36v5h-1.36zM207.9 1371h1.36v5h-1.36zM210.6 1371h1.36v5h-1.36zM210.6 1366h1.36v5h-1.36zM287.9 1366h2.71v5h-2.71zM287.9 1361h4.07v5h-4.07zM289.3 1356h5.42v5h-5.42zM292.0 1351h4.07v5h-4.07zM315.0 1351h1.36v5h-1.36zM249.9 1346h1.36v5h-1.36zM294.7 1346h1.36v5h-1.36zM205.2 1341h2.71v5h-2.71zM205.2 1336h1.36v5h-1.36zM336.7 1276h1.36v5h-1.36zM224.2 1266h1.36v5h-1.36zM278.4 1261h1.36v5h-1.36zM213.3 1251h1.36v5h-1.36zM332.7 1206h1.36v5h-1.36zM263.5 1211h1.36v5h-1.36zM305.5 1226h1.36v5h-1.36zM240.5 1231h1.36v5h-1.36zM237.7 1216h1.36v5h-1.36zM263.5 1216h1.36v5h-1.36zM324.5 1216h2.71v5h-2.71zM214.7 1296h2.71v5h-2.71zM214.7 1301h2.71v5h-2.71zM207.9 1291h1.36v5h-1.36zM217.4 1291h1.36v5h-1.36zM220.1 1291h1.36v5h-1.36zM240.5 1256h1.36v5h-1.36zM278.4 1256h1.36v5h-1.36zM235.0 1246h1.36v5h-1.36zM266.2 1196h1.36v5h-1.36zM273.0 1196h1.36v5h-1.36zM220.1 1286h1.36v5h-1.36zM327.2 1286h1.36v5h-1.36zM195.7 1236h1.36v5h-1.36zM237.7 1236h1.36v5h-1.36zM199.8 1036h2.71v5h-2.71zM207.9 1041h1.36v5h-1.36zM254.0 1041h1.36v5h-1.36zM207.9 1046h1.36v5h-1.36zM285.2 1061h1.36v5h-1.36zM287.9 1061h1.36v5h-1.36zM281.1 1066h1.36v5h-1.36zM283.8 1066h2.71v5h-2.71zM235.0 1071h1.36v5h-1.36zM278.4 1071h1.36v5h-1.36zM278.4 1076h1.36v5h-1.36zM220.1 1091h1.36v5h-1.36zM302.8 1091h2.71v5h-2.71zM220.1 1096h1.36v5h-1.36zM300.1 1096h1.36v5h-1.36zM298.8 1101h1.36v5h-1.36zM296.0 1106h4.07v5h-4.07zM245.9 1026h1.36v5h-1.36zM285.2 1021h1.36v5h-1.36zM294.7 1111h4.07v5h-4.07zM267.6 1116h1.36v5h-1.36zM224.2 1136h1.36v5h-1.36zM228.3 1146h1.36v5h-1.36zM266.2 1191h1.36v5h-1.36zM270.3 1191h1.36v5h-1.36zM259.4 1186h1.36v5h-1.36zM263.5 1186h1.36v5h-1.36zM237.7 1166h1.36v5h-1.36zM244.5 1166h1.36v5h-1.36zM240.5 1161h1.36v5h-1.36zM244.5 1161h1.36v5h-1.36zM316.4 1086h1.36v5h-1.36zM248.6 1156h2.71v5h-2.71zM195.7 1241h1.36v5h-1.36zM235.0 1241h1.36v5h-1.36z"/><path fill="#57cc7a" d="M849.2 1206h1.36v5h-1.36zM860.1 1206h1.36v5h-1.36zM862.8 1206h1.36v5h-1.36zM866.8 1206h1.36v5h-1.36zM841.1 1211h1.36v5h-1.36zM849.2 1211h1.36v5h-1.36zM862.8 1211h1.36v5h-1.36zM866.8 1211h1.36v5h-1.36zM872.3 1211h2.71v5h-2.71zM841.1 1216h1.36v5h-1.36zM872.3 1216h1.36v5h-1.36z"/><path fill="#64cd6f" d="M262.1 1341h1.36v5h-1.36zM306.9 1271h1.36v5h-1.36zM220.1 1261h1.36v5h-1.36zM248.6 1311h1.36v5h-1.36zM304.2 1206h1.36v5h-1.36zM248.6 1306h1.36v5h-1.36zM247.2 1201h1.36v5h-1.36zM236.4 1246h2.71v5h-2.71zM247.2 1196h1.36v5h-1.36zM319.1 1196h1.36v5h-1.36zM259.4 1286h1.36v5h-1.36zM277.1 1036h1.36v5h-1.36zM277.1 1041h1.36v5h-1.36zM287.9 1056h1.36v5h-1.36zM239.1 1096h1.36v5h-1.36zM239.1 1101h1.36v5h-1.36zM304.2 1101h1.36v5h-1.36zM247.2 1111h1.36v5h-1.36zM249.9 1116h1.36v5h-1.36zM252.7 1121h2.71v5h-2.71zM255.4 1126h1.36v5h-1.36zM255.4 1131h1.36v5h-1.36zM258.1 1131h1.36v5h-1.36zM264.9 1141h1.36v5h-1.36zM338.1 1141h2.71v5h-2.71zM268.9 1146h1.36v5h-1.36zM241.8 1191h1.36v5h-1.36zM319.1 1191h1.36v5h-1.36zM249.9 1006h1.36v5h-1.36zM222.8 1171h1.36v5h-1.36zM222.8 1166h1.36v5h-1.36zM241.8 1166h1.36v5h-1.36z"/><path fill="#72cd64" d="M260.8 1446h1.36v5h-1.36zM1422.7 1446h4.07v5h-4.07zM1523.1 1446h1.36v5h-1.36zM248.6 1441h2.71v5h-2.71zM1521.7 1441h1.36v5h-1.36zM1514.9 1426h6.78v5h-6.78zM891.3 1431h2.71v5h-2.71zM904.8 1431h1.36v5h-1.36zM1520.4 1431h1.36v5h-1.36zM241.8 1491h1.36v5h-1.36zM1040.4 1491h2.71v5h-2.71zM1514.9 1491h1.36v5h-1.36zM1514.9 1486h2.71v5h-2.71zM268.9 1481h1.36v5h-1.36zM1795.6 1481h1.36v5h-1.36zM1798.3 1481h1.36v5h-1.36zM1043.1 1476h2.71v5h-2.71zM1632.9 1476h1.36v5h-1.36zM231.0 1501h5.42v5h-5.42zM267.6 1501h2.71v5h-2.71zM443.8 1501h1.36v5h-1.36zM1592.2 1501h1.36v5h-1.36zM268.9 1531h1.36v5h-1.36zM454.7 1531h1.36v5h-1.36zM458.7 1531h1.36v5h-1.36zM469.6 1531h1.36v5h-1.36zM1594.9 1531h1.36v5h-1.36zM1616.6 1531h4.07v5h-4.07zM1809.2 1531h1.36v5h-1.36zM248.6 1526h1.36v5h-1.36zM251.3 1526h1.36v5h-1.36zM452.0 1526h2.71v5h-2.71zM458.7 1526h2.71v5h-2.71zM468.2 1526h1.36v5h-1.36zM470.9 1526h1.36v5h-1.36zM1509.5 1526h1.36v5h-1.36zM1807.8 1526h1.36v5h-1.36zM249.9 1521h1.36v5h-1.36zM449.3 1521h2.71v5h-2.71zM461.5 1521h1.36v5h-1.36zM466.9 1521h1.36v5h-1.36zM472.3 1521h1.36v5h-1.36zM446.5 1516h2.71v5h-2.71zM461.5 1516h2.71v5h-2.71zM465.5 1516h1.36v5h-1.36zM473.7 1516h1.36v5h-1.36zM900.7 1516h1.36v5h-1.36zM1593.6 1516h1.36v5h-1.36zM1811.9 1516h1.36v5h-1.36zM235.0 1511h1.36v5h-1.36zM263.5 1511h2.71v5h-2.71zM445.2 1511h1.36v5h-1.36zM464.2 1511h1.36v5h-1.36zM475.0 1511h1.36v5h-1.36zM663.5 1511h1.36v5h-1.36zM262.1 1536h1.36v5h-1.36zM456.0 1536h2.71v5h-2.71zM899.4 1536h2.71v5h-2.71zM1594.9 1536h1.36v5h-1.36zM1613.9 1536h2.71v5h-2.71zM1620.7 1536h2.71v5h-2.71zM1626.1 1536h4.07v5h-4.07zM254.0 1561h1.36v5h-1.36zM259.4 1561h2.71v5h-2.71zM461.5 1561h1.36v5h-1.36zM460.1 1566h1.36v5h-1.36zM1600.4 1566h1.36v5h-1.36zM255.4 1571h1.36v5h-1.36zM258.1 1571h1.36v5h-1.36zM458.7 1571h2.71v5h-2.71zM1612.6 1571h1.36v5h-1.36zM1809.2 1571h1.36v5h-1.36zM456.0 1576h2.71v5h-2.71zM1607.1 1576h2.71v5h-2.71zM256.7 1581h2.71v5h-2.71zM453.3 1581h4.07v5h-4.07zM454.7 1586h1.36v5h-1.36zM1006.5 1586h1.36v5h-1.36zM1043.1 1586h2.71v5h-2.71zM452.0 1591h1.36v5h-1.36zM1005.1 1591h1.36v5h-1.36zM1799.7 1591h1.36v5h-1.36zM450.6 1596h4.07v5h-4.07zM270.3 1556h2.71v5h-2.71zM1512.2 1556h2.71v5h-2.71zM1599.0 1556h1.36v5h-1.36zM1797.0 1556h1.36v5h-1.36zM1597.6 1551h2.71v5h-2.71zM1596.3 1546h1.36v5h-1.36zM1600.4 1546h2.71v5h-2.71zM1607.1 1546h4.07v5h-4.07zM1798.3 1546h1.36v5h-1.36zM247.2 1541h1.36v5h-1.36zM252.7 1541h2.71v5h-2.71zM1510.9 1541h1.36v5h-1.36zM1596.3 1541h1.36v5h-1.36zM1603.1 1541h4.07v5h-4.07zM1611.2 1541h2.71v5h-2.71zM1623.4 1541h2.71v5h-2.71zM195.7 1381h1.36v5h-1.36zM202.5 1381h1.36v5h-1.36zM224.2 1381h1.36v5h-1.36zM262.1 1381h1.36v5h-1.36zM275.7 1381h1.36v5h-1.36zM1440.4 1381h1.36v5h-1.36zM1443.1 1381h1.36v5h-1.36zM324.5 1376h1.36v5h-1.36zM329.9 1376h1.36v5h-1.36zM249.9 1391h1.36v5h-1.36zM483.1 1391h1.36v5h-1.36zM1439.0 1391h1.36v5h-1.36zM1447.1 1391h1.36v5h-1.36zM252.7 1411h2.71v5h-2.71zM484.5 1411h1.36v5h-1.36zM903.5 1411h1.36v5h-1.36zM664.8 1461h2.71v5h-2.71zM1041.8 1461h1.36v5h-1.36zM1631.5 1461h1.36v5h-1.36zM480.4 1451h1.36v5h-1.36zM453.3 1611h1.36v5h-1.36zM569.9 1611h1.36v5h-1.36zM1121.7 1611h2.71v5h-2.71zM1504.1 1611h1.36v5h-1.36zM1506.8 1611h1.36v5h-1.36zM567.2 1616h2.71v5h-2.71zM1508.2 1616h1.36v5h-1.36zM564.5 1606h1.36v5h-1.36zM569.9 1606h1.36v5h-1.36zM659.4 1606h1.36v5h-1.36zM465.5 1621h1.36v5h-1.36zM454.7 1626h1.36v5h-1.36zM1502.7 1626h1.36v5h-1.36zM464.2 1631h1.36v5h-1.36zM456.0 1636h1.36v5h-1.36zM462.8 1636h1.36v5h-1.36zM1519.0 1636h2.71v5h-2.71zM457.4 1641h1.36v5h-1.36zM461.5 1641h1.36v5h-1.36zM457.4 1646h4.07v5h-4.07zM458.7 1651h1.36v5h-1.36zM270.3 1711h2.71v5h-2.71zM1144.8 1711h2.71v5h-2.71zM1425.5 1711h2.71v5h-2.71zM1144.8 1716h1.36v5h-1.36zM1173.3 1716h2.71v5h-2.71zM1032.3 1706h1.36v5h-1.36zM1147.5 1706h1.36v5h-1.36zM437.0 1701h1.36v5h-1.36zM1033.6 1701h1.36v5h-1.36zM1148.9 1701h1.36v5h-1.36zM1035.0 1696h1.36v5h-1.36zM1150.2 1696h1.36v5h-1.36zM1424.1 1696h1.36v5h-1.36zM1502.7 1696h1.36v5h-1.36zM1506.8 1696h1.36v5h-1.36zM403.2 1686h1.36v5h-1.36zM268.9 1681h1.36v5h-1.36zM1422.7 1681h2.71v5h-2.71zM1501.4 1681h2.71v5h-2.71zM404.5 1676h2.71v5h-2.71zM1421.4 1671h1.36v5h-1.36zM1500.0 1671h1.36v5h-1.36zM656.7 1666h2.71v5h-2.71zM1039.0 1756h5.42v5h-5.42zM1124.5 1756h1.36v5h-1.36zM1024.1 1766h2.71v5h-2.71zM1035.0 1766h1.36v5h-1.36zM1020.1 1771h4.07v5h-4.07zM1026.8 1771h1.36v5h-1.36zM1117.7 1771h2.71v5h-2.71zM1269.5 1771h1.36v5h-1.36zM1342.7 1771h1.36v5h-1.36zM1180.0 1776h9.49v5h-9.49zM1269.5 1776h1.36v5h-1.36zM1303.4 1776h1.36v5h-1.36zM1312.9 1776h9.49v5h-9.49zM1341.4 1776h1.36v5h-1.36zM1367.2 1776h1.36v5h-1.36zM1397.0 1776h4.07v5h-4.07zM1487.8 1776h4.07v5h-4.07zM1538.0 1776h6.78v5h-6.78zM1178.7 1781h1.36v5h-1.36zM1270.9 1781h1.36v5h-1.36zM1298.0 1781h5.42v5h-5.42zM1322.4 1781h1.36v5h-1.36zM1340.0 1781h2.71v5h-2.71zM1368.5 1781h2.71v5h-2.71zM1394.3 1781h4.07v5h-4.07zM1490.5 1781h2.71v5h-2.71zM1538.0 1781h1.36v5h-1.36zM1176.0 1786h2.71v5h-2.71zM1272.2 1786h9.49v5h-9.49zM1291.2 1786h6.78v5h-6.78zM1323.8 1786h1.36v5h-1.36zM1338.7 1786h1.36v5h-1.36zM1371.2 1786h1.36v5h-1.36zM1391.6 1786h2.71v5h-2.71zM1493.2 1786h2.71v5h-2.71zM1536.6 1786h1.36v5h-1.36zM658.1 1791h4.07v5h-4.07zM1176.0 1791h1.36v5h-1.36zM1281.7 1791h9.49v5h-9.49zM1372.6 1791h1.36v5h-1.36zM1390.2 1791h1.36v5h-1.36zM1496.0 1791h1.36v5h-1.36zM656.7 1796h1.36v5h-1.36zM662.1 1796h1.36v5h-1.36zM1167.8 1796h8.13v5h-8.13zM1337.3 1796h2.71v5h-2.71zM1497.3 1796h2.71v5h-2.71zM1509.5 1796h1.36v5h-1.36zM1519.0 1796h1.36v5h-1.36zM450.6 1601h1.36v5h-1.36zM565.9 1601h4.07v5h-4.07zM671.6 1761h2.71v5h-2.71zM1036.3 1761h2.71v5h-2.71zM1120.4 1761h1.36v5h-1.36zM590.3 1751h1.36v5h-1.36zM673.0 1751h1.36v5h-1.36zM1043.1 1751h1.36v5h-1.36zM1121.7 1751h2.71v5h-2.71zM1123.1 1746h1.36v5h-1.36zM1163.8 1746h1.36v5h-1.36zM1165.1 1741h1.36v5h-1.36zM1166.5 1736h1.36v5h-1.36zM1167.8 1731h2.71v5h-2.71zM1170.6 1726h1.36v5h-1.36zM309.6 1366h1.36v5h-1.36zM309.6 1361h1.36v5h-1.36zM408.6 1341h4.07v5h-4.07zM678.4 1341h6.78v5h-6.78zM686.5 1341h1.36v5h-1.36zM259.4 1336h1.36v5h-1.36zM683.8 1336h2.71v5h-2.71zM687.9 1336h2.71v5h-2.71zM683.8 1331h1.36v5h-1.36zM689.2 1331h2.71v5h-2.71zM359.8 1281h4.07v5h-4.07zM789.6 1281h1.36v5h-1.36zM796.3 1281h1.36v5h-1.36zM800.4 1281h1.36v5h-1.36zM918.4 1281h6.78v5h-6.78zM948.2 1281h4.07v5h-4.07zM965.8 1281h1.36v5h-1.36zM1071.6 1281h1.36v5h-1.36zM1077.0 1281h2.71v5h-2.71zM1289.9 1281h8.13v5h-8.13zM1300.7 1281h1.36v5h-1.36zM1348.2 1281h2.71v5h-2.71zM1384.8 1281h2.71v5h-2.71zM1550.2 1281h2.71v5h-2.71zM1647.8 1281h1.36v5h-1.36zM1687.1 1281h2.71v5h-2.71zM1693.9 1281h5.42v5h-5.42zM1756.3 1281h2.71v5h-2.71zM363.8 1276h4.07v5h-4.07zM771.9 1276h1.36v5h-1.36zM778.7 1276h1.36v5h-1.36zM785.5 1276h1.36v5h-1.36zM788.2 1276h1.36v5h-1.36zM797.7 1276h2.71v5h-2.71zM917.0 1276h1.36v5h-1.36zM925.1 1276h4.07v5h-4.07zM934.6 1276h13.56v5h-13.56zM952.3 1276h8.13v5h-8.13zM964.5 1276h1.36v5h-1.36zM976.7 1276h1.36v5h-1.36zM1298.0 1276h2.71v5h-2.71zM1350.9 1276h2.71v5h-2.71zM1383.4 1276h1.36v5h-1.36zM1649.2 1276h1.36v5h-1.36zM1653.2 1276h4.07v5h-4.07zM1677.6 1276h9.49v5h-9.49zM1689.8 1276h4.07v5h-4.07zM367.9 1271h2.71v5h-2.71zM773.3 1271h1.36v5h-1.36zM777.4 1271h1.36v5h-1.36zM785.5 1271h1.36v5h-1.36zM929.2 1271h1.36v5h-1.36zM933.3 1271h1.36v5h-1.36zM960.4 1271h4.07v5h-4.07zM978.0 1271h1.36v5h-1.36zM1353.6 1271h1.36v5h-1.36zM1382.1 1271h1.36v5h-1.36zM1650.5 1271h2.71v5h-2.71zM1657.3 1271h1.36v5h-1.36zM1669.5 1271h8.13v5h-8.13zM369.3 1266h1.36v5h-1.36zM774.7 1266h2.71v5h-2.71zM786.9 1266h1.36v5h-1.36zM930.6 1266h2.71v5h-2.71zM979.4 1266h1.36v5h-1.36zM1354.9 1266h1.36v5h-1.36zM1380.7 1266h1.36v5h-1.36zM1658.7 1266h12.20v5h-12.20zM1742.7 1266h2.71v5h-2.71zM370.6 1261h2.71v5h-2.71zM776.0 1261h1.36v5h-1.36zM785.5 1261h1.36v5h-1.36zM1356.3 1261h1.36v5h-1.36zM1378.0 1261h2.71v5h-2.71zM317.7 1326h1.36v5h-1.36zM691.9 1326h1.36v5h-1.36zM1733.2 1326h1.36v5h-1.36zM338.1 1316h1.36v5h-1.36zM338.1 1311h1.36v5h-1.36zM1359.0 1251h1.36v5h-1.36zM1376.6 1251h1.36v5h-1.36zM197.1 1206h1.36v5h-1.36zM1200.4 1206h2.71v5h-2.71zM1258.7 1206h2.71v5h-2.71zM1264.1 1206h2.71v5h-2.71zM1190.9 1211h2.71v5h-2.71zM1197.7 1211h2.71v5h-2.71zM1261.4 1211h2.71v5h-2.71zM1266.8 1211h5.42v5h-5.42zM599.8 1226h1.36v5h-1.36zM612.0 1226h1.36v5h-1.36zM621.4 1226h6.78v5h-6.78zM1383.4 1226h1.36v5h-1.36zM601.1 1221h2.71v5h-2.71zM609.2 1221h2.71v5h-2.71zM613.3 1221h2.71v5h-2.71zM618.7 1221h2.71v5h-2.71zM1188.2 1221h1.36v5h-1.36zM1195.0 1221h1.36v5h-1.36zM1268.2 1221h1.36v5h-1.36zM1387.5 1221h2.71v5h-2.71zM599.8 1231h1.36v5h-1.36zM603.8 1216h5.42v5h-5.42zM616.0 1216h2.71v5h-2.71zM1189.5 1216h1.36v5h-1.36zM1193.6 1216h1.36v5h-1.36zM1196.3 1216h1.36v5h-1.36zM1269.5 1216h1.36v5h-1.36zM338.1 1306h1.36v5h-1.36zM1719.7 1306h1.36v5h-1.36zM1203.1 1201h1.36v5h-1.36zM334.0 1301h1.36v5h-1.36zM1731.9 1301h1.36v5h-1.36zM1357.7 1256h1.36v5h-1.36zM1378.0 1256h1.36v5h-1.36zM1359.0 1246h1.36v5h-1.36zM1375.3 1246h1.36v5h-1.36zM1204.5 1196h1.36v5h-1.36zM1319.7 1286h1.36v5h-1.36zM1360.4 1236h1.36v5h-1.36zM1373.9 1236h1.36v5h-1.36zM283.8 1056h1.36v5h-1.36zM241.8 1061h1.36v5h-1.36zM274.4 1061h2.71v5h-2.71zM241.8 1066h1.36v5h-1.36zM221.5 1091h1.36v5h-1.36zM279.8 1091h1.36v5h-1.36zM293.3 1091h1.36v5h-1.36zM297.4 1091h1.36v5h-1.36zM297.4 1096h1.36v5h-1.36zM248.6 1026h2.71v5h-2.71zM248.6 1021h2.71v5h-2.71zM197.1 1126h1.36v5h-1.36zM193.0 1131h2.71v5h-2.71zM199.8 1186h2.71v5h-2.71zM199.8 1181h2.71v5h-2.71zM207.9 1181h1.36v5h-1.36zM304.2 1006h2.71v5h-2.71zM332.7 1011h1.36v5h-1.36zM335.4 1011h1.36v5h-1.36zM248.6 1016h2.71v5h-2.71zM225.5 1086h2.71v5h-2.71zM293.3 1086h1.36v5h-1.36z"/><path fill="#8fcb4e" d="M685.2 1381h1.36v5h-1.36zM732.6 1381h1.36v5h-1.36zM729.9 1376h1.36v5h-1.36zM696.0 1371h2.71v5h-2.71zM728.6 1371h1.36v5h-1.36zM698.7 1366h1.36v5h-1.36zM727.2 1366h1.36v5h-1.36zM700.1 1361h1.36v5h-1.36zM725.8 1361h1.36v5h-1.36zM701.4 1356h1.36v5h-1.36zM724.5 1356h1.36v5h-1.36zM701.4 1351h1.36v5h-1.36zM702.8 1346h1.36v5h-1.36zM723.1 1346h1.36v5h-1.36zM729.9 1341h1.36v5h-1.36zM1230.2 1341h1.36v5h-1.36zM1293.9 1341h2.71v5h-2.71zM1356.3 1341h16.27v5h-16.27zM1388.8 1341h1.36v5h-1.36zM728.6 1336h1.36v5h-1.36zM1231.6 1336h1.36v5h-1.36zM1372.6 1336h2.71v5h-2.71zM1384.8 1336h4.07v5h-4.07zM725.8 1331h2.71v5h-2.71zM1232.9 1331h2.71v5h-2.71zM1292.6 1331h1.36v5h-1.36zM1373.9 1331h10.85v5h-10.85zM693.3 1326h1.36v5h-1.36zM721.8 1326h4.07v5h-4.07zM1235.6 1326h2.71v5h-2.71zM1291.2 1326h1.36v5h-1.36zM693.3 1321h4.07v5h-4.07zM720.4 1321h2.71v5h-2.71zM1237.0 1321h2.71v5h-2.71zM1289.9 1321h1.36v5h-1.36zM697.4 1316h12.20v5h-12.20zM712.3 1316h9.49v5h-9.49zM1239.7 1316h2.71v5h-2.71zM1256.0 1316h16.27v5h-16.27zM1289.9 1316h1.36v5h-1.36zM708.2 1311h5.42v5h-5.42zM1241.1 1311h5.42v5h-5.42zM1254.6 1311h2.71v5h-2.71zM1272.2 1311h1.36v5h-1.36zM1288.5 1311h1.36v5h-1.36zM1246.5 1306h8.13v5h-8.13zM1288.5 1306h1.36v5h-1.36zM1285.8 1296h1.36v5h-1.36zM1273.6 1301h1.36v5h-1.36zM1287.2 1301h1.36v5h-1.36zM1275.0 1291h1.36v5h-1.36z"/><path fill="#c5c22a" d="M197.1 1446h1.36v5h-1.36zM202.5 1446h1.36v5h-1.36zM906.2 1446h2.71v5h-2.71zM1186.8 1446h2.71v5h-2.71zM1195.0 1446h1.36v5h-1.36zM1184.1 1441h2.71v5h-2.71zM1189.5 1441h5.42v5h-5.42zM1182.8 1436h1.36v5h-1.36zM1177.3 1426h2.71v5h-2.71zM1177.3 1421h1.36v5h-1.36zM1180.0 1431h2.71v5h-2.71zM671.6 1491h4.07v5h-4.07zM668.9 1486h2.71v5h-2.71zM1756.3 1486h16.27v5h-16.27zM1798.3 1486h1.36v5h-1.36zM667.5 1481h1.36v5h-1.36zM1740.0 1481h16.27v5h-16.27zM1771.2 1481h9.49v5h-9.49zM1797.0 1481h1.36v5h-1.36zM277.1 1476h1.36v5h-1.36zM666.2 1476h1.36v5h-1.36zM1738.6 1476h2.71v5h-2.71zM1780.7 1476h2.71v5h-2.71zM1792.9 1476h4.07v5h-4.07zM675.7 1496h1.36v5h-1.36zM549.6 1501h1.36v5h-1.36zM584.8 1501h1.36v5h-1.36zM902.1 1501h2.71v5h-2.71zM218.8 1531h2.71v5h-2.71zM1630.2 1531h14.91v5h-14.91zM1649.2 1531h1.36v5h-1.36zM1643.7 1526h5.42v5h-5.42zM220.1 1511h1.36v5h-1.36zM226.9 1511h2.71v5h-2.71zM222.8 1506h4.07v5h-4.07zM228.3 1506h1.36v5h-1.36zM1048.5 1506h1.36v5h-1.36zM235.0 1536h1.36v5h-1.36zM640.4 1561h1.36v5h-1.36zM666.2 1561h1.36v5h-1.36zM232.3 1571h1.36v5h-1.36zM437.0 1591h1.36v5h-1.36zM549.6 1591h1.36v5h-1.36zM997.0 1591h1.36v5h-1.36zM437.0 1596h2.71v5h-2.71zM549.6 1596h1.36v5h-1.36zM1421.4 1596h1.36v5h-1.36zM640.4 1556h1.36v5h-1.36zM667.5 1556h1.36v5h-1.36zM278.4 1551h2.71v5h-2.71zM639.1 1551h1.36v5h-1.36zM667.5 1551h1.36v5h-1.36zM217.4 1541h1.36v5h-1.36zM279.8 1541h1.36v5h-1.36zM232.3 1386h1.36v5h-1.36zM255.4 1386h1.36v5h-1.36zM323.2 1386h1.36v5h-1.36zM339.4 1386h1.36v5h-1.36zM369.3 1386h1.36v5h-1.36zM415.4 1386h2.71v5h-2.71zM682.5 1386h4.07v5h-4.07zM732.6 1386h4.07v5h-4.07zM804.5 1386h1.36v5h-1.36zM830.2 1386h1.36v5h-1.36zM1197.7 1386h1.36v5h-1.36zM1317.0 1386h2.71v5h-2.71zM1337.3 1386h6.78v5h-6.78zM1440.4 1386h1.36v5h-1.36zM1445.8 1386h1.36v5h-1.36zM1668.1 1386h2.71v5h-2.71zM1695.3 1386h1.36v5h-1.36zM370.6 1381h4.07v5h-4.07zM412.6 1381h4.07v5h-4.07zM686.5 1381h5.42v5h-5.42zM729.9 1381h2.71v5h-2.71zM819.4 1381h1.36v5h-1.36zM834.3 1381h1.36v5h-1.36zM861.4 1381h1.36v5h-1.36zM1199.0 1381h2.71v5h-2.71zM1228.9 1381h1.36v5h-1.36zM1318.3 1381h2.71v5h-2.71zM1334.6 1381h2.71v5h-2.71zM1441.7 1381h1.36v5h-1.36zM1444.4 1381h1.36v5h-1.36zM1672.2 1381h2.71v5h-2.71zM1689.8 1381h2.71v5h-2.71zM372.0 1376h2.71v5h-2.71zM411.3 1376h2.71v5h-2.71zM691.9 1376h4.07v5h-4.07zM728.6 1376h1.36v5h-1.36zM1318.3 1376h2.71v5h-2.71zM1333.3 1376h2.71v5h-2.71zM1443.1 1376h1.36v5h-1.36zM1171.9 1391h1.36v5h-1.36zM1195.0 1391h1.36v5h-1.36zM1231.6 1391h1.36v5h-1.36zM1698.0 1391h1.36v5h-1.36zM194.4 1396h1.36v5h-1.36zM1173.3 1396h1.36v5h-1.36zM1176.0 1411h1.36v5h-1.36zM275.7 1461h1.36v5h-1.36zM899.4 1461h2.71v5h-2.71zM1786.1 1461h1.36v5h-1.36zM1790.2 1461h1.36v5h-1.36zM1176.0 1416h1.36v5h-1.36zM1787.5 1456h2.71v5h-2.71zM1735.9 1466h2.71v5h-2.71zM1784.7 1466h1.36v5h-1.36zM1791.5 1466h1.36v5h-1.36zM1738.6 1471h1.36v5h-1.36zM1783.4 1471h1.36v5h-1.36zM1792.9 1471h1.36v5h-1.36zM1174.6 1401h1.36v5h-1.36zM898.0 1451h1.36v5h-1.36zM241.8 1611h2.71v5h-2.71zM247.2 1611h1.36v5h-1.36zM667.5 1611h2.71v5h-2.71zM673.0 1611h4.07v5h-4.07zM1181.4 1611h2.71v5h-2.71zM670.3 1616h2.71v5h-2.71zM754.3 1606h2.71v5h-2.71zM999.7 1606h1.36v5h-1.36zM1170.6 1621h2.71v5h-2.71zM256.7 1626h2.71v5h-2.71zM233.7 1631h2.71v5h-2.71zM1778.0 1631h1.36v5h-1.36zM1784.7 1631h1.36v5h-1.36zM239.1 1636h1.36v5h-1.36zM248.6 1641h2.71v5h-2.71zM1779.3 1641h2.71v5h-2.71zM1782.0 1646h1.36v5h-1.36zM239.1 1651h1.36v5h-1.36zM1783.4 1651h1.36v5h-1.36zM224.2 1661h1.36v5h-1.36zM236.4 1661h1.36v5h-1.36zM904.8 1711h1.36v5h-1.36zM636.4 1716h1.36v5h-1.36zM674.3 1716h1.36v5h-1.36zM987.5 1716h1.36v5h-1.36zM1195.0 1716h2.71v5h-2.71zM580.8 1706h1.36v5h-1.36zM1178.7 1706h1.36v5h-1.36zM1586.8 1706h2.71v5h-2.71zM1593.6 1706h2.71v5h-2.71zM1639.7 1706h2.71v5h-2.71zM888.5 1701h1.36v5h-1.36zM1180.0 1701h1.36v5h-1.36zM706.9 1696h5.42v5h-5.42zM887.2 1696h1.36v5h-1.36zM906.2 1696h2.71v5h-2.71zM1584.1 1696h1.36v5h-1.36zM1641.0 1696h1.36v5h-1.36zM704.1 1691h2.71v5h-2.71zM712.3 1691h1.36v5h-1.36zM1181.4 1691h1.36v5h-1.36zM1731.9 1691h1.36v5h-1.36zM701.4 1686h2.71v5h-2.71zM713.6 1686h1.36v5h-1.36zM729.9 1686h12.20v5h-12.20zM1182.8 1686h1.36v5h-1.36zM1524.4 1686h1.36v5h-1.36zM1584.1 1686h1.36v5h-1.36zM1642.4 1686h2.71v5h-2.71zM1729.2 1686h2.71v5h-2.71zM1733.2 1686h2.71v5h-2.71zM1782.0 1686h1.36v5h-1.36zM698.7 1681h2.71v5h-2.71zM728.6 1681h2.71v5h-2.71zM740.8 1681h8.13v5h-8.13zM1184.1 1681h1.36v5h-1.36zM1525.8 1681h1.36v5h-1.36zM1727.8 1681h1.36v5h-1.36zM696.0 1676h2.71v5h-2.71zM715.0 1676h1.36v5h-1.36zM727.2 1676h1.36v5h-1.36zM748.9 1676h1.36v5h-1.36zM1185.5 1676h1.36v5h-1.36zM1527.1 1676h1.36v5h-1.36zM1582.7 1676h1.36v5h-1.36zM1643.7 1676h1.36v5h-1.36zM1735.9 1676h1.36v5h-1.36zM693.3 1671h4.07v5h-4.07zM715.0 1671h1.36v5h-1.36zM725.8 1671h1.36v5h-1.36zM750.2 1671h1.36v5h-1.36zM990.2 1671h4.07v5h-4.07zM1186.8 1671h1.36v5h-1.36zM1523.1 1671h1.36v5h-1.36zM1528.5 1671h2.71v5h-2.71zM1581.4 1671h1.36v5h-1.36zM1726.4 1671h1.36v5h-1.36zM229.6 1666h2.71v5h-2.71zM249.9 1666h1.36v5h-1.36zM254.0 1666h1.36v5h-1.36zM637.7 1666h1.36v5h-1.36zM724.5 1666h1.36v5h-1.36zM751.6 1666h1.36v5h-1.36zM1186.8 1666h1.36v5h-1.36zM1529.9 1666h5.42v5h-5.42zM1580.0 1666h1.36v5h-1.36zM1645.1 1666h1.36v5h-1.36zM1726.4 1666h1.36v5h-1.36zM1735.9 1666h1.36v5h-1.36zM887.2 1756h1.36v5h-1.36zM998.4 1756h1.36v5h-1.36zM1432.2 1756h1.36v5h-1.36zM1439.0 1756h1.36v5h-1.36zM1527.1 1756h2.71v5h-2.71zM889.9 1766h1.36v5h-1.36zM1001.1 1766h1.36v5h-1.36zM1417.3 1766h1.36v5h-1.36zM1430.9 1766h1.36v5h-1.36zM1437.7 1766h1.36v5h-1.36zM1525.8 1766h1.36v5h-1.36zM1002.4 1771h1.36v5h-1.36zM1432.2 1771h1.36v5h-1.36zM1574.6 1771h1.36v5h-1.36zM598.4 1776h6.78v5h-6.78zM626.9 1776h8.13v5h-8.13zM690.6 1776h28.47v5h-28.47zM814.0 1776h13.56v5h-13.56zM903.5 1776h9.49v5h-9.49zM1203.1 1776h21.69v5h-21.69zM1226.1 1776h8.13v5h-8.13zM1410.5 1776h8.13v5h-8.13zM1557.0 1776h9.49v5h-9.49zM594.3 1781h4.07v5h-4.07zM635.0 1781h2.71v5h-2.71zM689.2 1781h2.71v5h-2.71zM827.5 1781h6.78v5h-6.78zM894.0 1781h5.42v5h-5.42zM900.7 1781h2.71v5h-2.71zM1418.7 1781h14.91v5h-14.91zM1565.1 1781h4.07v5h-4.07zM591.6 1786h2.71v5h-2.71zM637.7 1786h2.71v5h-2.71zM683.8 1786h5.42v5h-5.42zM834.3 1786h6.78v5h-6.78zM891.3 1786h2.71v5h-2.71zM899.4 1786h1.36v5h-1.36zM1569.2 1786h2.71v5h-2.71zM560.4 1791h8.13v5h-8.13zM588.9 1791h2.71v5h-2.71zM640.4 1791h2.71v5h-2.71zM682.5 1791h1.36v5h-1.36zM841.1 1791h14.91v5h-14.91zM889.9 1791h1.36v5h-1.36zM1571.9 1791h1.36v5h-1.36zM1615.3 1791h6.78v5h-6.78zM557.7 1796h2.71v5h-2.71zM568.6 1796h6.78v5h-6.78zM586.2 1796h2.71v5h-2.71zM643.1 1796h5.42v5h-5.42zM856.0 1796h5.42v5h-5.42zM883.1 1796h1.36v5h-1.36zM888.5 1796h2.71v5h-2.71zM1573.2 1796h2.71v5h-2.71zM1600.4 1796h14.91v5h-14.91zM1622.0 1796h8.13v5h-8.13zM438.4 1601h1.36v5h-1.36zM550.9 1601h1.36v5h-1.36zM998.4 1601h1.36v5h-1.36zM1421.4 1601h1.36v5h-1.36zM1584.1 1601h1.36v5h-1.36zM888.5 1761h1.36v5h-1.36zM999.7 1761h1.36v5h-1.36zM1432.2 1761h1.36v5h-1.36zM1434.9 1761h2.71v5h-2.71zM1439.0 1761h1.36v5h-1.36zM884.5 1751h2.71v5h-2.71zM997.0 1751h1.36v5h-1.36zM1418.7 1751h1.36v5h-1.36zM1421.4 1751h1.36v5h-1.36zM1433.6 1751h1.36v5h-1.36zM1440.4 1751h1.36v5h-1.36zM881.8 1746h2.71v5h-2.71zM997.0 1746h1.36v5h-1.36zM1441.7 1746h1.36v5h-1.36zM594.3 1741h1.36v5h-1.36zM880.4 1741h2.71v5h-2.71zM995.7 1741h1.36v5h-1.36zM1044.5 1741h1.36v5h-1.36zM1326.5 1741h1.36v5h-1.36zM1528.5 1741h1.36v5h-1.36zM879.1 1736h1.36v5h-1.36zM994.3 1736h1.36v5h-1.36zM1326.5 1736h1.36v5h-1.36zM1421.4 1736h1.36v5h-1.36zM1443.1 1736h1.36v5h-1.36zM593.0 1731h2.71v5h-2.71zM674.3 1731h1.36v5h-1.36zM835.7 1731h2.71v5h-2.71zM992.9 1731h1.36v5h-1.36zM1529.9 1731h2.71v5h-2.71zM542.8 1721h1.36v5h-1.36zM847.9 1721h2.71v5h-2.71zM990.2 1721h1.36v5h-1.36zM1197.7 1721h5.42v5h-5.42zM1215.3 1721h1.36v5h-1.36zM1327.8 1721h1.36v5h-1.36zM1445.8 1721h2.71v5h-2.71zM1531.2 1721h1.36v5h-1.36zM530.6 1726h2.71v5h-2.71zM633.6 1726h2.71v5h-2.71zM991.6 1726h1.36v5h-1.36zM1045.8 1726h1.36v5h-1.36zM1203.1 1726h12.20v5h-12.20zM1327.8 1726h1.36v5h-1.36zM374.7 1371h1.36v5h-1.36zM408.6 1371h2.71v5h-2.71zM1321.1 1371h1.36v5h-1.36zM1333.3 1371h1.36v5h-1.36zM376.0 1366h1.36v5h-1.36zM407.2 1366h1.36v5h-1.36zM1322.4 1366h1.36v5h-1.36zM1331.9 1366h1.36v5h-1.36zM377.4 1361h1.36v5h-1.36zM405.9 1361h1.36v5h-1.36zM1323.8 1361h8.13v5h-8.13zM378.7 1356h1.36v5h-1.36zM404.5 1356h1.36v5h-1.36zM380.1 1351h2.71v5h-2.71zM403.2 1351h1.36v5h-1.36zM381.5 1346h2.71v5h-2.71zM401.8 1346h1.36v5h-1.36zM384.2 1341h8.13v5h-8.13zM396.4 1341h5.42v5h-5.42zM1737.3 1341h1.36v5h-1.36zM392.3 1336h1.36v5h-1.36zM395.0 1336h1.36v5h-1.36zM403.2 1336h2.71v5h-2.71zM393.7 1331h1.36v5h-1.36z"/><path fill="#e6bb2d" d="M819.4 1386h10.85v5h-10.85zM865.5 1386h2.71v5h-2.71zM933.3 1386h1.36v5h-1.36zM965.8 1386h1.36v5h-1.36zM1195.0 1386h2.71v5h-2.71zM1231.6 1386h1.36v5h-1.36zM1664.1 1386h4.07v5h-4.07zM1696.6 1386h2.71v5h-2.71zM830.2 1381h4.07v5h-4.07zM862.8 1381h2.71v5h-2.71zM936.0 1381h1.36v5h-1.36zM961.8 1381h1.36v5h-1.36zM1197.7 1381h1.36v5h-1.36zM1230.2 1381h2.71v5h-2.71zM1668.1 1381h4.07v5h-4.07zM1692.6 1381h4.07v5h-4.07zM834.3 1376h4.07v5h-4.07zM858.7 1376h4.07v5h-4.07zM942.8 1376h2.71v5h-2.71zM957.7 1376h1.36v5h-1.36zM1199.0 1376h4.07v5h-4.07zM1227.5 1376h2.71v5h-2.71zM1672.2 1376h6.78v5h-6.78zM1688.5 1376h4.07v5h-4.07zM838.4 1371h2.71v5h-2.71zM857.4 1371h2.71v5h-2.71zM1201.7 1371h2.71v5h-2.71zM1227.5 1371h1.36v5h-1.36zM1679.0 1371h9.49v5h-9.49zM841.1 1366h2.71v5h-2.71zM854.6 1366h2.71v5h-2.71zM1204.5 1366h2.71v5h-2.71zM1226.1 1366h1.36v5h-1.36zM843.8 1361h6.78v5h-6.78zM853.3 1361h1.36v5h-1.36zM1207.2 1361h1.36v5h-1.36zM1224.8 1361h1.36v5h-1.36zM850.6 1356h2.71v5h-2.71zM1208.5 1356h2.71v5h-2.71zM1223.4 1356h1.36v5h-1.36zM1211.2 1351h1.36v5h-1.36zM1223.4 1351h1.36v5h-1.36zM1212.6 1346h1.36v5h-1.36zM1222.1 1346h1.36v5h-1.36z"/><path fill="#fec338" d="M294.7 1446h10.85v5h-10.85zM309.6 1446h8.13v5h-8.13zM320.4 1446h4.07v5h-4.07zM351.6 1446h1.36v5h-1.36zM515.7 1446h12.20v5h-12.20zM574.0 1446h1.36v5h-1.36zM578.1 1446h23.05v5h-23.05zM606.5 1446h13.56v5h-13.56zM706.9 1446h1.36v5h-1.36zM725.8 1446h8.13v5h-8.13zM781.4 1446h21.69v5h-21.69zM828.9 1446h1.36v5h-1.36zM1060.7 1446h25.76v5h-25.76zM1237.0 1446h1.36v5h-1.36zM1310.2 1446h1.36v5h-1.36zM1338.7 1446h5.42v5h-5.42zM1399.7 1446h6.78v5h-6.78zM1459.3 1446h16.27v5h-16.27zM1532.6 1446h33.90v5h-33.90zM1645.1 1446h1.36v5h-1.36zM1748.1 1446h12.20v5h-12.20zM305.5 1441h4.07v5h-4.07zM317.7 1441h2.71v5h-2.71zM324.5 1441h1.36v5h-1.36zM344.9 1441h6.78v5h-6.78zM492.6 1441h23.05v5h-23.05zM575.3 1441h2.71v5h-2.71zM601.1 1441h6.78v5h-6.78zM724.5 1441h1.36v5h-1.36zM803.1 1441h2.71v5h-2.71zM826.2 1441h2.71v5h-2.71zM1238.3 1441h1.36v5h-1.36zM1307.5 1441h2.71v5h-2.71zM1344.1 1441h5.42v5h-5.42zM1353.6 1441h1.36v5h-1.36zM1391.6 1441h8.13v5h-8.13zM325.9 1436h1.36v5h-1.36zM343.5 1436h1.36v5h-1.36zM491.3 1436h1.36v5h-1.36zM708.2 1436h1.36v5h-1.36zM805.8 1436h2.71v5h-2.71zM823.5 1436h2.71v5h-2.71zM1239.7 1436h1.36v5h-1.36zM1303.4 1436h4.07v5h-4.07zM1349.5 1436h13.56v5h-13.56zM1384.8 1436h8.13v5h-8.13zM327.2 1426h10.85v5h-10.85zM339.4 1426h2.71v5h-2.71zM487.2 1426h2.71v5h-2.71zM709.6 1426h1.36v5h-1.36zM811.3 1426h8.13v5h-8.13zM1242.4 1426h1.36v5h-1.36zM1293.9 1426h5.42v5h-5.42zM1365.8 1426h17.63v5h-17.63zM336.7 1421h2.71v5h-2.71zM487.2 1421h1.36v5h-1.36zM721.8 1421h1.36v5h-1.36zM1243.8 1421h2.71v5h-2.71zM1264.1 1421h29.83v5h-29.83zM342.1 1431h1.36v5h-1.36zM489.9 1431h1.36v5h-1.36zM723.1 1431h2.71v5h-2.71zM808.5 1431h2.71v5h-2.71zM819.4 1431h4.07v5h-4.07zM1241.1 1431h1.36v5h-1.36zM1299.4 1431h4.07v5h-4.07zM1363.1 1431h2.71v5h-2.71zM1383.4 1431h1.36v5h-1.36zM195.7 1491h2.71v5h-2.71zM203.8 1491h2.71v5h-2.71zM277.1 1491h1.36v5h-1.36zM313.7 1491h1.36v5h-1.36zM346.2 1491h5.42v5h-5.42zM374.7 1491h4.07v5h-4.07zM523.8 1491h12.20v5h-12.20zM582.1 1491h1.36v5h-1.36zM614.7 1491h14.91v5h-14.91zM748.9 1491h1.36v5h-1.36zM780.1 1491h10.85v5h-10.85zM862.8 1491h12.20v5h-12.20zM904.8 1491h25.76v5h-25.76zM1054.0 1491h42.03v5h-42.03zM1186.8 1491h25.76v5h-25.76zM1226.1 1491h4.07v5h-4.07zM1293.9 1491h10.85v5h-10.85zM1348.2 1491h5.42v5h-5.42zM1444.4 1491h33.90v5h-33.90zM1569.2 1491h1.36v5h-1.36zM1634.3 1491h2.71v5h-2.71zM278.4 1486h4.07v5h-4.07zM287.9 1486h25.76v5h-25.76zM350.3 1486h4.07v5h-4.07zM373.3 1486h1.36v5h-1.36zM523.8 1486h1.36v5h-1.36zM583.5 1486h2.71v5h-2.71zM614.7 1486h1.36v5h-1.36zM750.2 1486h1.36v5h-1.36zM777.4 1486h2.71v5h-2.71zM873.6 1486h8.13v5h-8.13zM904.8 1486h1.36v5h-1.36zM929.2 1486h1.36v5h-1.36zM1303.4 1486h1.36v5h-1.36zM1345.5 1486h4.07v5h-4.07zM1555.6 1486h14.91v5h-14.91zM1634.3 1486h1.36v5h-1.36zM1645.1 1486h17.63v5h-17.63zM1700.7 1486h16.27v5h-16.27zM281.1 1481h6.78v5h-6.78zM354.3 1481h18.98v5h-18.98zM498.1 1481h25.76v5h-25.76zM586.2 1481h29.83v5h-29.83zM773.3 1481h4.07v5h-4.07zM881.8 1481h2.71v5h-2.71zM903.5 1481h1.36v5h-1.36zM929.2 1481h61.01v5h-61.01zM1303.4 1481h10.85v5h-10.85zM1341.4 1481h4.07v5h-4.07zM1531.2 1481h25.76v5h-25.76zM1661.4 1481h40.67v5h-40.67zM1717.0 1481h1.36v5h-1.36zM285.2 1476h1.36v5h-1.36zM496.7 1476h1.36v5h-1.36zM751.6 1476h1.36v5h-1.36zM771.9 1476h1.36v5h-1.36zM884.5 1476h2.71v5h-2.71zM902.1 1476h1.36v5h-1.36zM988.9 1476h4.07v5h-4.07zM1314.3 1476h1.36v5h-1.36zM1340.0 1476h1.36v5h-1.36zM1528.5 1476h2.71v5h-2.71zM1717.0 1476h1.36v5h-1.36zM315.0 1496h1.36v5h-1.36zM342.1 1496h4.07v5h-4.07zM377.4 1496h1.36v5h-1.36zM536.0 1496h8.13v5h-8.13zM580.8 1496h1.36v5h-1.36zM628.2 1496h9.49v5h-9.49zM748.9 1496h1.36v5h-1.36zM790.9 1496h6.78v5h-6.78zM826.2 1496h17.63v5h-17.63zM857.4 1496h5.42v5h-5.42zM906.2 1496h1.36v5h-1.36zM941.4 1496h1.36v5h-1.36zM959.0 1496h1.36v5h-1.36zM1052.6 1496h1.36v5h-1.36zM1094.6 1496h5.42v5h-5.42zM1102.8 1496h1.36v5h-1.36zM1177.3 1496h1.36v5h-1.36zM1186.8 1496h1.36v5h-1.36zM1212.6 1496h14.91v5h-14.91zM1228.9 1496h9.49v5h-9.49zM1264.1 1496h14.91v5h-14.91zM1293.9 1496h1.36v5h-1.36zM1353.6 1496h4.07v5h-4.07zM1390.2 1496h20.34v5h-20.34zM1422.7 1496h1.36v5h-1.36zM1443.1 1496h1.36v5h-1.36zM1447.1 1496h1.36v5h-1.36zM1477.0 1496h8.13v5h-8.13zM1569.2 1496h8.13v5h-8.13zM1585.4 1496h1.36v5h-1.36zM1635.6 1496h9.49v5h-9.49zM1691.2 1496h1.36v5h-1.36zM325.9 1501h2.71v5h-2.71zM340.8 1501h1.36v5h-1.36zM365.2 1501h2.71v5h-2.71zM384.2 1501h1.36v5h-1.36zM434.3 1501h2.71v5h-2.71zM807.2 1501h1.36v5h-1.36zM820.8 1501h2.71v5h-2.71zM843.8 1501h16.27v5h-16.27zM907.5 1501h1.36v5h-1.36zM941.4 1501h1.36v5h-1.36zM960.4 1501h1.36v5h-1.36zM1102.8 1501h1.36v5h-1.36zM1177.3 1501h1.36v5h-1.36zM1209.9 1501h2.71v5h-2.71zM1227.5 1501h1.36v5h-1.36zM1243.8 1501h10.85v5h-10.85zM1421.4 1501h2.71v5h-2.71zM1447.1 1501h1.36v5h-1.36zM1584.1 1501h1.36v5h-1.36zM1670.9 1501h1.36v5h-1.36zM1692.6 1501h1.36v5h-1.36zM195.7 1531h2.71v5h-2.71zM281.1 1531h1.36v5h-1.36zM283.8 1531h35.25v5h-35.25zM395.0 1531h4.07v5h-4.07zM422.1 1531h4.07v5h-4.07zM506.2 1531h37.96v5h-37.96zM597.0 1531h36.61v5h-36.61zM766.5 1531h35.25v5h-35.25zM877.7 1531h4.07v5h-4.07zM975.3 1531h4.07v5h-4.07zM1056.7 1531h31.18v5h-31.18zM1264.1 1531h2.71v5h-2.71zM1302.1 1531h14.91v5h-14.91zM1337.3 1531h21.69v5h-21.69zM1391.6 1531h24.40v5h-24.40zM1470.2 1531h21.69v5h-21.69zM1533.9 1531h35.25v5h-35.25zM1708.8 1531h6.78v5h-6.78zM1735.9 1531h33.90v5h-33.90zM282.5 1526h1.36v5h-1.36zM319.1 1526h2.71v5h-2.71zM351.6 1526h2.71v5h-2.71zM392.3 1526h2.71v5h-2.71zM426.2 1526h2.71v5h-2.71zM544.2 1526h1.36v5h-1.36zM591.6 1526h5.42v5h-5.42zM801.8 1526h1.36v5h-1.36zM873.6 1526h4.07v5h-4.07zM922.4 1526h2.71v5h-2.71zM971.2 1526h4.07v5h-4.07zM1054.0 1526h2.71v5h-2.71zM1086.5 1526h10.85v5h-10.85zM1188.2 1526h2.71v5h-2.71zM1261.4 1526h2.71v5h-2.71zM1315.6 1526h2.71v5h-2.71zM1334.6 1526h2.71v5h-2.71zM1359.0 1526h6.78v5h-6.78zM1384.8 1526h8.13v5h-8.13zM1416.0 1526h1.36v5h-1.36zM1456.6 1526h13.56v5h-13.56zM1491.9 1526h9.49v5h-9.49zM1569.2 1526h8.13v5h-8.13zM1650.5 1526h10.85v5h-10.85zM1703.4 1526h5.42v5h-5.42zM321.8 1521h1.36v5h-1.36zM347.6 1521h4.07v5h-4.07zM354.3 1521h2.71v5h-2.71zM389.6 1521h2.71v5h-2.71zM428.9 1521h2.71v5h-2.71zM545.5 1521h1.36v5h-1.36zM588.9 1521h2.71v5h-2.71zM803.1 1521h1.36v5h-1.36zM828.9 1521h4.07v5h-4.07zM869.6 1521h4.07v5h-4.07zM912.9 1521h9.49v5h-9.49zM925.1 1521h9.49v5h-9.49zM968.5 1521h2.71v5h-2.71zM1051.2 1521h2.71v5h-2.71zM1097.3 1521h1.36v5h-1.36zM1184.1 1521h4.07v5h-4.07zM1190.9 1521h10.85v5h-10.85zM1258.7 1521h2.71v5h-2.71zM1318.3 1521h2.71v5h-2.71zM1333.3 1521h1.36v5h-1.36zM1365.8 1521h1.36v5h-1.36zM1382.1 1521h2.71v5h-2.71zM1417.3 1521h1.36v5h-1.36zM1452.6 1521h4.07v5h-4.07zM1500.0 1521h2.71v5h-2.71zM1577.3 1521h1.36v5h-1.36zM1660.0 1521h2.71v5h-2.71zM1700.7 1521h2.71v5h-2.71zM323.2 1516h1.36v5h-1.36zM344.9 1516h2.71v5h-2.71zM357.1 1516h4.07v5h-4.07zM388.2 1516h1.36v5h-1.36zM431.6 1516h1.36v5h-1.36zM546.9 1516h1.36v5h-1.36zM587.5 1516h1.36v5h-1.36zM804.5 1516h1.36v5h-1.36zM826.2 1516h2.71v5h-2.71zM833.0 1516h5.42v5h-5.42zM866.8 1516h2.71v5h-2.71zM910.2 1516h2.71v5h-2.71zM934.6 1516h2.71v5h-2.71zM965.8 1516h2.71v5h-2.71zM1049.9 1516h1.36v5h-1.36zM1098.7 1516h1.36v5h-1.36zM1181.4 1516h2.71v5h-2.71zM1201.7 1516h1.36v5h-1.36zM1257.3 1516h1.36v5h-1.36zM1321.1 1516h2.71v5h-2.71zM1330.5 1516h2.71v5h-2.71zM1367.2 1516h2.71v5h-2.71zM1379.4 1516h2.71v5h-2.71zM1418.7 1516h1.36v5h-1.36zM1451.2 1516h1.36v5h-1.36zM1502.7 1516h1.36v5h-1.36zM1578.7 1516h2.71v5h-2.71zM1662.7 1516h4.07v5h-4.07zM1696.6 1516h4.07v5h-4.07zM324.5 1511h1.36v5h-1.36zM342.1 1511h2.71v5h-2.71zM361.1 1511h4.07v5h-4.07zM385.5 1511h4.07v5h-4.07zM433.0 1511h1.36v5h-1.36zM548.2 1511h1.36v5h-1.36zM586.2 1511h1.36v5h-1.36zM805.8 1511h1.36v5h-1.36zM823.5 1511h2.71v5h-2.71zM838.4 1511h2.71v5h-2.71zM862.8 1511h4.07v5h-4.07zM910.2 1511h1.36v5h-1.36zM937.4 1511h2.71v5h-2.71zM964.5 1511h1.36v5h-1.36zM1049.9 1511h1.36v5h-1.36zM1100.1 1511h1.36v5h-1.36zM1180.0 1511h1.36v5h-1.36zM1203.1 1511h4.07v5h-4.07zM1232.9 1511h10.85v5h-10.85zM1254.6 1511h2.71v5h-2.71zM1323.8 1511h8.13v5h-8.13zM1369.9 1511h10.85v5h-10.85zM1420.0 1511h1.36v5h-1.36zM1448.5 1511h2.71v5h-2.71zM1504.1 1511h6.78v5h-6.78zM1581.4 1511h2.71v5h-2.71zM1666.8 1511h2.71v5h-2.71zM1695.3 1511h1.36v5h-1.36zM324.5 1506h1.36v5h-1.36zM363.8 1506h2.71v5h-2.71zM385.5 1506h1.36v5h-1.36zM433.0 1506h1.36v5h-1.36zM548.2 1506h1.36v5h-1.36zM586.2 1506h1.36v5h-1.36zM807.2 1506h1.36v5h-1.36zM841.1 1506h2.71v5h-2.71zM858.7 1506h4.07v5h-4.07zM907.5 1506h2.71v5h-2.71zM938.7 1506h2.71v5h-2.71zM961.8 1506h2.71v5h-2.71zM1101.4 1506h1.36v5h-1.36zM1178.7 1506h1.36v5h-1.36zM1207.2 1506h4.07v5h-4.07zM1228.9 1506h4.07v5h-4.07zM1243.8 1506h1.36v5h-1.36zM1253.3 1506h1.36v5h-1.36zM1421.4 1506h1.36v5h-1.36zM1582.7 1506h1.36v5h-1.36zM1669.5 1506h1.36v5h-1.36zM1693.9 1506h1.36v5h-1.36zM399.1 1536h23.05v5h-23.05zM496.7 1536h10.85v5h-10.85zM633.6 1536h2.71v5h-2.71zM765.2 1536h1.36v5h-1.36zM881.8 1536h2.71v5h-2.71zM979.4 1536h6.78v5h-6.78zM1266.8 1536h4.07v5h-4.07zM1298.0 1536h4.07v5h-4.07zM1531.2 1536h2.71v5h-2.71zM1715.6 1536h5.42v5h-5.42zM1733.2 1536h2.71v5h-2.71zM1769.8 1536h2.71v5h-2.71zM216.0 1561h1.36v5h-1.36zM290.6 1561h1.36v5h-1.36zM632.3 1561h1.36v5h-1.36zM677.0 1561h1.36v5h-1.36zM693.3 1561h9.49v5h-9.49zM754.3 1561h1.36v5h-1.36zM762.4 1561h1.36v5h-1.36zM885.8 1561h1.36v5h-1.36zM911.6 1561h2.71v5h-2.71zM991.6 1561h1.36v5h-1.36zM1185.5 1561h1.36v5h-1.36zM1272.2 1561h2.71v5h-2.71zM1298.0 1561h1.36v5h-1.36zM1491.9 1561h1.36v5h-1.36zM1527.1 1561h1.36v5h-1.36zM1533.9 1561h1.36v5h-1.36zM1643.7 1561h2.71v5h-2.71zM1779.3 1561h1.36v5h-1.36zM292.0 1566h5.42v5h-5.42zM391.0 1566h33.90v5h-33.90zM629.6 1566h2.71v5h-2.71zM678.4 1566h14.91v5h-14.91zM884.5 1566h2.71v5h-2.71zM914.3 1566h1.36v5h-1.36zM1045.8 1566h12.20v5h-12.20zM1186.8 1566h1.36v5h-1.36zM1269.5 1566h2.71v5h-2.71zM1299.4 1566h1.36v5h-1.36zM1489.2 1566h2.71v5h-2.71zM1535.3 1566h2.71v5h-2.71zM1646.5 1566h1.36v5h-1.36zM1711.5 1566h1.36v5h-1.36zM296.0 1571h4.07v5h-4.07zM343.5 1571h6.78v5h-6.78zM386.9 1571h4.07v5h-4.07zM424.8 1571h1.36v5h-1.36zM536.0 1571h9.49v5h-9.49zM625.5 1571h4.07v5h-4.07zM767.9 1571h14.91v5h-14.91zM881.8 1571h2.71v5h-2.71zM915.7 1571h13.56v5h-13.56zM1056.7 1571h6.78v5h-6.78zM1188.2 1571h1.36v5h-1.36zM1265.5 1571h4.07v5h-4.07zM1300.7 1571h12.20v5h-12.20zM1341.4 1571h2.71v5h-2.71zM1401.0 1571h9.49v5h-9.49zM1462.1 1571h6.78v5h-6.78zM1474.3 1571h16.27v5h-16.27zM1536.6 1571h16.27v5h-16.27zM1563.7 1571h6.78v5h-6.78zM1647.8 1571h14.91v5h-14.91zM1704.8 1571h6.78v5h-6.78zM1712.9 1571h1.36v5h-1.36zM1741.4 1571h13.56v5h-13.56zM1763.1 1571h9.49v5h-9.49zM1778.0 1571h1.36v5h-1.36zM300.1 1576h18.98v5h-18.98zM340.8 1576h2.71v5h-2.71zM350.3 1576h12.20v5h-12.20zM384.2 1576h2.71v5h-2.71zM426.2 1576h1.36v5h-1.36zM496.7 1576h39.32v5h-39.32zM544.2 1576h2.71v5h-2.71zM593.0 1576h32.54v5h-32.54zM766.5 1576h1.36v5h-1.36zM781.4 1576h27.12v5h-27.12zM879.1 1576h4.07v5h-4.07zM927.9 1576h10.85v5h-10.85zM972.6 1576h8.13v5h-8.13zM1044.5 1576h1.36v5h-1.36zM1062.1 1576h29.83v5h-29.83zM1189.5 1576h1.36v5h-1.36zM1264.1 1576h1.36v5h-1.36zM1312.9 1576h1.36v5h-1.36zM1338.7 1576h2.71v5h-2.71zM1342.7 1576h2.71v5h-2.71zM1353.6 1576h5.42v5h-5.42zM1395.6 1576h6.78v5h-6.78zM1410.5 1576h6.78v5h-6.78zM1451.2 1576h10.85v5h-10.85zM1468.8 1576h6.78v5h-6.78zM1552.9 1576h10.85v5h-10.85zM1570.5 1576h1.36v5h-1.36zM1662.7 1576h1.36v5h-1.36zM1693.9 1576h12.20v5h-12.20zM1714.2 1576h1.36v5h-1.36zM1740.0 1576h1.36v5h-1.36zM1753.6 1576h9.49v5h-9.49zM1771.2 1576h8.13v5h-8.13zM195.7 1581h2.71v5h-2.71zM317.7 1581h4.07v5h-4.07zM339.4 1581h2.71v5h-2.71zM362.5 1581h1.36v5h-1.36zM382.8 1581h1.36v5h-1.36zM427.6 1581h2.71v5h-2.71zM496.7 1581h1.36v5h-1.36zM546.9 1581h1.36v5h-1.36zM591.6 1581h1.36v5h-1.36zM766.5 1581h1.36v5h-1.36zM808.5 1581h1.36v5h-1.36zM876.3 1581h4.07v5h-4.07zM972.6 1581h1.36v5h-1.36zM979.4 1581h1.36v5h-1.36zM1190.9 1581h1.36v5h-1.36zM1264.1 1581h1.36v5h-1.36zM1314.3 1581h1.36v5h-1.36zM1337.3 1581h1.36v5h-1.36zM1345.5 1581h2.71v5h-2.71zM1352.2 1581h1.36v5h-1.36zM1359.0 1581h1.36v5h-1.36zM1417.3 1581h1.36v5h-1.36zM1449.9 1581h1.36v5h-1.36zM1571.9 1581h4.07v5h-4.07zM1664.1 1581h2.71v5h-2.71zM1691.2 1581h2.71v5h-2.71zM1715.6 1581h1.36v5h-1.36zM1738.6 1581h1.36v5h-1.36zM320.4 1586h6.78v5h-6.78zM338.1 1586h1.36v5h-1.36zM363.8 1586h4.07v5h-4.07zM378.7 1586h4.07v5h-4.07zM428.9 1586h1.36v5h-1.36zM489.9 1586h6.78v5h-6.78zM548.2 1586h1.36v5h-1.36zM590.3 1586h1.36v5h-1.36zM753.0 1586h1.36v5h-1.36zM765.2 1586h1.36v5h-1.36zM808.5 1586h4.07v5h-4.07zM818.0 1586h10.85v5h-10.85zM872.3 1586h5.42v5h-5.42zM938.7 1586h4.07v5h-4.07zM964.5 1586h9.49v5h-9.49zM979.4 1586h14.91v5h-14.91zM1091.9 1586h4.07v5h-4.07zM1192.2 1586h10.85v5h-10.85zM1262.8 1586h1.36v5h-1.36zM1315.6 1586h1.36v5h-1.36zM1336.0 1586h1.36v5h-1.36zM1346.8 1586h6.78v5h-6.78zM1360.4 1586h1.36v5h-1.36zM1387.5 1586h8.13v5h-8.13zM1417.3 1586h2.71v5h-2.71zM1447.1 1586h2.71v5h-2.71zM1575.9 1586h6.78v5h-6.78zM1665.4 1586h10.85v5h-10.85zM1688.5 1586h2.71v5h-2.71zM1717.0 1586h1.36v5h-1.36zM1737.3 1586h1.36v5h-1.36zM327.2 1591h2.71v5h-2.71zM332.7 1591h1.36v5h-1.36zM335.4 1591h2.71v5h-2.71zM366.5 1591h2.71v5h-2.71zM377.4 1591h2.71v5h-2.71zM430.3 1591h1.36v5h-1.36zM587.5 1591h2.71v5h-2.71zM763.8 1591h1.36v5h-1.36zM812.6 1591h5.42v5h-5.42zM827.5 1591h8.13v5h-8.13zM868.2 1591h4.07v5h-4.07zM942.8 1591h4.07v5h-4.07zM956.3 1591h8.13v5h-8.13zM992.9 1591h4.07v5h-4.07zM1096.0 1591h2.71v5h-2.71zM1203.1 1591h1.36v5h-1.36zM1260.0 1591h2.71v5h-2.71zM1317.0 1591h1.36v5h-1.36zM1333.3 1591h1.36v5h-1.36zM1361.7 1591h1.36v5h-1.36zM1384.8 1591h4.07v5h-4.07zM1420.0 1591h1.36v5h-1.36zM1444.4 1591h2.71v5h-2.71zM1582.7 1591h1.36v5h-1.36zM1674.9 1591h13.56v5h-13.56zM1718.3 1591h1.36v5h-1.36zM1735.9 1591h1.36v5h-1.36zM328.6 1596h6.78v5h-6.78zM369.3 1596h8.13v5h-8.13zM586.2 1596h2.71v5h-2.71zM763.8 1596h1.36v5h-1.36zM815.3 1596h1.36v5h-1.36zM834.3 1596h4.07v5h-4.07zM868.2 1596h1.36v5h-1.36zM946.8 1596h9.49v5h-9.49zM997.0 1596h1.36v5h-1.36zM1097.3 1596h2.71v5h-2.71zM1204.5 1596h1.36v5h-1.36zM1260.0 1596h1.36v5h-1.36zM1317.0 1596h1.36v5h-1.36zM1334.6 1596h1.36v5h-1.36zM1361.7 1596h1.36v5h-1.36zM1384.8 1596h1.36v5h-1.36zM1444.4 1596h2.71v5h-2.71zM1677.6 1596h10.85v5h-10.85zM198.4 1556h2.71v5h-2.71zM214.7 1556h1.36v5h-1.36zM754.3 1556h1.36v5h-1.36zM762.4 1556h1.36v5h-1.36zM887.2 1556h1.36v5h-1.36zM990.2 1556h1.36v5h-1.36zM1527.1 1556h1.36v5h-1.36zM1779.3 1556h1.36v5h-1.36zM201.1 1551h4.07v5h-4.07zM213.3 1551h2.71v5h-2.71zM494.0 1551h1.36v5h-1.36zM762.4 1551h1.36v5h-1.36zM885.8 1551h1.36v5h-1.36zM988.9 1551h1.36v5h-1.36zM1528.5 1551h1.36v5h-1.36zM1778.0 1551h1.36v5h-1.36zM197.1 1546h1.36v5h-1.36zM203.8 1546h1.36v5h-1.36zM212.0 1546h2.71v5h-2.71zM495.4 1546h1.36v5h-1.36zM637.7 1546h1.36v5h-1.36zM763.8 1546h1.36v5h-1.36zM885.8 1546h1.36v5h-1.36zM987.5 1546h2.71v5h-2.71zM1275.0 1546h18.98v5h-18.98zM1723.7 1546h8.13v5h-8.13zM1776.6 1546h2.71v5h-2.71zM205.2 1541h6.78v5h-6.78zM495.4 1541h1.36v5h-1.36zM636.4 1541h2.71v5h-2.71zM884.5 1541h1.36v5h-1.36zM984.8 1541h4.07v5h-4.07zM1270.9 1541h4.07v5h-4.07zM1293.9 1541h4.07v5h-4.07zM1529.9 1541h1.36v5h-1.36zM1721.0 1541h2.71v5h-2.71zM1731.9 1541h1.36v5h-1.36zM1772.5 1541h4.07v5h-4.07zM710.9 1411h1.36v5h-1.36zM1247.8 1411h5.42v5h-5.42zM1254.6 1411h8.13v5h-8.13zM494.0 1461h1.36v5h-1.36zM753.0 1461h1.36v5h-1.36zM767.9 1461h1.36v5h-1.36zM889.9 1461h1.36v5h-1.36zM994.3 1461h1.36v5h-1.36zM1318.3 1461h1.36v5h-1.36zM1334.6 1461h2.71v5h-2.71zM1735.9 1461h1.36v5h-1.36zM485.9 1416h1.36v5h-1.36zM1245.1 1416h2.71v5h-2.71zM1261.4 1416h2.71v5h-2.71zM491.3 1456h2.71v5h-2.71zM891.3 1456h1.36v5h-1.36zM995.7 1456h1.36v5h-1.36zM1318.3 1456h1.36v5h-1.36zM1334.6 1456h1.36v5h-1.36zM1735.9 1456h1.36v5h-1.36zM494.0 1466h1.36v5h-1.36zM769.2 1466h1.36v5h-1.36zM888.5 1466h1.36v5h-1.36zM992.9 1466h1.36v5h-1.36zM1317.0 1466h1.36v5h-1.36zM1337.3 1466h1.36v5h-1.36zM1525.8 1466h1.36v5h-1.36zM495.4 1471h1.36v5h-1.36zM770.6 1471h1.36v5h-1.36zM887.2 1471h1.36v5h-1.36zM900.7 1471h1.36v5h-1.36zM992.9 1471h1.36v5h-1.36zM1315.6 1471h1.36v5h-1.36zM1338.7 1471h1.36v5h-1.36zM1527.1 1471h1.36v5h-1.36zM1718.3 1471h1.36v5h-1.36zM720.4 1401h2.71v5h-2.71zM1253.3 1401h1.36v5h-1.36zM720.4 1406h2.71v5h-2.71zM1250.5 1406h2.71v5h-2.71zM1254.6 1406h1.36v5h-1.36zM766.5 1451h1.36v5h-1.36zM892.6 1451h1.36v5h-1.36zM997.0 1451h1.36v5h-1.36zM1333.3 1451h1.36v5h-1.36zM1721.0 1451h2.71v5h-2.71zM283.8 1611h1.36v5h-1.36zM293.3 1611h1.36v5h-1.36zM359.8 1611h5.42v5h-5.42zM423.5 1611h8.13v5h-8.13zM502.1 1611h1.36v5h-1.36zM545.5 1611h1.36v5h-1.36zM590.3 1611h2.71v5h-2.71zM912.9 1611h1.36v5h-1.36zM937.4 1611h1.36v5h-1.36zM964.5 1611h1.36v5h-1.36zM990.2 1611h1.36v5h-1.36zM1049.9 1611h2.71v5h-2.71zM1242.4 1611h1.36v5h-1.36zM1264.1 1611h1.36v5h-1.36zM1314.3 1611h1.36v5h-1.36zM1340.0 1611h1.36v5h-1.36zM1365.8 1611h2.71v5h-2.71zM1382.1 1611h1.36v5h-1.36zM1410.5 1611h2.71v5h-2.71zM1451.2 1611h1.36v5h-1.36zM1529.9 1611h1.36v5h-1.36zM1581.4 1611h1.36v5h-1.36zM1643.7 1611h1.36v5h-1.36zM1668.1 1611h2.71v5h-2.71zM1696.6 1611h1.36v5h-1.36zM1711.5 1611h1.36v5h-1.36zM1737.3 1611h1.36v5h-1.36zM1767.1 1611h1.36v5h-1.36zM264.9 1616h1.36v5h-1.36zM294.7 1616h1.36v5h-1.36zM308.2 1616h1.36v5h-1.36zM357.1 1616h2.71v5h-2.71zM503.5 1616h2.71v5h-2.71zM544.2 1616h1.36v5h-1.36zM593.0 1616h2.71v5h-2.71zM771.9 1616h1.36v5h-1.36zM883.1 1616h2.71v5h-2.71zM912.9 1616h2.71v5h-2.71zM934.6 1616h2.71v5h-2.71zM965.8 1616h2.71v5h-2.71zM984.8 1616h5.42v5h-5.42zM1047.2 1616h2.71v5h-2.71zM1052.6 1616h2.71v5h-2.71zM1108.2 1616h1.36v5h-1.36zM1265.5 1616h1.36v5h-1.36zM1311.6 1616h2.71v5h-2.71zM1341.4 1616h2.71v5h-2.71zM1364.4 1616h2.71v5h-2.71zM1383.4 1616h2.71v5h-2.71zM1407.8 1616h2.71v5h-2.71zM1452.6 1616h2.71v5h-2.71zM1529.9 1616h2.71v5h-2.71zM1580.0 1616h1.36v5h-1.36zM1645.1 1616h2.71v5h-2.71zM1651.9 1616h8.13v5h-8.13zM1665.4 1616h2.71v5h-2.71zM1698.0 1616h1.36v5h-1.36zM1710.2 1616h2.71v5h-2.71zM1738.6 1616h10.85v5h-10.85zM1764.4 1616h2.71v5h-2.71zM1775.3 1616h1.36v5h-1.36zM293.3 1606h1.36v5h-1.36zM500.8 1606h1.36v5h-1.36zM584.8 1606h1.36v5h-1.36zM590.3 1606h1.36v5h-1.36zM770.6 1606h1.36v5h-1.36zM839.7 1606h1.36v5h-1.36zM885.8 1606h1.36v5h-1.36zM911.6 1606h1.36v5h-1.36zM937.4 1606h1.36v5h-1.36zM964.5 1606h1.36v5h-1.36zM991.6 1606h1.36v5h-1.36zM1100.1 1606h1.36v5h-1.36zM1109.5 1606h1.36v5h-1.36zM1207.2 1606h1.36v5h-1.36zM1231.6 1606h8.13v5h-8.13zM1262.8 1606h1.36v5h-1.36zM1315.6 1606h2.71v5h-2.71zM1333.3 1606h1.36v5h-1.36zM1340.0 1606h1.36v5h-1.36zM1363.1 1606h1.36v5h-1.36zM1367.2 1606h1.36v5h-1.36zM1380.7 1606h1.36v5h-1.36zM1443.1 1606h1.36v5h-1.36zM1451.2 1606h1.36v5h-1.36zM1528.5 1606h1.36v5h-1.36zM1582.7 1606h1.36v5h-1.36zM1643.7 1606h1.36v5h-1.36zM1669.5 1606h1.36v5h-1.36zM1695.3 1606h1.36v5h-1.36zM1712.9 1606h1.36v5h-1.36zM1735.9 1606h1.36v5h-1.36zM1767.1 1606h1.36v5h-1.36zM1773.9 1606h1.36v5h-1.36zM296.0 1621h1.36v5h-1.36zM304.2 1621h9.49v5h-9.49zM355.7 1621h1.36v5h-1.36zM506.2 1621h1.36v5h-1.36zM541.4 1621h2.71v5h-2.71zM594.3 1621h4.07v5h-4.07zM773.3 1621h1.36v5h-1.36zM789.6 1621h5.42v5h-5.42zM880.4 1621h2.71v5h-2.71zM915.7 1621h2.71v5h-2.71zM922.4 1621h12.20v5h-12.20zM968.5 1621h16.27v5h-16.27zM1045.8 1621h1.36v5h-1.36zM1055.3 1621h16.27v5h-16.27zM1093.3 1621h14.91v5h-14.91zM1182.8 1621h2.71v5h-2.71zM1242.4 1621h1.36v5h-1.36zM1266.8 1621h1.36v5h-1.36zM1308.9 1621h2.71v5h-2.71zM1344.1 1621h2.71v5h-2.71zM1363.1 1621h1.36v5h-1.36zM1386.1 1621h2.71v5h-2.71zM1401.0 1621h8.13v5h-8.13zM1455.3 1621h9.49v5h-9.49zM1532.6 1621h16.27v5h-16.27zM1569.2 1621h10.85v5h-10.85zM1647.8 1621h5.42v5h-5.42zM1660.0 1621h5.42v5h-5.42zM1699.3 1621h1.36v5h-1.36zM1707.5 1621h2.71v5h-2.71zM1749.5 1621h2.71v5h-2.71zM1763.1 1621h2.71v5h-2.71zM1776.6 1621h1.36v5h-1.36zM195.7 1626h2.71v5h-2.71zM282.5 1626h2.71v5h-2.71zM297.4 1626h6.78v5h-6.78zM313.7 1626h2.71v5h-2.71zM353.0 1626h2.71v5h-2.71zM507.6 1626h23.05v5h-23.05zM540.1 1626h1.36v5h-1.36zM598.4 1626h23.05v5h-23.05zM774.7 1626h14.91v5h-14.91zM795.0 1626h1.36v5h-1.36zM876.3 1626h4.07v5h-4.07zM918.4 1626h4.07v5h-4.07zM1071.6 1626h23.05v5h-23.05zM1185.5 1626h1.36v5h-1.36zM1190.9 1626h1.36v5h-1.36zM1241.1 1626h1.36v5h-1.36zM1266.8 1626h1.36v5h-1.36zM1304.8 1626h4.07v5h-4.07zM1346.8 1626h16.27v5h-16.27zM1388.8 1626h13.56v5h-13.56zM1464.8 1626h27.12v5h-27.12zM1548.8 1626h20.34v5h-20.34zM1700.7 1626h6.78v5h-6.78zM1752.2 1626h2.71v5h-2.71zM1761.7 1626h1.36v5h-1.36zM220.1 1631h1.36v5h-1.36zM316.4 1631h1.36v5h-1.36zM350.3 1631h2.71v5h-2.71zM529.2 1631h10.85v5h-10.85zM620.1 1631h10.85v5h-10.85zM796.3 1631h2.71v5h-2.71zM872.3 1631h4.07v5h-4.07zM1186.8 1631h4.07v5h-4.07zM1192.2 1631h9.49v5h-9.49zM1238.3 1631h2.71v5h-2.71zM1268.2 1631h1.36v5h-1.36zM1302.1 1631h4.07v5h-4.07zM1491.9 1631h2.71v5h-2.71zM1754.9 1631h6.78v5h-6.78zM218.8 1636h1.36v5h-1.36zM222.8 1636h2.71v5h-2.71zM266.2 1636h2.71v5h-2.71zM317.7 1636h2.71v5h-2.71zM347.6 1636h2.71v5h-2.71zM630.9 1636h1.36v5h-1.36zM799.1 1636h1.36v5h-1.36zM830.2 1636h5.42v5h-5.42zM869.6 1636h2.71v5h-2.71zM1201.7 1636h2.71v5h-2.71zM1238.3 1636h1.36v5h-1.36zM1269.5 1636h1.36v5h-1.36zM1300.7 1636h1.36v5h-1.36zM1494.6 1636h9.49v5h-9.49zM218.8 1641h1.36v5h-1.36zM281.1 1641h1.36v5h-1.36zM319.1 1641h2.71v5h-2.71zM344.9 1641h2.71v5h-2.71zM632.3 1641h2.71v5h-2.71zM800.4 1641h1.36v5h-1.36zM827.5 1641h2.71v5h-2.71zM834.3 1641h10.85v5h-10.85zM857.4 1641h12.20v5h-12.20zM1204.5 1641h33.90v5h-33.90zM1269.5 1641h1.36v5h-1.36zM1298.0 1641h2.71v5h-2.71zM217.4 1646h1.36v5h-1.36zM224.2 1646h1.36v5h-1.36zM232.3 1646h1.36v5h-1.36zM255.4 1646h1.36v5h-1.36zM268.9 1646h1.36v5h-1.36zM321.8 1646h1.36v5h-1.36zM343.5 1646h1.36v5h-1.36zM635.0 1646h1.36v5h-1.36zM801.8 1646h1.36v5h-1.36zM824.8 1646h2.71v5h-2.71zM843.8 1646h14.91v5h-14.91zM1270.9 1646h2.71v5h-2.71zM1296.6 1646h2.71v5h-2.71zM197.1 1651h1.36v5h-1.36zM216.0 1651h1.36v5h-1.36zM323.2 1651h1.36v5h-1.36zM343.5 1651h1.36v5h-1.36zM803.1 1651h1.36v5h-1.36zM823.5 1651h1.36v5h-1.36zM1273.6 1651h1.36v5h-1.36zM1295.3 1651h1.36v5h-1.36zM214.7 1656h2.71v5h-2.71zM323.2 1656h1.36v5h-1.36zM342.1 1656h1.36v5h-1.36zM636.4 1656h1.36v5h-1.36zM822.1 1656h1.36v5h-1.36zM1275.0 1656h1.36v5h-1.36zM1293.9 1656h1.36v5h-1.36zM214.7 1661h1.36v5h-1.36zM324.5 1661h1.36v5h-1.36zM804.5 1661h1.36v5h-1.36zM1293.9 1661h1.36v5h-1.36zM195.7 1711h2.71v5h-2.71zM293.3 1711h1.36v5h-1.36zM377.4 1711h6.78v5h-6.78zM430.3 1711h1.36v5h-1.36zM483.1 1711h1.36v5h-1.36zM1242.4 1711h1.36v5h-1.36zM1258.7 1711h1.36v5h-1.36zM1361.7 1711h2.71v5h-2.71zM1380.7 1711h1.36v5h-1.36zM1447.1 1711h1.36v5h-1.36zM293.3 1716h1.36v5h-1.36zM691.9 1716h1.36v5h-1.36zM777.4 1716h1.36v5h-1.36zM795.0 1716h2.71v5h-2.71zM861.4 1716h1.36v5h-1.36zM877.7 1716h1.36v5h-1.36zM927.9 1716h1.36v5h-1.36zM988.9 1716h2.71v5h-2.71zM1075.6 1716h2.71v5h-2.71zM1242.4 1716h1.36v5h-1.36zM1257.3 1716h1.36v5h-1.36zM1300.7 1716h1.36v5h-1.36zM1390.2 1716h1.36v5h-1.36zM1445.8 1716h1.36v5h-1.36zM1463.4 1716h1.36v5h-1.36zM243.2 1706h1.36v5h-1.36zM294.7 1706h1.36v5h-1.36zM376.0 1706h1.36v5h-1.36zM428.9 1706h1.36v5h-1.36zM1241.1 1706h2.71v5h-2.71zM1260.0 1706h1.36v5h-1.36zM1359.0 1706h2.71v5h-2.71zM1447.1 1706h1.36v5h-1.36zM194.4 1701h1.36v5h-1.36zM217.4 1701h1.36v5h-1.36zM232.3 1701h1.36v5h-1.36zM296.0 1701h1.36v5h-1.36zM373.3 1701h2.71v5h-2.71zM426.2 1701h2.71v5h-2.71zM494.0 1701h1.36v5h-1.36zM549.6 1701h1.36v5h-1.36zM941.4 1701h14.91v5h-14.91zM1239.7 1701h2.71v5h-2.71zM1260.0 1701h2.71v5h-2.71zM1356.3 1701h2.71v5h-2.71zM1382.1 1701h1.36v5h-1.36zM1448.5 1701h1.36v5h-1.36zM1666.8 1701h12.20v5h-12.20zM1757.6 1701h9.49v5h-9.49zM193.0 1696h1.36v5h-1.36zM226.9 1696h1.36v5h-1.36zM254.0 1696h1.36v5h-1.36zM297.4 1696h1.36v5h-1.36zM344.9 1696h1.36v5h-1.36zM370.6 1696h2.71v5h-2.71zM423.5 1696h2.71v5h-2.71zM453.3 1696h1.36v5h-1.36zM495.4 1696h1.36v5h-1.36zM546.9 1696h2.71v5h-2.71zM582.1 1696h1.36v5h-1.36zM938.7 1696h2.71v5h-2.71zM956.3 1696h2.71v5h-2.71zM1238.3 1696h1.36v5h-1.36zM1262.8 1696h1.36v5h-1.36zM1356.3 1696h1.36v5h-1.36zM1383.4 1696h2.71v5h-2.71zM1449.9 1696h1.36v5h-1.36zM1664.1 1696h2.71v5h-2.71zM1679.0 1696h1.36v5h-1.36zM1699.3 1696h10.85v5h-10.85zM1756.3 1696h1.36v5h-1.36zM1767.1 1696h1.36v5h-1.36zM218.8 1691h8.13v5h-8.13zM298.8 1691h2.71v5h-2.71zM321.8 1691h6.78v5h-6.78zM344.9 1691h5.42v5h-5.42zM369.3 1691h1.36v5h-1.36zM422.1 1691h2.71v5h-2.71zM544.2 1691h2.71v5h-2.71zM583.5 1691h1.36v5h-1.36zM934.6 1691h4.07v5h-4.07zM959.0 1691h2.71v5h-2.71zM1238.3 1691h1.36v5h-1.36zM1262.8 1691h2.71v5h-2.71zM1353.6 1691h2.71v5h-2.71zM1386.1 1691h2.71v5h-2.71zM1451.2 1691h2.71v5h-2.71zM1664.1 1691h1.36v5h-1.36zM1680.3 1691h2.71v5h-2.71zM1696.6 1691h2.71v5h-2.71zM1710.2 1691h1.36v5h-1.36zM1754.9 1691h1.36v5h-1.36zM1768.5 1691h1.36v5h-1.36zM241.8 1686h2.71v5h-2.71zM300.1 1686h1.36v5h-1.36zM321.8 1686h1.36v5h-1.36zM327.2 1686h1.36v5h-1.36zM343.5 1686h1.36v5h-1.36zM350.3 1686h1.36v5h-1.36zM369.3 1686h1.36v5h-1.36zM420.8 1686h1.36v5h-1.36zM495.4 1686h2.71v5h-2.71zM510.3 1686h13.56v5h-13.56zM541.4 1686h2.71v5h-2.71zM584.8 1686h1.36v5h-1.36zM885.8 1686h1.36v5h-1.36zM907.5 1686h1.36v5h-1.36zM930.6 1686h4.07v5h-4.07zM961.8 1686h4.07v5h-4.07zM1237.0 1686h1.36v5h-1.36zM1265.5 1686h2.71v5h-2.71zM1304.8 1686h1.36v5h-1.36zM1352.2 1686h1.36v5h-1.36zM1388.8 1686h1.36v5h-1.36zM1453.9 1686h2.71v5h-2.71zM1661.4 1686h2.71v5h-2.71zM1683.1 1686h13.56v5h-13.56zM1753.6 1686h1.36v5h-1.36zM255.4 1681h1.36v5h-1.36zM301.5 1681h1.36v5h-1.36zM319.1 1681h2.71v5h-2.71zM328.6 1681h1.36v5h-1.36zM342.1 1681h1.36v5h-1.36zM351.6 1681h1.36v5h-1.36zM367.9 1681h1.36v5h-1.36zM452.0 1681h4.07v5h-4.07zM498.1 1681h13.56v5h-13.56zM522.5 1681h9.49v5h-9.49zM538.7 1681h2.71v5h-2.71zM586.2 1681h1.36v5h-1.36zM609.2 1681h12.20v5h-12.20zM884.5 1681h1.36v5h-1.36zM908.9 1681h1.36v5h-1.36zM927.9 1681h2.71v5h-2.71zM965.8 1681h2.71v5h-2.71zM1235.6 1681h1.36v5h-1.36zM1268.2 1681h4.07v5h-4.07zM1302.1 1681h2.71v5h-2.71zM1306.1 1681h4.07v5h-4.07zM1350.9 1681h1.36v5h-1.36zM1390.2 1681h2.71v5h-2.71zM1456.6 1681h4.07v5h-4.07zM1555.6 1681h6.78v5h-6.78zM1661.4 1681h1.36v5h-1.36zM1711.5 1681h1.36v5h-1.36zM1752.2 1681h1.36v5h-1.36zM256.7 1676h1.36v5h-1.36zM302.8 1676h1.36v5h-1.36zM317.7 1676h1.36v5h-1.36zM328.6 1676h1.36v5h-1.36zM340.8 1676h2.71v5h-2.71zM353.0 1676h1.36v5h-1.36zM366.5 1676h1.36v5h-1.36zM419.4 1676h1.36v5h-1.36zM532.0 1676h6.78v5h-6.78zM587.5 1676h1.36v5h-1.36zM605.2 1676h4.07v5h-4.07zM621.4 1676h1.36v5h-1.36zM788.2 1676h13.56v5h-13.56zM883.1 1676h1.36v5h-1.36zM910.2 1676h1.36v5h-1.36zM923.8 1676h4.07v5h-4.07zM968.5 1676h4.07v5h-4.07zM1077.0 1676h12.20v5h-12.20zM1234.3 1676h1.36v5h-1.36zM1272.2 1676h4.07v5h-4.07zM1295.3 1676h6.78v5h-6.78zM1310.2 1676h2.71v5h-2.71zM1348.2 1676h2.71v5h-2.71zM1391.6 1676h16.27v5h-16.27zM1460.7 1676h20.34v5h-20.34zM1550.2 1676h5.42v5h-5.42zM1562.4 1676h5.42v5h-5.42zM1660.0 1676h1.36v5h-1.36zM1712.9 1676h1.36v5h-1.36zM1750.9 1676h1.36v5h-1.36zM1769.8 1676h2.71v5h-2.71zM256.7 1671h1.36v5h-1.36zM302.8 1671h1.36v5h-1.36zM317.7 1671h1.36v5h-1.36zM354.3 1671h2.71v5h-2.71zM365.2 1671h1.36v5h-1.36zM449.3 1671h2.71v5h-2.71zM503.5 1671h1.36v5h-1.36zM588.9 1671h2.71v5h-2.71zM601.1 1671h4.07v5h-4.07zM622.8 1671h5.42v5h-5.42zM767.9 1671h20.34v5h-20.34zM801.8 1671h2.71v5h-2.71zM875.0 1671h8.13v5h-8.13zM911.6 1671h12.20v5h-12.20zM972.6 1671h17.63v5h-17.63zM1071.6 1671h5.42v5h-5.42zM1089.2 1671h5.42v5h-5.42zM1232.9 1671h1.36v5h-1.36zM1275.0 1671h6.78v5h-6.78zM1292.6 1671h4.07v5h-4.07zM1312.9 1671h1.36v5h-1.36zM1348.2 1671h1.36v5h-1.36zM1406.5 1671h5.42v5h-5.42zM1479.7 1671h5.42v5h-5.42zM1547.5 1671h2.71v5h-2.71zM1567.8 1671h2.71v5h-2.71zM1658.7 1671h1.36v5h-1.36zM1714.2 1671h1.36v5h-1.36zM1750.9 1671h1.36v5h-1.36zM198.4 1666h1.36v5h-1.36zM214.7 1666h1.36v5h-1.36zM258.1 1666h1.36v5h-1.36zM270.3 1666h2.71v5h-2.71zM279.8 1666h1.36v5h-1.36zM316.4 1666h1.36v5h-1.36zM340.8 1666h2.71v5h-2.71zM365.2 1666h1.36v5h-1.36zM418.1 1666h1.36v5h-1.36zM820.8 1666h2.71v5h-2.71zM1231.6 1666h1.36v5h-1.36zM1276.3 1666h4.07v5h-4.07zM1292.6 1666h1.36v5h-1.36zM1314.3 1666h1.36v5h-1.36zM1346.8 1666h1.36v5h-1.36zM1546.1 1666h1.36v5h-1.36zM1569.2 1666h1.36v5h-1.36zM1657.3 1666h1.36v5h-1.36zM515.7 1756h4.07v5h-4.07zM548.2 1756h2.71v5h-2.71zM595.7 1756h1.36v5h-1.36zM702.8 1756h2.71v5h-2.71zM769.2 1756h1.36v5h-1.36zM805.8 1756h2.71v5h-2.71zM823.5 1756h2.71v5h-2.71zM914.3 1756h2.71v5h-2.71zM1102.8 1756h1.36v5h-1.36zM1317.0 1756h2.71v5h-2.71zM1325.1 1756h1.36v5h-1.36zM1407.8 1756h4.07v5h-4.07zM1479.7 1756h2.71v5h-2.71zM1555.6 1756h5.42v5h-5.42zM508.9 1766h2.71v5h-2.71zM552.3 1766h2.71v5h-2.71zM575.3 1766h1.36v5h-1.36zM706.9 1766h4.07v5h-4.07zM765.2 1766h1.36v5h-1.36zM910.2 1766h2.71v5h-2.71zM1104.1 1766h1.36v5h-1.36zM1321.1 1766h4.07v5h-4.07zM1413.2 1766h1.36v5h-1.36zM1483.8 1766h1.36v5h-1.36zM1565.1 1766h4.07v5h-4.07zM301.5 1771h1.36v5h-1.36zM404.5 1771h2.71v5h-2.71zM419.4 1771h4.07v5h-4.07zM506.2 1771h2.71v5h-2.71zM555.0 1771h20.34v5h-20.34zM709.6 1771h2.71v5h-2.71zM739.4 1771h5.42v5h-5.42zM762.4 1771h2.71v5h-2.71zM1414.6 1771h2.71v5h-2.71zM1485.1 1771h2.71v5h-2.71zM1569.2 1771h5.42v5h-5.42zM1661.4 1771h13.56v5h-13.56zM719.1 1776h20.34v5h-20.34zM743.5 1776h16.27v5h-16.27zM801.8 1776h6.78v5h-6.78zM1486.5 1776h1.36v5h-1.36zM503.5 1781h24.40v5h-24.40zM759.7 1781h2.71v5h-2.71zM799.1 1781h2.71v5h-2.71zM328.6 1786h16.27v5h-16.27zM377.4 1786h17.63v5h-17.63zM496.7 1786h8.13v5h-8.13zM526.5 1786h5.42v5h-5.42zM762.4 1786h4.07v5h-4.07zM796.3 1786h2.71v5h-2.71zM1655.9 1786h17.63v5h-17.63zM1700.7 1786h14.91v5h-14.91zM319.1 1791h10.85v5h-10.85zM343.5 1791h10.85v5h-10.85zM370.6 1791h8.13v5h-8.13zM393.7 1791h6.78v5h-6.78zM431.6 1791h66.44v5h-66.44zM532.0 1791h1.36v5h-1.36zM766.5 1791h2.71v5h-2.71zM793.6 1791h2.71v5h-2.71zM1651.9 1791h5.42v5h-5.42zM1673.6 1791h1.36v5h-1.36zM1696.6 1791h5.42v5h-5.42zM1715.6 1791h6.78v5h-6.78zM1749.5 1791h20.34v5h-20.34zM313.7 1796h5.42v5h-5.42zM353.0 1796h18.98v5h-18.98zM400.4 1796h2.71v5h-2.71zM424.8 1796h8.13v5h-8.13zM533.3 1796h1.36v5h-1.36zM769.2 1796h2.71v5h-2.71zM790.9 1796h2.71v5h-2.71zM1650.5 1796h1.36v5h-1.36zM1674.9 1796h1.36v5h-1.36zM1695.3 1796h1.36v5h-1.36zM1722.4 1796h1.36v5h-1.36zM1748.1 1796h1.36v5h-1.36zM1769.8 1796h4.07v5h-4.07zM197.1 1601h1.36v5h-1.36zM332.7 1601h1.36v5h-1.36zM431.6 1601h1.36v5h-1.36zM586.2 1601h1.36v5h-1.36zM837.0 1601h2.71v5h-2.71zM866.8 1601h1.36v5h-1.36zM1098.7 1601h1.36v5h-1.36zM1205.8 1601h1.36v5h-1.36zM1258.7 1601h1.36v5h-1.36zM1318.3 1601h1.36v5h-1.36zM1333.3 1601h1.36v5h-1.36zM1383.4 1601h1.36v5h-1.36zM1443.1 1601h1.36v5h-1.36zM1721.0 1601h2.71v5h-2.71zM1734.6 1601h2.71v5h-2.71zM511.6 1761h4.07v5h-4.07zM549.6 1761h2.71v5h-2.71zM576.7 1761h6.78v5h-6.78zM704.1 1761h2.71v5h-2.71zM766.5 1761h4.07v5h-4.07zM808.5 1761h14.91v5h-14.91zM912.9 1761h1.36v5h-1.36zM1104.1 1761h1.36v5h-1.36zM1319.7 1761h1.36v5h-1.36zM1323.8 1761h1.36v5h-1.36zM1410.5 1761h2.71v5h-2.71zM1482.4 1761h1.36v5h-1.36zM1561.0 1761h4.07v5h-4.07zM519.8 1751h5.42v5h-5.42zM546.9 1751h1.36v5h-1.36zM597.0 1751h2.71v5h-2.71zM701.4 1751h2.71v5h-2.71zM770.6 1751h1.36v5h-1.36zM803.1 1751h2.71v5h-2.71zM826.2 1751h4.07v5h-4.07zM908.9 1751h1.36v5h-1.36zM917.0 1751h1.36v5h-1.36zM1100.1 1751h2.71v5h-2.71zM1310.2 1751h6.78v5h-6.78zM1325.1 1751h1.36v5h-1.36zM1402.4 1751h5.42v5h-5.42zM1477.0 1751h4.07v5h-4.07zM1552.9 1751h4.07v5h-4.07zM525.2 1746h2.71v5h-2.71zM545.5 1746h1.36v5h-1.36zM599.8 1746h2.71v5h-2.71zM700.1 1746h1.36v5h-1.36zM771.9 1746h1.36v5h-1.36zM801.8 1746h2.71v5h-2.71zM830.2 1746h2.71v5h-2.71zM918.4 1746h1.36v5h-1.36zM1098.7 1746h2.71v5h-2.71zM1308.9 1746h2.71v5h-2.71zM1399.7 1746h4.07v5h-4.07zM1474.3 1746h4.07v5h-4.07zM1548.8 1746h4.07v5h-4.07zM526.5 1741h2.71v5h-2.71zM545.5 1741h1.36v5h-1.36zM601.1 1741h9.49v5h-9.49zM624.2 1741h9.49v5h-9.49zM698.7 1741h1.36v5h-1.36zM773.3 1741h1.36v5h-1.36zM799.1 1741h2.71v5h-2.71zM833.0 1741h1.36v5h-1.36zM919.7 1741h2.71v5h-2.71zM1096.0 1741h4.07v5h-4.07zM1306.1 1741h2.71v5h-2.71zM1356.3 1741h6.78v5h-6.78zM1398.3 1741h1.36v5h-1.36zM1471.6 1741h2.71v5h-2.71zM1547.5 1741h1.36v5h-1.36zM527.9 1736h1.36v5h-1.36zM544.2 1736h1.36v5h-1.36zM609.2 1736h14.91v5h-14.91zM632.3 1736h1.36v5h-1.36zM697.4 1736h1.36v5h-1.36zM774.7 1736h1.36v5h-1.36zM799.1 1736h1.36v5h-1.36zM850.6 1736h4.07v5h-4.07zM922.4 1736h1.36v5h-1.36zM1091.9 1736h5.42v5h-5.42zM1346.8 1736h9.49v5h-9.49zM1363.1 1736h4.07v5h-4.07zM1397.0 1736h1.36v5h-1.36zM1468.8 1736h2.71v5h-2.71zM1546.1 1736h1.36v5h-1.36zM696.0 1731h1.36v5h-1.36zM797.7 1731h1.36v5h-1.36zM849.2 1731h1.36v5h-1.36zM854.6 1731h2.71v5h-2.71zM923.8 1731h1.36v5h-1.36zM1087.8 1731h4.07v5h-4.07zM1304.8 1731h1.36v5h-1.36zM1345.5 1731h1.36v5h-1.36zM1367.2 1731h1.36v5h-1.36zM1394.3 1731h2.71v5h-2.71zM1467.5 1731h1.36v5h-1.36zM1546.1 1731h1.36v5h-1.36zM694.7 1721h1.36v5h-1.36zM860.1 1721h1.36v5h-1.36zM926.5 1721h1.36v5h-1.36zM1078.4 1721h5.42v5h-5.42zM1228.9 1721h1.36v5h-1.36zM1239.7 1721h2.71v5h-2.71zM1302.1 1721h1.36v5h-1.36zM1342.7 1721h1.36v5h-1.36zM1369.9 1721h1.36v5h-1.36zM1391.6 1721h2.71v5h-2.71zM1464.8 1721h1.36v5h-1.36zM1544.8 1721h2.71v5h-2.71zM777.4 1726h1.36v5h-1.36zM796.3 1726h1.36v5h-1.36zM857.4 1726h2.71v5h-2.71zM879.1 1726h1.36v5h-1.36zM925.1 1726h1.36v5h-1.36zM1083.8 1726h5.42v5h-5.42zM1230.2 1726h9.49v5h-9.49zM1302.1 1726h2.71v5h-2.71zM1344.1 1726h1.36v5h-1.36zM1368.5 1726h1.36v5h-1.36zM1392.9 1726h1.36v5h-1.36zM1466.1 1726h1.36v5h-1.36z"/><path fill="#f7dc2a" d="M673.0 1531h9.49v5h-9.49zM671.6 1536h1.36v5h-1.36zM681.1 1536h13.56v5h-13.56zM740.8 1536h12.20v5h-12.20zM729.9 1561h12.20v5h-12.20zM742.1 1566h9.49v5h-9.49zM751.6 1571h1.36v5h-1.36zM751.6 1576h1.36v5h-1.36zM753.0 1551h1.36v5h-1.36zM706.9 1546h21.69v5h-21.69zM670.3 1541h1.36v5h-1.36zM693.3 1541h14.91v5h-14.91zM727.2 1541h14.91v5h-14.91zM751.6 1541h1.36v5h-1.36zM934.6 1386h2.71v5h-2.71zM961.8 1386h4.07v5h-4.07zM937.4 1381h8.13v5h-8.13zM957.7 1381h4.07v5h-4.07zM945.5 1376h12.20v5h-12.20z"/><path fill="#f5e924" d="M193.0 1756h1.36v5h-1.36zM194.4 1766h2.71v5h-2.71zM195.7 1771h2.71v5h-2.71zM197.1 1776h10.85v5h-10.85zM206.6 1781h12.20v5h-12.20zM217.4 1786h12.20v5h-12.20zM229.6 1791h63.72v5h-63.72zM292.0 1796h10.85v5h-10.85zM1802.4 1796h17.63v5h-17.63z"/><path d="M194.4 244.3 L196.6 184.9 L198.0 109.6 L200.2 77.7 L201.7 79.1 L203.1 87.8 L203.8 103.8 L206.0 115.4 L206.7 127.0 L208.2 132.8 L210.4 130.6 L212.5 129.1 L214.7 134.2 L217.6 137.8 L219.8 137.1 L222.7 134.9 L225.6 135.7 L228.5 138.6 L231.4 141.4 L234.3 140.0 L237.2 137.8 L239.3 138.6 L242.2 141.4 L245.1 142.9 L248.8 140.7 L252.4 139.3 L256.0 142.2 L259.6 145.1 L264.0 142.9 L268.3 140.0 L272.0 142.2 L276.3 145.8 L279.9 145.1 L283.6 141.4 L287.9 141.4 L291.5 140.0 L293.7 142.2 L295.1 148.0 L297.3 147.2 L299.5 121.2 L300.9 116.1 L302.4 124.1 L304.6 160.3 L306.0 250.1 L308.2 213.9 L309.6 141.4 L311.1 98.0 L313.3 66.1 L315.4 76.2 L316.9 112.5 L318.3 129.9 L319.8 138.6 L322.0 138.6 L324.9 131.3 L327.0 131.3 L329.9 134.2 L332.8 137.1 L335.7 136.4 L338.6 134.9 L341.5 135.7 L344.4 144.3 L346.6 148.7 L348.0 144.3 L350.2 115.4 L352.4 109.6 L353.8 127.0 L355.3 184.9 L358.2 251.6 L360.4 199.4 L361.8 127.0 L363.3 79.1 L364.7 72.6 L366.9 95.1 L369.1 127.0 L370.5 140.0 L372.7 138.6 L374.9 132.8 L377.0 132.8 L379.2 138.6 L381.4 146.5 L383.6 141.4 L385.7 118.3 L387.2 118.3 L389.3 141.4 L390.8 184.9 L393.0 247.2 L395.1 199.4 L396.6 112.5 L398.0 69.0 L400.2 53.8 L402.4 69.0 L403.8 127.0 L405.3 184.9 L406.7 251.6 L408.9 213.9 L410.4 141.4 L411.8 98.0 L413.7 68.3 L415.4 76.2 L417.6 105.2 L418.3 127.0 L419.8 137.1 L422.7 132.8 L425.6 129.1 L428.5 132.8 L431.4 138.6 L433.6 139.3 L436.4 135.7 L439.3 133.5 L441.5 136.4 L444.4 142.2 L446.6 143.6 L449.5 140.0 L453.1 133.5 L456.0 135.7 L458.2 144.3 L460.4 147.2 L463.3 144.3 L463.7 144.3 L465.9 143.6 L468.8 145.1 L472.4 148.0 L476.7 148.0 L481.1 146.5 L484.0 145.5 L488.3 145.8 L492.0 143.6 L494.9 144.3 L497.8 148.0 L499.9 147.2 L502.8 143.2 L505.0 145.8 L507.2 150.9 L508.6 144.3 L510.8 124.1 L512.2 125.5 L513.7 148.7 L515.1 199.4 L517.0 245.1 L518.8 213.9 L520.2 170.4 L521.7 105.2 L523.1 79.1 L525.3 82.0 L526.7 105.2 L528.2 127.0 L530.4 141.4 L532.5 135.7 L534.7 132.0 L536.9 135.7 L539.1 138.6 L543.4 139.3 L547.8 141.4 L552.1 141.4 L556.4 141.4 L562.2 140.7 L565.1 142.9 L568.8 145.8 L571.7 145.1 L575.3 142.2 L578.9 141.2 L582.5 142.2 L586.9 146.5 L589.8 144.3 L592.0 140.7 L594.1 142.9 L596.3 148.7 L598.5 144.3 L600.7 127.0 L602.1 119.0 L603.6 129.9 L605.0 170.4 L607.2 250.1 L608.9 228.4 L610.4 170.4 L611.5 112.5 L613.0 87.8 L614.4 80.6 L615.9 95.1 L617.3 119.7 L618.8 134.2 L620.2 141.4 L621.7 138.6 L623.8 134.2 L626.0 136.4 L628.9 140.7 L633.3 141.4 L637.6 141.4 L640.5 140.7 L644.1 139.7 L647.8 141.4 L652.1 143.6 L657.9 143.6 L662.2 143.6 L665.1 144.3 L668.0 145.8 L672.4 145.8 L676.7 146.5 L679.6 143.6 L682.5 143.6 L684.7 147.2 L686.6 151.3 L688.3 144.3 L689.8 129.9 L691.5 122.6 L693.4 134.2 L694.9 163.2 L696.3 213.9 L697.3 252.3 L699.2 228.4 L700.7 155.9 L702.1 90.7 L704.0 54.5 L705.7 61.7 L707.9 112.5 L709.8 184.9 L711.8 250.9 L713.7 213.9 L715.1 155.9 L716.6 83.5 L718.8 48.7 L720.9 69.0 L722.4 112.5 L723.8 170.4 L725.7 245.8 L727.5 228.4 L728.9 170.4 L730.4 98.0 L732.1 64.6 L733.7 64.6 L735.1 83.5 L736.6 105.2 L738.0 124.1 L739.5 134.9 L741.7 132.8 L743.8 127.7 L746.0 130.6 L748.2 134.2 L751.1 135.7 L754.0 134.2 L756.9 132.8 L759.8 134.2 L762.7 135.7 L765.6 133.9 L767.8 134.2 L769.2 138.6 L771.4 142.9 L773.6 135.7 L775.0 119.7 L776.9 105.2 L778.6 119.7 L780.1 155.9 L781.5 213.9 L782.5 253.0 L784.4 213.9 L785.9 155.9 L787.3 98.0 L789.5 63.9 L791.4 76.2 L793.1 105.2 L794.6 127.0 L796.3 134.9 L798.2 131.3 L800.4 125.5 L803.3 128.4 L805.4 132.0 L808.3 134.2 L812.0 135.9 L814.9 134.2 L817.8 132.8 L819.9 136.4 L821.4 141.4 L823.3 146.5 L825.0 141.4 L826.4 124.1 L828.6 119.0 L830.1 134.2 L831.5 170.4 L833.0 228.4 L834.0 246.5 L835.9 213.9 L837.3 141.4 L838.8 98.0 L839.8 82.0 L841.2 80.6 L842.4 98.0 L843.8 112.5 L845.3 134.2 L847.5 148.0 L848.9 141.4 L850.4 127.0 L852.5 119.0 L854.0 134.2 L855.4 170.4 L856.9 213.9 L858.3 241.4 L859.8 213.9 L861.2 155.9 L862.7 112.5 L863.8 91.4 L865.6 93.6 L867.0 112.5 L868.5 134.2 L870.7 146.5 L872.1 144.3 L873.6 140.0 L875.7 139.3 L877.9 142.9 L880.8 144.3 L884.4 143.6 L888.0 145.1 L890.9 147.0 L893.8 145.8 L896.7 143.6 L899.6 144.1 L903.3 145.8 L906.2 143.6 L909.8 141.0 L912.0 142.2 L914.1 147.2 L916.3 153.0 L918.5 145.8 L920.7 127.0 L922.4 119.0 L923.6 134.2 L925.0 170.4 L926.4 228.4 L927.6 248.0 L929.3 213.9 L930.8 141.4 L932.2 98.0 L933.7 76.2 L935.1 77.7 L936.6 105.2 L938.0 127.0 L939.8 142.9 L941.7 141.4 L943.8 135.7 L946.0 134.2 L948.2 138.6 L951.1 143.6 L953.3 138.6 L954.7 124.1 L956.2 115.4 L957.6 129.9 L959.1 170.4 L960.5 213.9 L962.0 248.0 L963.4 221.2 L964.9 155.9 L966.3 105.2 L968.2 78.4 L969.9 83.5 L971.4 105.2 L972.8 124.1 L974.3 138.6 L975.7 142.2 L977.9 138.6 L980.1 139.3 L983.0 143.6 L985.1 141.4 L988.0 138.6 L990.2 139.3 L993.1 143.2 L995.3 144.6 L998.2 143.6 L1001.1 143.2 L1001.5 143.2 L1003.7 143.6 L1006.6 145.8 L1008.8 145.5 L1010.9 143.6 L1013.8 144.1 L1016.0 146.5 L1018.9 148.0 L1021.8 146.5 L1025.4 144.1 L1029.8 143.6 L1035.6 143.6 L1041.4 143.6 L1047.2 143.6 L1053.0 143.6 L1055.9 142.9 L1058.8 145.1 L1060.9 147.0 L1062.4 141.4 L1063.8 125.5 L1066.0 119.7 L1067.5 129.9 L1068.2 155.9 L1069.6 199.4 L1071.5 248.7 L1073.3 213.9 L1074.4 155.9 L1075.4 112.5 L1076.9 83.5 L1078.3 78.4 L1079.8 87.8 L1081.2 112.5 L1082.7 132.8 L1084.6 143.6 L1086.3 140.0 L1088.5 136.4 L1090.7 140.0 L1092.8 144.3 L1095.0 145.8 L1097.2 143.6 L1100.1 140.0 L1102.2 139.7 L1105.1 142.9 L1108.0 147.0 L1110.9 147.0 L1114.6 145.1 L1117.5 145.5 L1121.1 147.5 L1125.4 147.5 L1129.1 148.0 L1132.7 150.9 L1136.3 150.9 L1139.9 148.0 L1142.1 145.8 L1145.0 146.5 L1147.9 148.7 L1150.8 150.1 L1154.4 149.9 L1158.0 150.9 L1160.9 152.3 L1163.8 149.4 L1166.7 148.0 L1168.9 150.1 L1171.8 152.3 L1174.7 150.9 L1177.6 150.4 L1180.5 150.9 L1183.4 148.0 L1185.6 150.1 L1187.8 156.7 L1189.9 155.9 L1192.1 141.4 L1193.8 129.1 L1195.7 141.4 L1197.2 184.9 L1197.9 213.9 L1199.3 248.7 L1200.8 228.4 L1202.2 170.4 L1203.7 112.5 L1205.1 87.8 L1206.9 95.1 L1208.0 119.7 L1209.5 141.4 L1210.9 153.0 L1212.4 153.8 L1213.8 144.3 L1215.6 125.5 L1217.8 124.1 L1219.3 141.4 L1221.1 184.9 L1222.2 221.2 L1223.7 245.8 L1225.4 213.9 L1226.9 155.9 L1228.3 112.5 L1229.5 92.2 L1231.2 105.2 L1232.7 127.0 L1234.1 144.3 L1235.6 147.0 L1237.8 141.4 L1239.6 137.8 L1241.4 141.4 L1243.6 148.0 L1245.7 148.4 L1247.9 147.5 L1250.1 149.4 L1251.8 150.4 L1253.7 144.3 L1255.1 127.0 L1256.2 123.3 L1258.0 129.9 L1259.5 170.4 L1260.9 221.2 L1261.7 248.7 L1263.1 235.7 L1264.6 184.9 L1266.0 127.0 L1267.5 95.1 L1268.6 85.7 L1270.4 105.2 L1271.8 127.0 L1273.3 150.1 L1273.7 150.9 L1275.9 149.4 L1277.8 146.5 L1279.5 149.4 L1280.9 150.9 L1282.4 144.3 L1283.8 127.0 L1286.0 125.5 L1287.0 138.6 L1288.2 170.4 L1289.3 213.9 L1291.1 247.2 L1292.5 221.2 L1294.0 170.4 L1295.4 112.5 L1297.2 87.8 L1299.1 100.9 L1300.5 127.0 L1302.0 141.4 L1303.4 150.9 L1305.6 145.8 L1307.8 142.9 L1309.9 144.3 L1312.8 147.0 L1315.7 146.1 L1319.3 144.6 L1322.2 146.5 L1325.1 148.0 L1328.8 147.2 L1330.9 148.7 L1333.1 153.0 L1335.3 150.1 L1336.7 138.6 L1338.6 121.9 L1340.4 129.9 L1341.8 163.2 L1343.3 213.9 L1344.4 251.6 L1346.2 228.4 L1347.6 170.4 L1349.1 112.5 L1351.2 78.4 L1352.7 86.4 L1354.1 112.5 L1355.6 134.2 L1357.8 142.9 L1359.9 138.6 L1361.8 135.7 L1364.3 138.6 L1367.2 139.7 L1370.1 140.7 L1372.2 146.5 L1374.0 146.5 L1375.9 134.2 L1378.0 115.4 L1379.8 121.2 L1380.9 148.7 L1382.4 199.4 L1383.6 248.7 L1385.3 228.4 L1386.7 170.4 L1388.2 112.5 L1390.4 75.5 L1391.8 83.5 L1393.3 105.2 L1394.7 127.0 L1396.9 147.2 L1399.1 144.3 L1401.2 136.4 L1403.4 135.7 L1406.3 138.6 L1409.9 139.3 L1414.3 139.3 L1417.9 140.0 L1420.8 142.2 L1423.7 144.3 L1425.9 141.4 L1428.0 136.4 L1430.2 134.9 L1432.4 138.6 L1435.3 143.6 L1438.2 141.4 L1441.1 139.0 L1444.0 140.0 L1446.2 147.2 L1448.3 151.6 L1450.5 141.4 L1452.2 127.0 L1454.1 115.4 L1455.6 129.9 L1457.0 184.9 L1458.5 228.4 L1459.5 248.7 L1460.7 228.4 L1462.1 170.4 L1463.6 112.5 L1465.3 83.5 L1466.7 83.5 L1467.9 105.2 L1469.3 127.0 L1470.8 142.9 L1473.0 145.1 L1475.1 140.0 L1478.0 138.6 L1480.2 140.0 L1482.4 143.6 L1485.3 145.8 L1488.2 143.2 L1491.1 140.7 L1494.0 141.2 L1496.9 143.2 L1500.5 143.6 L1504.1 142.2 L1507.0 141.2 L1510.7 142.2 L1513.6 143.6 L1516.4 142.9 L1520.1 141.4 L1523.0 142.9 L1525.9 143.2 L1529.5 143.2 L1532.4 148.7 L1534.6 147.2 L1536.0 134.2 L1538.2 119.0 L1539.3 124.1 L1540.4 148.7 L1541.8 184.9 L1543.3 228.4 L1544.2 244.6 L1545.7 208.0 L1547.2 146.9 L1548.7 108.7 L1550.3 81.2 L1551.8 90.4 L1553.3 116.3 L1554.5 139.2 L1556.4 146.9 L1558.7 140.8 L1561.0 138.5 L1563.2 141.5 L1565.5 145.4 L1570.1 145.4 L1574.7 145.4 L1578.5 145.4 L1581.6 147.6 L1584.6 147.6 L1587.7 144.6 L1590.7 144.6 L1593.8 147.6 L1597.6 150.7 L1600.7 147.6 L1603.7 144.6 L1606.8 146.1 L1609.8 148.7 L1612.9 148.7 L1617.5 146.1 L1622.0 145.4 L1626.6 144.6 L1631.2 143.5 L1635.8 144.1 L1638.8 146.9 L1641.1 151.2 L1643.4 142.3 L1644.9 125.5 L1646.9 117.9 L1648.3 131.6 L1649.5 169.8 L1650.7 215.6 L1652.1 247.7 L1653.8 223.2 L1655.6 162.2 L1657.2 108.7 L1658.7 77.4 L1660.2 85.8 L1661.7 108.7 L1663.3 131.6 L1664.5 143.8 L1666.3 143.8 L1668.6 133.1 L1670.9 131.6 L1673.2 137.7 L1675.2 146.9 L1677.0 148.4 L1678.5 139.2 L1680.1 119.4 L1681.9 116.3 L1683.1 139.2 L1684.6 177.4 L1686.2 223.2 L1687.4 251.5 L1688.9 223.2 L1690.4 162.2 L1692.3 93.4 L1694.1 75.1 L1696.1 93.4 L1697.6 116.3 L1699.1 139.2 L1700.7 145.4 L1703.0 137.7 L1706.0 132.4 L1709.1 135.0 L1712.1 138.9 L1714.4 140.0 L1717.5 137.7 L1720.5 137.0 L1724.3 137.4 L1727.4 138.9 L1729.7 143.8 L1732.0 145.4 L1733.5 134.7 L1735.8 114.8 L1737.8 114.8 L1738.8 146.9 L1740.4 177.4 L1741.9 223.2 L1743.4 249.2 L1745.0 223.2 L1746.5 146.9 L1748.0 85.8 L1749.5 72.8 L1751.1 85.8 L1752.6 116.3 L1754.1 139.2 L1755.6 143.8 L1757.9 134.7 L1760.2 131.6 L1762.5 135.4 L1764.8 137.7 L1767.1 135.4 L1770.1 137.0 L1773.2 141.5 L1776.3 143.1 L1779.3 141.1 L1783.1 140.8 L1786.2 145.4 L1788.5 147.6 L1791.5 142.3 L1794.6 139.2 L1797.6 141.5 L1800.7 145.4 L1803.0 145.8 L1806.0 143.8 L1808.3 140.8" fill="none" stroke="#0072bd" stroke-width="2.2" stroke-linejoin="round"/><rect x="193" y="49" width="1627" height="208.60000000000002" fill="none" stroke="#262626" stroke-width="2"/><path d="M464.17 257.6v-16.3M464.17 49v16.3M735.33 257.6v-16.3M735.33 49v16.3M1006.50 257.6v-16.3M1006.50 49v16.3M1277.67 257.6v-16.3M1277.67 49v16.3M1548.83 257.6v-16.3M1548.83 49v16.3M193 122.60h16.3M1820 122.60h-16.3" stroke="#262626" stroke-width="1.8" fill="none"/><rect x="193" y="442" width="1627" height="1359" fill="none" stroke="#262626" stroke-width="2"/><path d="M465.50 1801v-16.3M465.50 442v16.3M739.20 1801v-16.3M739.20 442v16.3M1012.90 1801v-16.3M1012.90 442v16.3M1286.60 1801v-16.3M1286.60 442v16.3M1560.30 1801v-16.3M1560.30 442v16.3M193 1461.25h16.3M1820 1461.25h-16.3M193 1121.50h16.3M1820 1121.50h-16.3M193 781.75h16.3M1820 781.75h-16.3" stroke="#262626" stroke-width="1.8" fill="none"/><rect x="1854.4" y="1779.77" width="22.50" height="21.83" fill="#3e26a8"/><rect x="1854.4" y="1758.53" width="22.50" height="21.83" fill="#402ab4"/><rect x="1854.4" y="1737.30" width="22.50" height="21.83" fill="#422ec0"/><rect x="1854.4" y="1716.06" width="22.50" height="21.83" fill="#4332cb"/><rect x="1854.4" y="1694.83" width="22.50" height="21.83" fill="#4537d5"/><rect x="1854.4" y="1673.59" width="22.50" height="21.83" fill="#463cde"/><rect x="1854.4" y="1652.36" width="22.50" height="21.83" fill="#4741e5"/><rect x="1854.4" y="1631.12" width="22.50" height="21.83" fill="#4747eb"/><rect x="1854.4" y="1609.89" width="22.50" height="21.83" fill="#484df0"/><rect x="1854.4" y="1588.66" width="22.50" height="21.83" fill="#4852f4"/><rect x="1854.4" y="1567.42" width="22.50" height="21.83" fill="#4758f8"/><rect x="1854.4" y="1546.19" width="22.50" height="21.83" fill="#465efb"/><rect x="1854.4" y="1524.95" width="22.50" height="21.83" fill="#4563fd"/><rect x="1854.4" y="1503.72" width="22.50" height="21.83" fill="#4269fe"/><rect x="1854.4" y="1482.48" width="22.50" height="21.83" fill="#3e6fff"/><rect x="1854.4" y="1461.25" width="22.50" height="21.83" fill="#3875fe"/><rect x="1854.4" y="1440.02" width="22.50" height="21.83" fill="#327cfc"/><rect x="1854.4" y="1418.78" width="22.50" height="21.83" fill="#2f81fa"/><rect x="1854.4" y="1397.55" width="22.50" height="21.83" fill="#2e87f7"/><rect x="1854.4" y="1376.31" width="22.50" height="21.83" fill="#2d8cf3"/><rect x="1854.4" y="1355.08" width="22.50" height="21.83" fill="#2b91ef"/><rect x="1854.4" y="1333.84" width="22.50" height="21.83" fill="#2797eb"/><rect x="1854.4" y="1312.61" width="22.50" height="21.83" fill="#259be8"/><rect x="1854.4" y="1291.38" width="22.50" height="21.83" fill="#23a0e5"/><rect x="1854.4" y="1270.14" width="22.50" height="21.83" fill="#20a5e3"/><rect x="1854.4" y="1248.91" width="22.50" height="21.83" fill="#1ca9df"/><rect x="1854.4" y="1227.67" width="22.50" height="21.83" fill="#18addb"/><rect x="1854.4" y="1206.44" width="22.50" height="21.83" fill="#12b1d6"/><rect x="1854.4" y="1185.20" width="22.50" height="21.83" fill="#08b5d0"/><rect x="1854.4" y="1163.97" width="22.50" height="21.83" fill="#01b8ca"/><rect x="1854.4" y="1142.73" width="22.50" height="21.83" fill="#02bac3"/><rect x="1854.4" y="1121.50" width="22.50" height="21.83" fill="#0bbdbd"/><rect x="1854.4" y="1100.27" width="22.50" height="21.83" fill="#19bfb6"/><rect x="1854.4" y="1079.03" width="22.50" height="21.83" fill="#24c1ae"/><rect x="1854.4" y="1057.80" width="22.50" height="21.83" fill="#2cc4a7"/><rect x="1854.4" y="1036.56" width="22.50" height="21.83" fill="#31c69f"/><rect x="1854.4" y="1015.33" width="22.50" height="21.83" fill="#37c897"/><rect x="1854.4" y="994.09" width="22.50" height="21.83" fill="#3fca8e"/><rect x="1854.4" y="972.86" width="22.50" height="21.83" fill="#4acb84"/><rect x="1854.4" y="951.62" width="22.50" height="21.83" fill="#57cc7a"/><rect x="1854.4" y="930.39" width="22.50" height="21.83" fill="#64cd6f"/><rect x="1854.4" y="909.16" width="22.50" height="21.83" fill="#72cd64"/><rect x="1854.4" y="887.92" width="22.50" height="21.83" fill="#81cc59"/><rect x="1854.4" y="866.69" width="22.50" height="21.83" fill="#8fcb4e"/><rect x="1854.4" y="845.45" width="22.50" height="21.83" fill="#9dc943"/><rect x="1854.4" y="824.22" width="22.50" height="21.83" fill="#abc739"/><rect x="1854.4" y="802.98" width="22.50" height="21.83" fill="#b9c431"/><rect x="1854.4" y="781.75" width="22.50" height="21.83" fill="#c5c22a"/><rect x="1854.4" y="760.52" width="22.50" height="21.83" fill="#d1bf27"/><rect x="1854.4" y="739.28" width="22.50" height="21.83" fill="#dcbd29"/><rect x="1854.4" y="718.05" width="22.50" height="21.83" fill="#e6bb2d"/><rect x="1854.4" y="696.81" width="22.50" height="21.83" fill="#f0ba36"/><rect x="1854.4" y="675.58" width="22.50" height="21.83" fill="#f8ba3d"/><rect x="1854.4" y="654.34" width="22.50" height="21.83" fill="#febe3c"/><rect x="1854.4" y="633.11" width="22.50" height="21.83" fill="#fec338"/><rect x="1854.4" y="611.88" width="22.50" height="21.83" fill="#fec934"/><rect x="1854.4" y="590.64" width="22.50" height="21.83" fill="#fccf30"/><rect x="1854.4" y="569.41" width="22.50" height="21.83" fill="#fad62d"/><rect x="1854.4" y="548.17" width="22.50" height="21.83" fill="#f7dc2a"/><rect x="1854.4" y="526.94" width="22.50" height="21.83" fill="#f5e327"/><rect x="1854.4" y="505.70" width="22.50" height="21.83" fill="#f5e924"/><rect x="1854.4" y="484.47" width="22.50" height="21.83" fill="#f6ef20"/><rect x="1854.4" y="463.23" width="22.50" height="21.83" fill="#f7f51b"/><rect x="1854.4" y="442.00" width="22.50" height="21.83" fill="#f9fb15"/><rect x="1854.4" y="442" width="22.50" height="1359" fill="none" stroke="#262626" stroke-width="2"/><path d="M1876.9 546.40h-14M1876.9 691.05h-14M1876.9 835.70h-14M1876.9 980.35h-14M1876.9 1125.00h-14M1876.9 1269.65h-14M1876.9 1414.30h-14M1876.9 1558.95h-14M1876.9 1703.60h-14" stroke="#262626" stroke-width="1.8" fill="none"/><g font-family="Liberation Serif, Times New Roman, serif" fill="#262626" font-size="56"><text x="193.00" y="330.3" text-anchor="middle">0</text><text x="464.17" y="330.3" text-anchor="middle">50</text><text x="735.33" y="330.3" text-anchor="middle">100</text><text x="1006.50" y="330.3" text-anchor="middle">150</text><text x="1277.67" y="330.3" text-anchor="middle">200</text><text x="1548.83" y="330.3" text-anchor="middle">250</text><text x="1820.00" y="330.3" text-anchor="middle">300</text><text x="191.80" y="1874.1" text-anchor="middle">0</text><text x="465.50" y="1874.1" text-anchor="middle">50</text><text x="739.20" y="1874.1" text-anchor="middle">100</text><text x="1012.90" y="1874.1" text-anchor="middle">150</text><text x="1286.60" y="1874.1" text-anchor="middle">200</text><text x="1560.30" y="1874.1" text-anchor="middle">250</text><text x="1820.00" y="1874.1" text-anchor="middle">300</text><text x="169" y="278.3" text-anchor="end">0.5</text><text x="169" y="143.3" text-anchor="end">1</text><text x="169" y="1821.7" text-anchor="end">0</text><text x="169" y="1482.0" text-anchor="end">0.5</text><text x="169" y="1142.2" text-anchor="end">1</text><text x="169" y="802.5" text-anchor="end">1.5</text><text x="169" y="462.7" text-anchor="end">2</text><text x="1898" y="567.1">-1</text><text x="1898" y="711.8">-2</text><text x="1898" y="856.4">-3</text><text x="1898" y="1001.1">-4</text><text x="1898" y="1145.7">-5</text><text x="1898" y="1290.4">-6</text><text x="1898" y="1435.0">-7</text><text x="1898" y="1579.7">-8</text><text x="1898" y="1724.3">-9</text></g><g font-family="Liberation Serif, Times New Roman, serif" fill="#262626" font-size="61.6"><text x="1006.5" y="392.5" text-anchor="middle">(a) Samples</text><text x="1006.5" y="1942" text-anchor="middle">(b) Samples</text><text transform="translate(72 164.5) rotate(-90)" text-anchor="middle" font-size="62.6">HRV (sec)</text><text transform="translate(76.7 1122.5) rotate(-90)" text-anchor="middle">Frequency (Hz)</text></g></svg>
</body></html>
